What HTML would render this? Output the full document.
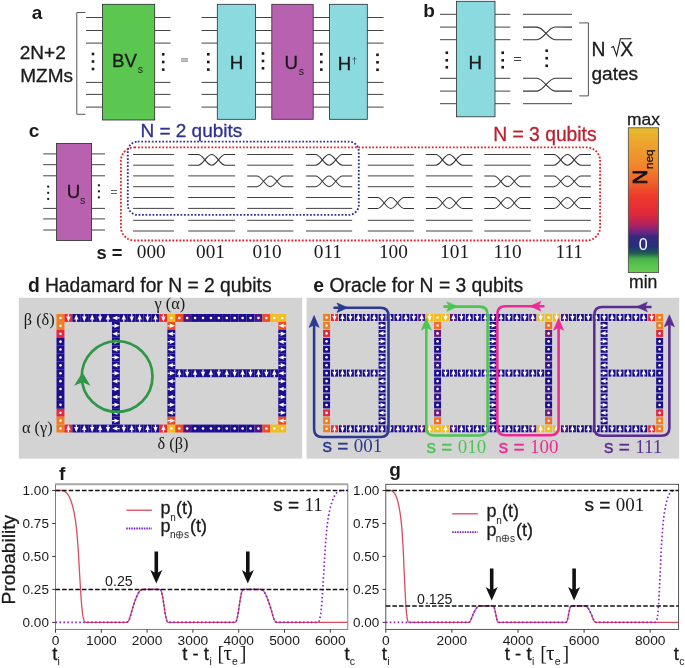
<!DOCTYPE html>
<html><head><meta charset="utf-8"><title>Figure</title>
<style>
html,body{margin:0;padding:0;background:#fff;}
svg{display:block;will-change:transform;transform:translateZ(0)}
.s{font-family:"Liberation Sans",sans-serif;}
.b{font-family:"Liberation Sans",sans-serif;font-weight:bold;}
.f{font-family:"Liberation Serif",serif;}
</style></head><body>
<svg width="685" height="668" viewBox="0 0 685 668">
<rect x="0" y="0" width="685" height="668" fill="#ffffff"/>
<text x="31.80" y="18.90" class="b" font-size="19" fill="#1a1a1a" text-anchor="start" >a</text>
<text x="19.80" y="59.00" class="s" font-size="19" fill="#1a1a1a" text-anchor="start"  stroke="#1a1a1a" stroke-width="0.3">2N+2</text>
<text x="20.30" y="81.60" class="s" font-size="19" fill="#1a1a1a" text-anchor="start"  stroke="#1a1a1a" stroke-width="0.3">MZMs</text>
<polyline points="85.4,12.5 76.8,12.5 76.8,114.3 85.4,114.3" fill="none" stroke="#555" stroke-width="1"/>
<line x1="86.00" y1="17.50" x2="102.50" y2="17.50" stroke="#444444" stroke-width="1.0" />
<line x1="154.70" y1="17.50" x2="170.50" y2="17.50" stroke="#444444" stroke-width="1.0" />
<line x1="201.50" y1="17.50" x2="217.30" y2="17.50" stroke="#444444" stroke-width="1.0" />
<line x1="255.50" y1="17.50" x2="271.80" y2="17.50" stroke="#444444" stroke-width="1.0" />
<line x1="313.20" y1="17.50" x2="329.40" y2="17.50" stroke="#444444" stroke-width="1.0" />
<line x1="367.30" y1="17.50" x2="383.60" y2="17.50" stroke="#444444" stroke-width="1.0" />
<line x1="86.00" y1="30.50" x2="102.50" y2="30.50" stroke="#444444" stroke-width="1.0" />
<line x1="154.70" y1="30.50" x2="170.50" y2="30.50" stroke="#444444" stroke-width="1.0" />
<line x1="201.50" y1="30.50" x2="217.30" y2="30.50" stroke="#444444" stroke-width="1.0" />
<line x1="255.50" y1="30.50" x2="271.80" y2="30.50" stroke="#444444" stroke-width="1.0" />
<line x1="313.20" y1="30.50" x2="329.40" y2="30.50" stroke="#444444" stroke-width="1.0" />
<line x1="367.30" y1="30.50" x2="383.60" y2="30.50" stroke="#444444" stroke-width="1.0" />
<line x1="86.00" y1="43.10" x2="102.50" y2="43.10" stroke="#444444" stroke-width="1.0" />
<line x1="154.70" y1="43.10" x2="170.50" y2="43.10" stroke="#444444" stroke-width="1.0" />
<line x1="201.50" y1="43.10" x2="217.30" y2="43.10" stroke="#444444" stroke-width="1.0" />
<line x1="255.50" y1="43.10" x2="271.80" y2="43.10" stroke="#444444" stroke-width="1.0" />
<line x1="313.20" y1="43.10" x2="329.40" y2="43.10" stroke="#444444" stroke-width="1.0" />
<line x1="367.30" y1="43.10" x2="383.60" y2="43.10" stroke="#444444" stroke-width="1.0" />
<line x1="86.00" y1="82.40" x2="102.50" y2="82.40" stroke="#444444" stroke-width="1.0" />
<line x1="154.70" y1="82.40" x2="170.50" y2="82.40" stroke="#444444" stroke-width="1.0" />
<line x1="201.50" y1="82.40" x2="217.30" y2="82.40" stroke="#444444" stroke-width="1.0" />
<line x1="255.50" y1="82.40" x2="271.80" y2="82.40" stroke="#444444" stroke-width="1.0" />
<line x1="313.20" y1="82.40" x2="329.40" y2="82.40" stroke="#444444" stroke-width="1.0" />
<line x1="367.30" y1="82.40" x2="383.60" y2="82.40" stroke="#444444" stroke-width="1.0" />
<line x1="86.00" y1="94.40" x2="102.50" y2="94.40" stroke="#444444" stroke-width="1.0" />
<line x1="154.70" y1="94.40" x2="170.50" y2="94.40" stroke="#444444" stroke-width="1.0" />
<line x1="201.50" y1="94.40" x2="217.30" y2="94.40" stroke="#444444" stroke-width="1.0" />
<line x1="255.50" y1="94.40" x2="271.80" y2="94.40" stroke="#444444" stroke-width="1.0" />
<line x1="313.20" y1="94.40" x2="329.40" y2="94.40" stroke="#444444" stroke-width="1.0" />
<line x1="367.30" y1="94.40" x2="383.60" y2="94.40" stroke="#444444" stroke-width="1.0" />
<line x1="86.00" y1="107.10" x2="102.50" y2="107.10" stroke="#444444" stroke-width="1.0" />
<line x1="154.70" y1="107.10" x2="170.50" y2="107.10" stroke="#444444" stroke-width="1.0" />
<line x1="201.50" y1="107.10" x2="217.30" y2="107.10" stroke="#444444" stroke-width="1.0" />
<line x1="255.50" y1="107.10" x2="271.80" y2="107.10" stroke="#444444" stroke-width="1.0" />
<line x1="313.20" y1="107.10" x2="329.40" y2="107.10" stroke="#444444" stroke-width="1.0" />
<line x1="367.30" y1="107.10" x2="383.60" y2="107.10" stroke="#444444" stroke-width="1.0" />
<rect x="102.50" y="4.30" width="52.20" height="115.70" fill="#5bc750" stroke="#2a2a2a" stroke-width="0.8" />
<rect x="217.30" y="4.30" width="38.20" height="115.00" fill="#8bdae0" stroke="#2a2a2a" stroke-width="0.8" />
<rect x="271.80" y="4.30" width="41.40" height="115.00" fill="#b961b1" stroke="#2a2a2a" stroke-width="0.8" />
<rect x="329.40" y="4.30" width="37.90" height="115.00" fill="#8bdae0" stroke="#2a2a2a" stroke-width="0.8" />
<rect x="91.70" y="52.70" width="2.60" height="2.60" fill="#1a1a1a"/>
<rect x="91.70" y="60.20" width="2.60" height="2.60" fill="#1a1a1a"/>
<rect x="91.70" y="67.70" width="2.60" height="2.60" fill="#1a1a1a"/>
<rect x="161.90" y="53.00" width="2.60" height="2.60" fill="#1a1a1a"/>
<rect x="161.90" y="60.70" width="2.60" height="2.60" fill="#1a1a1a"/>
<rect x="161.90" y="68.30" width="2.60" height="2.60" fill="#1a1a1a"/>
<rect x="207.00" y="53.00" width="2.60" height="2.60" fill="#1a1a1a"/>
<rect x="207.00" y="60.70" width="2.60" height="2.60" fill="#1a1a1a"/>
<rect x="207.00" y="68.30" width="2.60" height="2.60" fill="#1a1a1a"/>
<rect x="261.70" y="52.20" width="2.60" height="2.60" fill="#1a1a1a"/>
<rect x="261.70" y="59.70" width="2.60" height="2.60" fill="#1a1a1a"/>
<rect x="261.70" y="67.00" width="2.60" height="2.60" fill="#1a1a1a"/>
<rect x="320.00" y="53.00" width="2.60" height="2.60" fill="#1a1a1a"/>
<rect x="320.00" y="60.70" width="2.60" height="2.60" fill="#1a1a1a"/>
<rect x="320.00" y="68.30" width="2.60" height="2.60" fill="#1a1a1a"/>
<rect x="376.20" y="53.50" width="2.60" height="2.60" fill="#1a1a1a"/>
<rect x="376.20" y="61.00" width="2.60" height="2.60" fill="#1a1a1a"/>
<rect x="376.20" y="68.50" width="2.60" height="2.60" fill="#1a1a1a"/>
<text x="112.00" y="67.30" class="s" font-size="18.7" fill="#1a1a1a" text-anchor="start"  stroke="#1a1a1a" stroke-width="0.3">BV</text>
<text x="137.70" y="73.40" class="s" font-size="10.6" fill="#1a1a1a" text-anchor="start" >s</text>
<line x1="181.00" y1="58.90" x2="188.00" y2="58.90" stroke="#8c8c8c" stroke-width="1.3" />
<line x1="181.00" y1="61.10" x2="188.00" y2="61.10" stroke="#8c8c8c" stroke-width="1.3" />
<text x="229.70" y="68.90" class="s" font-size="18.7" fill="#1a1a1a" text-anchor="start"  stroke="#1a1a1a" stroke-width="0.3">H</text>
<text x="284.60" y="69.00" class="s" font-size="18.7" fill="#1a1a1a" text-anchor="start"  stroke="#1a1a1a" stroke-width="0.3">U</text>
<text x="298.80" y="75.30" class="s" font-size="10.6" fill="#1a1a1a" text-anchor="start" >s</text>
<text x="337.80" y="69.90" class="s" font-size="18.7" fill="#1a1a1a" text-anchor="start"  stroke="#1a1a1a" stroke-width="0.3">H</text>
<text x="351.80" y="63.60" class="s" font-size="9.5" fill="#3a4650" text-anchor="start" >†</text>
<text x="423.20" y="17.10" class="b" font-size="19" fill="#1a1a1a" text-anchor="start" >b</text>
<line x1="440.00" y1="14.30" x2="456.50" y2="14.30" stroke="#444444" stroke-width="1.0" />
<line x1="495.00" y1="14.30" x2="510.30" y2="14.30" stroke="#444444" stroke-width="1.0" />
<line x1="440.00" y1="27.10" x2="456.50" y2="27.10" stroke="#444444" stroke-width="1.0" />
<line x1="495.00" y1="27.10" x2="510.30" y2="27.10" stroke="#444444" stroke-width="1.0" />
<line x1="440.00" y1="39.70" x2="456.50" y2="39.70" stroke="#444444" stroke-width="1.0" />
<line x1="495.00" y1="39.70" x2="510.30" y2="39.70" stroke="#444444" stroke-width="1.0" />
<line x1="440.00" y1="78.30" x2="456.50" y2="78.30" stroke="#444444" stroke-width="1.0" />
<line x1="495.00" y1="78.30" x2="510.30" y2="78.30" stroke="#444444" stroke-width="1.0" />
<line x1="440.00" y1="91.10" x2="456.50" y2="91.10" stroke="#444444" stroke-width="1.0" />
<line x1="495.00" y1="91.10" x2="510.30" y2="91.10" stroke="#444444" stroke-width="1.0" />
<line x1="440.00" y1="103.70" x2="456.50" y2="103.70" stroke="#444444" stroke-width="1.0" />
<line x1="495.00" y1="103.70" x2="510.30" y2="103.70" stroke="#444444" stroke-width="1.0" />
<rect x="456.50" y="1.30" width="38.50" height="115.50" fill="#8bdae0" stroke="#2a2a2a" stroke-width="0.8" />
<text x="468.50" y="68.50" class="s" font-size="18.7" fill="#1a1a1a" text-anchor="start"  stroke="#1a1a1a" stroke-width="0.3">H</text>
<rect x="445.50" y="51.40" width="2.60" height="2.60" fill="#1a1a1a"/>
<rect x="445.50" y="59.00" width="2.60" height="2.60" fill="#1a1a1a"/>
<rect x="445.50" y="66.00" width="2.60" height="2.60" fill="#1a1a1a"/>
<rect x="501.40" y="51.40" width="2.60" height="2.60" fill="#1a1a1a"/>
<rect x="501.40" y="59.00" width="2.60" height="2.60" fill="#1a1a1a"/>
<rect x="501.40" y="66.00" width="2.60" height="2.60" fill="#1a1a1a"/>
<rect x="545.40" y="49.40" width="2.60" height="2.60" fill="#1a1a1a"/>
<rect x="545.40" y="56.90" width="2.60" height="2.60" fill="#1a1a1a"/>
<rect x="545.40" y="64.50" width="2.60" height="2.60" fill="#1a1a1a"/>
<line x1="514.00" y1="57.50" x2="521.00" y2="57.50" stroke="#444" stroke-width="1.0" />
<line x1="514.00" y1="60.50" x2="521.00" y2="60.50" stroke="#444" stroke-width="1.0" />
<line x1="523.00" y1="14.30" x2="572.00" y2="14.30" stroke="#444444" stroke-width="1.0" />
<line x1="523.00" y1="103.70" x2="572.00" y2="103.70" stroke="#444444" stroke-width="1.0" />
<path d="M523.00,27.10 H537.00 C543.30,27.10 548.70,39.70 555.00,39.70 H572.00" fill="none" stroke="#333" stroke-width="1.05"/>
<path d="M523.00,39.70 H537.00 C543.30,39.70 548.70,27.10 555.00,27.10 H572.00" fill="none" stroke="#333" stroke-width="1.05"/>
<path d="M523.00,78.30 H537.00 C543.30,78.30 548.70,91.10 555.00,91.10 H572.00" fill="none" stroke="#333" stroke-width="1.05"/>
<path d="M523.00,91.10 H537.00 C543.30,91.10 548.70,78.30 555.00,78.30 H572.00" fill="none" stroke="#333" stroke-width="1.05"/>
<polyline points="579.2,22.9 588.4,22.9 588.4,95.9 579.2,95.9" fill="none" stroke="#555" stroke-width="1"/>
<text x="591.60" y="55.90" class="s" font-size="19.3" fill="#1a1a1a" text-anchor="start"  stroke="#1a1a1a" stroke-width="0.3">N</text>
<path d="M611.2,47.6 L613.4,46.6 L616.6,55.6 L620.4,38.7 L631.3,38.7" fill="none" stroke="#1a1a1a" stroke-width="1.1" stroke-linejoin="miter"/>
<text x="620.30" y="55.90" class="s" font-size="19.3" fill="#1a1a1a" text-anchor="start"  stroke="#1a1a1a" stroke-width="0.3">X</text>
<text x="591.40" y="79.90" class="s" font-size="19.1" fill="#1a1a1a" text-anchor="start"  stroke="#1a1a1a" stroke-width="0.3">gates</text>
<text x="28.70" y="137.20" class="b" font-size="19" fill="#1a1a1a" text-anchor="start" >c</text>
<line x1="43.20" y1="153.90" x2="56.50" y2="153.90" stroke="#444444" stroke-width="1.0" />
<line x1="91.60" y1="153.90" x2="105.00" y2="153.90" stroke="#444444" stroke-width="1.0" />
<line x1="43.20" y1="164.70" x2="56.50" y2="164.70" stroke="#444444" stroke-width="1.0" />
<line x1="91.60" y1="164.70" x2="105.00" y2="164.70" stroke="#444444" stroke-width="1.0" />
<line x1="43.20" y1="175.80" x2="56.50" y2="175.80" stroke="#444444" stroke-width="1.0" />
<line x1="91.60" y1="175.80" x2="105.00" y2="175.80" stroke="#444444" stroke-width="1.0" />
<line x1="43.20" y1="208.40" x2="56.50" y2="208.40" stroke="#444444" stroke-width="1.0" />
<line x1="91.60" y1="208.40" x2="105.00" y2="208.40" stroke="#444444" stroke-width="1.0" />
<line x1="43.20" y1="218.90" x2="56.50" y2="218.90" stroke="#444444" stroke-width="1.0" />
<line x1="91.60" y1="218.90" x2="105.00" y2="218.90" stroke="#444444" stroke-width="1.0" />
<line x1="43.20" y1="230.00" x2="56.50" y2="230.00" stroke="#444444" stroke-width="1.0" />
<line x1="91.60" y1="230.00" x2="105.00" y2="230.00" stroke="#444444" stroke-width="1.0" />
<rect x="56.50" y="143.40" width="35.10" height="97.10" fill="#b961b1" stroke="#2a2a2a" stroke-width="0.8" />
<rect x="47.20" y="185.60" width="2.00" height="2.00" fill="#1a1a1a"/>
<rect x="47.20" y="191.80" width="2.00" height="2.00" fill="#1a1a1a"/>
<rect x="47.20" y="197.90" width="2.00" height="2.00" fill="#1a1a1a"/>
<rect x="97.90" y="184.30" width="2.00" height="2.00" fill="#1a1a1a"/>
<rect x="97.90" y="190.30" width="2.00" height="2.00" fill="#1a1a1a"/>
<rect x="97.90" y="196.40" width="2.00" height="2.00" fill="#1a1a1a"/>
<text x="66.80" y="198.00" class="s" font-size="18.7" fill="#1a1a1a" text-anchor="start"  stroke="#1a1a1a" stroke-width="0.3">U</text>
<text x="80.00" y="204.10" class="s" font-size="10.6" fill="#1a1a1a" text-anchor="start" >s</text>
<line x1="111.00" y1="190.50" x2="117.00" y2="190.50" stroke="#5a5a5a" stroke-width="0.95" />
<line x1="111.00" y1="193.50" x2="117.00" y2="193.50" stroke="#5a5a5a" stroke-width="0.95" />
<line x1="133.10" y1="154.50" x2="173.90" y2="154.50" stroke="#444444" stroke-width="1.0" />
<line x1="133.10" y1="165.20" x2="173.90" y2="165.20" stroke="#444444" stroke-width="1.0" />
<line x1="133.10" y1="175.90" x2="173.90" y2="175.90" stroke="#444444" stroke-width="1.0" />
<line x1="133.10" y1="186.70" x2="173.90" y2="186.70" stroke="#444444" stroke-width="1.0" />
<line x1="133.10" y1="197.50" x2="173.90" y2="197.50" stroke="#444444" stroke-width="1.0" />
<line x1="133.10" y1="208.40" x2="173.90" y2="208.40" stroke="#444444" stroke-width="1.0" />
<line x1="133.10" y1="220.30" x2="173.90" y2="220.30" stroke="#444444" stroke-width="1.0" />
<line x1="133.10" y1="231.00" x2="173.90" y2="231.00" stroke="#444444" stroke-width="1.0" />
<text x="136.80" y="258.30" class="f" font-size="19.3" fill="#1a1a1a" text-anchor="start" >000</text>
<path d="M188.20,154.50 H198.05 C203.22,154.50 206.48,165.20 211.65,165.20 C216.82,165.20 220.08,154.50 225.25,154.50 H235.10" fill="none" stroke="#333" stroke-width="1.05"/>
<path d="M188.20,165.20 H198.05 C203.22,165.20 206.48,154.50 211.65,154.50 C216.82,154.50 220.08,165.20 225.25,165.20 H235.10" fill="none" stroke="#333" stroke-width="1.05"/>
<line x1="188.20" y1="175.90" x2="235.10" y2="175.90" stroke="#444444" stroke-width="1.0" />
<line x1="188.20" y1="186.70" x2="235.10" y2="186.70" stroke="#444444" stroke-width="1.0" />
<line x1="188.20" y1="197.50" x2="235.10" y2="197.50" stroke="#444444" stroke-width="1.0" />
<line x1="188.20" y1="208.40" x2="235.10" y2="208.40" stroke="#444444" stroke-width="1.0" />
<line x1="188.20" y1="220.30" x2="235.10" y2="220.30" stroke="#444444" stroke-width="1.0" />
<line x1="188.20" y1="231.00" x2="235.10" y2="231.00" stroke="#444444" stroke-width="1.0" />
<text x="196.00" y="258.30" class="f" font-size="19.3" fill="#1a1a1a" text-anchor="start" >001</text>
<path d="M247.20,175.90 H256.88 C261.96,175.90 265.17,186.70 270.25,186.70 C275.33,186.70 278.54,175.90 283.62,175.90 H293.30" fill="none" stroke="#333" stroke-width="1.05"/>
<path d="M247.20,186.70 H256.88 C261.96,186.70 265.17,175.90 270.25,175.90 C275.33,175.90 278.54,186.70 283.62,186.70 H293.30" fill="none" stroke="#333" stroke-width="1.05"/>
<line x1="247.20" y1="154.50" x2="293.30" y2="154.50" stroke="#444444" stroke-width="1.0" />
<line x1="247.20" y1="165.20" x2="293.30" y2="165.20" stroke="#444444" stroke-width="1.0" />
<line x1="247.20" y1="197.50" x2="293.30" y2="197.50" stroke="#444444" stroke-width="1.0" />
<line x1="247.20" y1="208.40" x2="293.30" y2="208.40" stroke="#444444" stroke-width="1.0" />
<line x1="247.20" y1="220.30" x2="293.30" y2="220.30" stroke="#444444" stroke-width="1.0" />
<line x1="247.20" y1="231.00" x2="293.30" y2="231.00" stroke="#444444" stroke-width="1.0" />
<text x="252.60" y="258.30" class="f" font-size="19.3" fill="#1a1a1a" text-anchor="start" >010</text>
<path d="M305.90,154.50 H315.62 C320.73,154.50 323.95,165.20 329.05,165.20 C334.15,165.20 337.37,154.50 342.48,154.50 H352.20" fill="none" stroke="#333" stroke-width="1.05"/>
<path d="M305.90,165.20 H315.62 C320.73,165.20 323.95,154.50 329.05,154.50 C334.15,154.50 337.37,165.20 342.48,165.20 H352.20" fill="none" stroke="#333" stroke-width="1.05"/>
<path d="M305.90,175.90 H315.62 C320.73,175.90 323.95,186.70 329.05,186.70 C334.15,186.70 337.37,175.90 342.48,175.90 H352.20" fill="none" stroke="#333" stroke-width="1.05"/>
<path d="M305.90,186.70 H315.62 C320.73,186.70 323.95,175.90 329.05,175.90 C334.15,175.90 337.37,186.70 342.48,186.70 H352.20" fill="none" stroke="#333" stroke-width="1.05"/>
<line x1="305.90" y1="197.50" x2="352.20" y2="197.50" stroke="#444444" stroke-width="1.0" />
<line x1="305.90" y1="208.40" x2="352.20" y2="208.40" stroke="#444444" stroke-width="1.0" />
<line x1="305.90" y1="220.30" x2="352.20" y2="220.30" stroke="#444444" stroke-width="1.0" />
<line x1="305.90" y1="231.00" x2="352.20" y2="231.00" stroke="#444444" stroke-width="1.0" />
<text x="313.80" y="258.30" class="f" font-size="19.3" fill="#1a1a1a" text-anchor="start" >011</text>
<path d="M367.80,197.50 H377.48 C382.56,197.50 385.77,208.40 390.85,208.40 C395.93,208.40 399.14,197.50 404.22,197.50 H413.90" fill="none" stroke="#333" stroke-width="1.05"/>
<path d="M367.80,208.40 H377.48 C382.56,208.40 385.77,197.50 390.85,197.50 C395.93,197.50 399.14,208.40 404.22,208.40 H413.90" fill="none" stroke="#333" stroke-width="1.05"/>
<line x1="367.80" y1="154.50" x2="413.90" y2="154.50" stroke="#444444" stroke-width="1.0" />
<line x1="367.80" y1="165.20" x2="413.90" y2="165.20" stroke="#444444" stroke-width="1.0" />
<line x1="367.80" y1="175.90" x2="413.90" y2="175.90" stroke="#444444" stroke-width="1.0" />
<line x1="367.80" y1="186.70" x2="413.90" y2="186.70" stroke="#444444" stroke-width="1.0" />
<line x1="367.80" y1="220.30" x2="413.90" y2="220.30" stroke="#444444" stroke-width="1.0" />
<line x1="367.80" y1="231.00" x2="413.90" y2="231.00" stroke="#444444" stroke-width="1.0" />
<text x="378.90" y="258.30" class="f" font-size="19.3" fill="#1a1a1a" text-anchor="start" >100</text>
<path d="M425.90,154.50 H435.71 C440.85,154.50 444.10,165.20 449.25,165.20 C454.40,165.20 457.65,154.50 462.79,154.50 H472.60" fill="none" stroke="#333" stroke-width="1.05"/>
<path d="M425.90,165.20 H435.71 C440.85,165.20 444.10,154.50 449.25,154.50 C454.40,154.50 457.65,165.20 462.79,165.20 H472.60" fill="none" stroke="#333" stroke-width="1.05"/>
<path d="M425.90,197.50 H435.71 C440.85,197.50 444.10,208.40 449.25,208.40 C454.40,208.40 457.65,197.50 462.79,197.50 H472.60" fill="none" stroke="#333" stroke-width="1.05"/>
<path d="M425.90,208.40 H435.71 C440.85,208.40 444.10,197.50 449.25,197.50 C454.40,197.50 457.65,208.40 462.79,208.40 H472.60" fill="none" stroke="#333" stroke-width="1.05"/>
<line x1="425.90" y1="175.90" x2="472.60" y2="175.90" stroke="#444444" stroke-width="1.0" />
<line x1="425.90" y1="186.70" x2="472.60" y2="186.70" stroke="#444444" stroke-width="1.0" />
<line x1="425.90" y1="220.30" x2="472.60" y2="220.30" stroke="#444444" stroke-width="1.0" />
<line x1="425.90" y1="231.00" x2="472.60" y2="231.00" stroke="#444444" stroke-width="1.0" />
<text x="440.10" y="258.30" class="f" font-size="19.3" fill="#1a1a1a" text-anchor="start" >101</text>
<path d="M484.30,175.90 H494.06 C499.19,175.90 502.43,186.70 507.55,186.70 C512.67,186.70 515.91,175.90 521.03,175.90 H530.80" fill="none" stroke="#333" stroke-width="1.05"/>
<path d="M484.30,186.70 H494.06 C499.19,186.70 502.43,175.90 507.55,175.90 C512.67,175.90 515.91,186.70 521.03,186.70 H530.80" fill="none" stroke="#333" stroke-width="1.05"/>
<path d="M484.30,197.50 H494.06 C499.19,197.50 502.43,208.40 507.55,208.40 C512.67,208.40 515.91,197.50 521.03,197.50 H530.80" fill="none" stroke="#333" stroke-width="1.05"/>
<path d="M484.30,208.40 H494.06 C499.19,208.40 502.43,197.50 507.55,197.50 C512.67,197.50 515.91,208.40 521.03,208.40 H530.80" fill="none" stroke="#333" stroke-width="1.05"/>
<line x1="484.30" y1="154.50" x2="530.80" y2="154.50" stroke="#444444" stroke-width="1.0" />
<line x1="484.30" y1="165.20" x2="530.80" y2="165.20" stroke="#444444" stroke-width="1.0" />
<line x1="484.30" y1="220.30" x2="530.80" y2="220.30" stroke="#444444" stroke-width="1.0" />
<line x1="484.30" y1="231.00" x2="530.80" y2="231.00" stroke="#444444" stroke-width="1.0" />
<text x="493.50" y="258.30" class="f" font-size="19.3" fill="#1a1a1a" text-anchor="start" >110</text>
<path d="M544.00,154.50 H553.85 C559.02,154.50 562.28,165.20 567.45,165.20 C572.62,165.20 575.88,154.50 581.05,154.50 H590.90" fill="none" stroke="#333" stroke-width="1.05"/>
<path d="M544.00,165.20 H553.85 C559.02,165.20 562.28,154.50 567.45,154.50 C572.62,154.50 575.88,165.20 581.05,165.20 H590.90" fill="none" stroke="#333" stroke-width="1.05"/>
<path d="M544.00,175.90 H553.85 C559.02,175.90 562.28,186.70 567.45,186.70 C572.62,186.70 575.88,175.90 581.05,175.90 H590.90" fill="none" stroke="#333" stroke-width="1.05"/>
<path d="M544.00,186.70 H553.85 C559.02,186.70 562.28,175.90 567.45,175.90 C572.62,175.90 575.88,186.70 581.05,186.70 H590.90" fill="none" stroke="#333" stroke-width="1.05"/>
<path d="M544.00,197.50 H553.85 C559.02,197.50 562.28,208.40 567.45,208.40 C572.62,208.40 575.88,197.50 581.05,197.50 H590.90" fill="none" stroke="#333" stroke-width="1.05"/>
<path d="M544.00,208.40 H553.85 C559.02,208.40 562.28,197.50 567.45,197.50 C572.62,197.50 575.88,208.40 581.05,208.40 H590.90" fill="none" stroke="#333" stroke-width="1.05"/>
<line x1="544.00" y1="220.30" x2="590.90" y2="220.30" stroke="#444444" stroke-width="1.0" />
<line x1="544.00" y1="231.00" x2="590.90" y2="231.00" stroke="#444444" stroke-width="1.0" />
<text x="555.50" y="258.30" class="f" font-size="19.3" fill="#1a1a1a" text-anchor="start" >111</text>
<text x="96.50" y="258.50" class="b" font-size="18.3" fill="#1a1a1a" text-anchor="start" >s =</text>
<rect x="127.8" y="141.6" width="231.0" height="73.3" rx="10" ry="10" fill="none" stroke="#2e3192" stroke-width="1.85" stroke-dasharray="1.75 1.75"/>
<rect x="120.9" y="147.3" width="479.2" height="93.2" rx="13.5" ry="13.5" fill="none" stroke="#ed1c24" stroke-width="1.85" stroke-dasharray="1.75 1.75"/>
<text x="140.40" y="137.20" class="s" font-size="19" fill="#2e3192" text-anchor="start"  stroke="#2e3192" stroke-width="0.3">N = 2 qubits</text>
<text x="493.20" y="140.50" class="s" font-size="19.3" fill="#be1e2d" text-anchor="start"  stroke="#be1e2d" stroke-width="0.3">N = 3 qubits</text>
<defs><linearGradient id="cb" x1="0" y1="0" x2="0" y2="1">
<stop offset="0" stop-color="#e6bd2e"/><stop offset="0.10" stop-color="#eca52c"/><stop offset="0.25" stop-color="#f08a2c"/>
<stop offset="0.38" stop-color="#f0602a"/><stop offset="0.47" stop-color="#ee3a2a"/><stop offset="0.58" stop-color="#e42a36"/>
<stop offset="0.66" stop-color="#b8225a"/><stop offset="0.715" stop-color="#722680"/><stop offset="0.755" stop-color="#36297f"/>
<stop offset="0.82" stop-color="#24307a"/><stop offset="0.865" stop-color="#1f5a52"/><stop offset="0.905" stop-color="#48b04a"/><stop offset="0.95" stop-color="#58c44e"/><stop offset="1" stop-color="#68cc50"/>
</linearGradient></defs>
<rect x="628.30" y="127.80" width="30.10" height="144.80" fill="url(#cb)" stroke="#4a4a40" stroke-width="0.8" />
<text x="643.40" y="124.50" class="s" font-size="17.4" fill="#1a1a1a" text-anchor="middle"  stroke="#1a1a1a" stroke-width="0.3">max</text>
<text x="643.20" y="287.70" class="s" font-size="17.6" fill="#1a1a1a" text-anchor="middle"  stroke="#1a1a1a" stroke-width="0.3">min</text>
<text x="643.20" y="249.70" class="s" font-size="16" fill="#ffffff" text-anchor="middle" >0</text>
<g transform="translate(647.0,184.4) rotate(-90)"><text x="0" y="0" class="s" font-size="20.6" fill="#111" stroke="#111" stroke-width="0.75">N</text><text x="15.4" y="5.7" class="s" font-size="11.8" fill="#111" stroke="#111" stroke-width="0.25">neq</text></g>
<text x="28.00" y="291.70" class="b" font-size="19.3" fill="#1a1a1a" text-anchor="start" >d</text>
<text x="44.90" y="291.70" class="s" font-size="19.3" fill="#1a1a1a" text-anchor="start"  stroke="#1a1a1a" stroke-width="0.3">Hadamard for N = 2 qubits</text>
<text x="313.30" y="291.70" class="b" font-size="19.3" fill="#1a1a1a" text-anchor="start" >e</text>
<text x="329.60" y="291.70" class="s" font-size="19.3" fill="#1a1a1a" text-anchor="start"  stroke="#1a1a1a" stroke-width="0.3">Oracle for N = 3 qubits</text>
<rect x="18.80" y="297.80" width="283.40" height="160.80" fill="#d3d3d3" stroke="none" stroke-width="0.8" />
<rect x="306.60" y="297.80" width="372.60" height="160.80" fill="#d3d3d3" stroke="none" stroke-width="0.8" />
<rect x="56.50" y="314.00" width="7.92" height="7.90" fill="#f47b20"/>
<circle cx="60.46" cy="317.95" r="1.3" fill="#fff"/>
<rect x="64.42" y="314.00" width="7.92" height="7.90" fill="#ee2630"/>
<polygon points="67.78,314.15 68.98,314.15 68.98,316.75 70.63,316.25 68.38,321.75 66.13,316.25 67.78,316.75" fill="#fff"/>
<rect x="72.34" y="314.00" width="7.92" height="7.90" fill="#1b0d8e"/>
<polygon points="75.70,321.75 76.90,321.75 76.90,319.15 78.55,319.65 76.30,314.15 74.05,319.65 75.70,319.15" fill="#fff"/>
<rect x="80.26" y="314.00" width="7.92" height="7.90" fill="#1b0d8e"/>
<polygon points="83.62,314.15 84.82,314.15 84.82,316.75 86.47,316.25 84.22,321.75 81.97,316.25 83.62,316.75" fill="#fff"/>
<rect x="88.18" y="314.00" width="7.92" height="7.90" fill="#1b0d8e"/>
<polygon points="91.54,321.75 92.74,321.75 92.74,319.15 94.39,319.65 92.14,314.15 89.89,319.65 91.54,319.15" fill="#fff"/>
<rect x="96.10" y="314.00" width="7.92" height="7.90" fill="#1b0d8e"/>
<polygon points="99.46,314.15 100.66,314.15 100.66,316.75 102.31,316.25 100.06,321.75 97.81,316.25 99.46,316.75" fill="#fff"/>
<rect x="104.02" y="314.00" width="7.92" height="7.90" fill="#1b0d8e"/>
<polygon points="107.38,321.75 108.58,321.75 108.58,319.15 110.23,319.65 107.98,314.15 105.73,319.65 107.38,319.15" fill="#fff"/>
<rect x="111.94" y="314.00" width="7.92" height="7.90" fill="#1b0d8e"/>
<polygon points="119.70,317.35 119.70,318.55 117.10,318.55 117.60,320.20 112.10,317.95 117.60,315.70 117.10,317.35" fill="#fff"/>
<rect x="119.86" y="314.00" width="7.92" height="7.90" fill="#1b0d8e"/>
<polygon points="123.22,321.75 124.42,321.75 124.42,319.15 126.07,319.65 123.82,314.15 121.57,319.65 123.22,319.15" fill="#fff"/>
<rect x="127.78" y="314.00" width="7.92" height="7.90" fill="#1b0d8e"/>
<polygon points="131.14,314.15 132.34,314.15 132.34,316.75 133.99,316.25 131.74,321.75 129.49,316.25 131.14,316.75" fill="#fff"/>
<rect x="135.70" y="314.00" width="7.92" height="7.90" fill="#1b0d8e"/>
<polygon points="139.06,321.75 140.26,321.75 140.26,319.15 141.91,319.65 139.66,314.15 137.41,319.65 139.06,319.15" fill="#fff"/>
<rect x="143.62" y="314.00" width="7.92" height="7.90" fill="#1b0d8e"/>
<polygon points="146.98,314.15 148.18,314.15 148.18,316.75 149.83,316.25 147.58,321.75 145.33,316.25 146.98,316.75" fill="#fff"/>
<rect x="151.54" y="314.00" width="7.92" height="7.90" fill="#1b0d8e"/>
<polygon points="154.90,321.75 156.10,321.75 156.10,319.15 157.75,319.65 155.50,314.15 153.25,319.65 154.90,319.15" fill="#fff"/>
<rect x="159.46" y="314.00" width="7.92" height="7.90" fill="#ee2630"/>
<polygon points="162.82,314.15 164.02,314.15 164.02,316.75 165.67,316.25 163.42,321.75 161.17,316.25 162.82,316.75" fill="#fff"/>
<rect x="167.38" y="314.00" width="7.92" height="7.90" fill="#f2bc1e"/>
<circle cx="171.34" cy="317.95" r="1.3" fill="#fff"/>
<rect x="175.30" y="314.00" width="7.92" height="7.90" fill="#f04a24"/>
<circle cx="179.26" cy="317.95" r="1.3" fill="#fff"/>
<rect x="183.22" y="314.00" width="7.92" height="7.90" fill="#4a1688"/>
<circle cx="187.18" cy="317.95" r="1.3" fill="#fff"/>
<rect x="191.14" y="314.00" width="7.92" height="7.90" fill="#1b0d8e"/>
<circle cx="195.10" cy="317.95" r="1.3" fill="#fff"/>
<rect x="199.06" y="314.00" width="7.92" height="7.90" fill="#1b0d8e"/>
<circle cx="203.02" cy="317.95" r="1.3" fill="#fff"/>
<rect x="206.98" y="314.00" width="7.92" height="7.90" fill="#1b0d8e"/>
<circle cx="210.94" cy="317.95" r="1.3" fill="#fff"/>
<rect x="214.90" y="314.00" width="7.92" height="7.90" fill="#1b0d8e"/>
<circle cx="218.86" cy="317.95" r="1.3" fill="#fff"/>
<rect x="222.82" y="314.00" width="7.92" height="7.90" fill="#1b0d8e"/>
<circle cx="226.78" cy="317.95" r="1.3" fill="#fff"/>
<rect x="230.74" y="314.00" width="7.92" height="7.90" fill="#1b0d8e"/>
<circle cx="234.70" cy="317.95" r="1.3" fill="#fff"/>
<rect x="238.66" y="314.00" width="7.92" height="7.90" fill="#1b0d8e"/>
<circle cx="242.62" cy="317.95" r="1.3" fill="#fff"/>
<rect x="246.58" y="314.00" width="7.92" height="7.90" fill="#1b0d8e"/>
<circle cx="250.54" cy="317.95" r="1.3" fill="#fff"/>
<rect x="254.50" y="314.00" width="7.92" height="7.90" fill="#4a1688"/>
<circle cx="258.46" cy="317.95" r="1.3" fill="#fff"/>
<rect x="262.42" y="314.00" width="7.92" height="7.90" fill="#f04a24"/>
<circle cx="266.38" cy="317.95" r="1.3" fill="#fff"/>
<rect x="270.34" y="314.00" width="7.92" height="7.90" fill="#f2bc1e"/>
<circle cx="274.30" cy="317.95" r="1.3" fill="#fff"/>
<rect x="278.26" y="314.00" width="7.92" height="7.90" fill="#f2bc1e"/>
<circle cx="282.22" cy="317.95" r="1.3" fill="#fff"/>
<rect x="56.50" y="424.60" width="7.92" height="7.90" fill="#f47b20"/>
<circle cx="60.46" cy="428.55" r="1.3" fill="#fff"/>
<rect x="64.42" y="424.60" width="7.92" height="7.90" fill="#ee2630"/>
<polygon points="67.78,432.35 68.98,432.35 68.98,429.75 70.63,430.25 68.38,424.75 66.13,430.25 67.78,429.75" fill="#fff"/>
<rect x="72.34" y="424.60" width="7.92" height="7.90" fill="#1b0d8e"/>
<polygon points="75.70,424.75 76.90,424.75 76.90,427.35 78.55,426.85 76.30,432.35 74.05,426.85 75.70,427.35" fill="#fff"/>
<rect x="80.26" y="424.60" width="7.92" height="7.90" fill="#1b0d8e"/>
<polygon points="83.62,432.35 84.82,432.35 84.82,429.75 86.47,430.25 84.22,424.75 81.97,430.25 83.62,429.75" fill="#fff"/>
<rect x="88.18" y="424.60" width="7.92" height="7.90" fill="#1b0d8e"/>
<polygon points="91.54,424.75 92.74,424.75 92.74,427.35 94.39,426.85 92.14,432.35 89.89,426.85 91.54,427.35" fill="#fff"/>
<rect x="96.10" y="424.60" width="7.92" height="7.90" fill="#1b0d8e"/>
<polygon points="99.46,432.35 100.66,432.35 100.66,429.75 102.31,430.25 100.06,424.75 97.81,430.25 99.46,429.75" fill="#fff"/>
<rect x="104.02" y="424.60" width="7.92" height="7.90" fill="#1b0d8e"/>
<polygon points="107.38,424.75 108.58,424.75 108.58,427.35 110.23,426.85 107.98,432.35 105.73,426.85 107.38,427.35" fill="#fff"/>
<rect x="111.94" y="424.60" width="7.92" height="7.90" fill="#1b0d8e"/>
<polygon points="119.70,427.95 119.70,429.15 117.10,429.15 117.60,430.80 112.10,428.55 117.60,426.30 117.10,427.95" fill="#fff"/>
<rect x="119.86" y="424.60" width="7.92" height="7.90" fill="#1b0d8e"/>
<polygon points="123.22,424.75 124.42,424.75 124.42,427.35 126.07,426.85 123.82,432.35 121.57,426.85 123.22,427.35" fill="#fff"/>
<rect x="127.78" y="424.60" width="7.92" height="7.90" fill="#1b0d8e"/>
<polygon points="131.14,432.35 132.34,432.35 132.34,429.75 133.99,430.25 131.74,424.75 129.49,430.25 131.14,429.75" fill="#fff"/>
<rect x="135.70" y="424.60" width="7.92" height="7.90" fill="#1b0d8e"/>
<polygon points="139.06,424.75 140.26,424.75 140.26,427.35 141.91,426.85 139.66,432.35 137.41,426.85 139.06,427.35" fill="#fff"/>
<rect x="143.62" y="424.60" width="7.92" height="7.90" fill="#1b0d8e"/>
<polygon points="146.98,432.35 148.18,432.35 148.18,429.75 149.83,430.25 147.58,424.75 145.33,430.25 146.98,429.75" fill="#fff"/>
<rect x="151.54" y="424.60" width="7.92" height="7.90" fill="#1b0d8e"/>
<polygon points="154.90,424.75 156.10,424.75 156.10,427.35 157.75,426.85 155.50,432.35 153.25,426.85 154.90,427.35" fill="#fff"/>
<rect x="159.46" y="424.60" width="7.92" height="7.90" fill="#ee2630"/>
<polygon points="162.82,432.35 164.02,432.35 164.02,429.75 165.67,430.25 163.42,424.75 161.17,430.25 162.82,429.75" fill="#fff"/>
<rect x="167.38" y="424.60" width="7.92" height="7.90" fill="#f2bc1e"/>
<circle cx="171.34" cy="428.55" r="1.3" fill="#fff"/>
<rect x="175.30" y="424.60" width="7.92" height="7.90" fill="#f04a24"/>
<circle cx="179.26" cy="428.55" r="1.3" fill="#fff"/>
<rect x="183.22" y="424.60" width="7.92" height="7.90" fill="#4a1688"/>
<circle cx="187.18" cy="428.55" r="1.3" fill="#fff"/>
<rect x="191.14" y="424.60" width="7.92" height="7.90" fill="#1b0d8e"/>
<circle cx="195.10" cy="428.55" r="1.3" fill="#fff"/>
<rect x="199.06" y="424.60" width="7.92" height="7.90" fill="#1b0d8e"/>
<circle cx="203.02" cy="428.55" r="1.3" fill="#fff"/>
<rect x="206.98" y="424.60" width="7.92" height="7.90" fill="#1b0d8e"/>
<circle cx="210.94" cy="428.55" r="1.3" fill="#fff"/>
<rect x="214.90" y="424.60" width="7.92" height="7.90" fill="#1b0d8e"/>
<circle cx="218.86" cy="428.55" r="1.3" fill="#fff"/>
<rect x="222.82" y="424.60" width="7.92" height="7.90" fill="#1b0d8e"/>
<circle cx="226.78" cy="428.55" r="1.3" fill="#fff"/>
<rect x="230.74" y="424.60" width="7.92" height="7.90" fill="#1b0d8e"/>
<circle cx="234.70" cy="428.55" r="1.3" fill="#fff"/>
<rect x="238.66" y="424.60" width="7.92" height="7.90" fill="#1b0d8e"/>
<circle cx="242.62" cy="428.55" r="1.3" fill="#fff"/>
<rect x="246.58" y="424.60" width="7.92" height="7.90" fill="#1b0d8e"/>
<circle cx="250.54" cy="428.55" r="1.3" fill="#fff"/>
<rect x="254.50" y="424.60" width="7.92" height="7.90" fill="#4a1688"/>
<circle cx="258.46" cy="428.55" r="1.3" fill="#fff"/>
<rect x="262.42" y="424.60" width="7.92" height="7.90" fill="#f04a24"/>
<circle cx="266.38" cy="428.55" r="1.3" fill="#fff"/>
<rect x="270.34" y="424.60" width="7.92" height="7.90" fill="#f2bc1e"/>
<circle cx="274.30" cy="428.55" r="1.3" fill="#fff"/>
<rect x="278.26" y="424.60" width="7.92" height="7.90" fill="#f2bc1e"/>
<circle cx="282.22" cy="428.55" r="1.3" fill="#fff"/>
<rect x="56.50" y="321.90" width="7.92" height="7.90" fill="#f47b20"/>
<circle cx="60.46" cy="325.85" r="1.3" fill="#fff"/>
<rect x="111.94" y="321.90" width="7.92" height="7.90" fill="#1b0d8e"/>
<polygon points="112.10,325.25 112.10,326.45 114.70,326.45 114.20,328.10 119.70,325.85 114.20,323.60 114.70,325.25" fill="#fff"/>
<rect x="167.38" y="321.90" width="7.92" height="7.90" fill="#f04a24"/>
<polygon points="167.54,325.25 167.54,326.45 170.14,326.45 169.64,328.10 175.14,325.85 169.64,323.60 170.14,325.25" fill="#fff"/>
<rect x="278.26" y="321.90" width="7.92" height="7.90" fill="#f04a24"/>
<polygon points="286.02,325.25 286.02,326.45 283.42,326.45 283.92,328.10 278.42,325.85 283.92,323.60 283.42,325.25" fill="#fff"/>
<rect x="56.50" y="329.80" width="7.92" height="7.90" fill="#e8243e"/>
<circle cx="60.46" cy="333.75" r="1.3" fill="#fff"/>
<rect x="111.94" y="329.80" width="7.92" height="7.90" fill="#1b0d8e"/>
<polygon points="119.70,333.15 119.70,334.35 117.10,334.35 117.60,336.00 112.10,333.75 117.60,331.50 117.10,333.15" fill="#fff"/>
<rect x="167.38" y="329.80" width="7.92" height="7.90" fill="#1b0d8e"/>
<polygon points="175.14,333.15 175.14,334.35 172.54,334.35 173.04,336.00 167.54,333.75 173.04,331.50 172.54,333.15" fill="#fff"/>
<rect x="278.26" y="329.80" width="7.92" height="7.90" fill="#1b0d8e"/>
<polygon points="278.42,333.15 278.42,334.35 281.02,334.35 280.52,336.00 286.02,333.75 280.52,331.50 281.02,333.15" fill="#fff"/>
<rect x="56.50" y="337.70" width="7.92" height="7.90" fill="#1b0d8e"/>
<circle cx="60.46" cy="341.65" r="1.3" fill="#fff"/>
<rect x="111.94" y="337.70" width="7.92" height="7.90" fill="#1b0d8e"/>
<polygon points="112.10,341.05 112.10,342.25 114.70,342.25 114.20,343.90 119.70,341.65 114.20,339.40 114.70,341.05" fill="#fff"/>
<rect x="167.38" y="337.70" width="7.92" height="7.90" fill="#1b0d8e"/>
<polygon points="167.54,341.05 167.54,342.25 170.14,342.25 169.64,343.90 175.14,341.65 169.64,339.40 170.14,341.05" fill="#fff"/>
<rect x="278.26" y="337.70" width="7.92" height="7.90" fill="#1b0d8e"/>
<polygon points="286.02,341.05 286.02,342.25 283.42,342.25 283.92,343.90 278.42,341.65 283.92,339.40 283.42,341.05" fill="#fff"/>
<rect x="56.50" y="345.60" width="7.92" height="7.90" fill="#1b0d8e"/>
<circle cx="60.46" cy="349.55" r="1.3" fill="#fff"/>
<rect x="111.94" y="345.60" width="7.92" height="7.90" fill="#1b0d8e"/>
<polygon points="119.70,348.95 119.70,350.15 117.10,350.15 117.60,351.80 112.10,349.55 117.60,347.30 117.10,348.95" fill="#fff"/>
<rect x="167.38" y="345.60" width="7.92" height="7.90" fill="#1b0d8e"/>
<polygon points="175.14,348.95 175.14,350.15 172.54,350.15 173.04,351.80 167.54,349.55 173.04,347.30 172.54,348.95" fill="#fff"/>
<rect x="278.26" y="345.60" width="7.92" height="7.90" fill="#1b0d8e"/>
<polygon points="278.42,348.95 278.42,350.15 281.02,350.15 280.52,351.80 286.02,349.55 280.52,347.30 281.02,348.95" fill="#fff"/>
<rect x="56.50" y="353.50" width="7.92" height="7.90" fill="#1b0d8e"/>
<circle cx="60.46" cy="357.45" r="1.3" fill="#fff"/>
<rect x="111.94" y="353.50" width="7.92" height="7.90" fill="#1b0d8e"/>
<polygon points="112.10,356.85 112.10,358.05 114.70,358.05 114.20,359.70 119.70,357.45 114.20,355.20 114.70,356.85" fill="#fff"/>
<rect x="167.38" y="353.50" width="7.92" height="7.90" fill="#1b0d8e"/>
<polygon points="167.54,356.85 167.54,358.05 170.14,358.05 169.64,359.70 175.14,357.45 169.64,355.20 170.14,356.85" fill="#fff"/>
<rect x="278.26" y="353.50" width="7.92" height="7.90" fill="#1b0d8e"/>
<polygon points="286.02,356.85 286.02,358.05 283.42,358.05 283.92,359.70 278.42,357.45 283.92,355.20 283.42,356.85" fill="#fff"/>
<rect x="56.50" y="361.40" width="7.92" height="7.90" fill="#1b0d8e"/>
<circle cx="60.46" cy="365.35" r="1.3" fill="#fff"/>
<rect x="111.94" y="361.40" width="7.92" height="7.90" fill="#1b0d8e"/>
<polygon points="119.70,364.75 119.70,365.95 117.10,365.95 117.60,367.60 112.10,365.35 117.60,363.10 117.10,364.75" fill="#fff"/>
<rect x="167.38" y="361.40" width="7.92" height="7.90" fill="#1b0d8e"/>
<polygon points="175.14,364.75 175.14,365.95 172.54,365.95 173.04,367.60 167.54,365.35 173.04,363.10 172.54,364.75" fill="#fff"/>
<rect x="278.26" y="361.40" width="7.92" height="7.90" fill="#1b0d8e"/>
<polygon points="278.42,364.75 278.42,365.95 281.02,365.95 280.52,367.60 286.02,365.35 280.52,363.10 281.02,364.75" fill="#fff"/>
<rect x="56.50" y="369.30" width="7.92" height="7.90" fill="#1b0d8e"/>
<circle cx="60.46" cy="373.25" r="1.3" fill="#fff"/>
<rect x="111.94" y="369.30" width="7.92" height="7.90" fill="#1b0d8e"/>
<polygon points="112.10,372.65 112.10,373.85 114.70,373.85 114.20,375.50 119.70,373.25 114.20,371.00 114.70,372.65" fill="#fff"/>
<rect x="167.38" y="369.30" width="7.92" height="7.90" fill="#1b0d8e"/>
<polygon points="167.54,372.65 167.54,373.85 170.14,373.85 169.64,375.50 175.14,373.25 169.64,371.00 170.14,372.65" fill="#fff"/>
<rect x="278.26" y="369.30" width="7.92" height="7.90" fill="#1b0d8e"/>
<polygon points="286.02,372.65 286.02,373.85 283.42,373.85 283.92,375.50 278.42,373.25 283.92,371.00 283.42,372.65" fill="#fff"/>
<rect x="56.50" y="377.20" width="7.92" height="7.90" fill="#1b0d8e"/>
<circle cx="60.46" cy="381.15" r="1.3" fill="#fff"/>
<rect x="111.94" y="377.20" width="7.92" height="7.90" fill="#1b0d8e"/>
<polygon points="119.70,380.55 119.70,381.75 117.10,381.75 117.60,383.40 112.10,381.15 117.60,378.90 117.10,380.55" fill="#fff"/>
<rect x="167.38" y="377.20" width="7.92" height="7.90" fill="#1b0d8e"/>
<polygon points="175.14,380.55 175.14,381.75 172.54,381.75 173.04,383.40 167.54,381.15 173.04,378.90 172.54,380.55" fill="#fff"/>
<rect x="278.26" y="377.20" width="7.92" height="7.90" fill="#1b0d8e"/>
<polygon points="278.42,380.55 278.42,381.75 281.02,381.75 280.52,383.40 286.02,381.15 280.52,378.90 281.02,380.55" fill="#fff"/>
<rect x="56.50" y="385.10" width="7.92" height="7.90" fill="#1b0d8e"/>
<circle cx="60.46" cy="389.05" r="1.3" fill="#fff"/>
<rect x="111.94" y="385.10" width="7.92" height="7.90" fill="#1b0d8e"/>
<polygon points="112.10,388.45 112.10,389.65 114.70,389.65 114.20,391.30 119.70,389.05 114.20,386.80 114.70,388.45" fill="#fff"/>
<rect x="167.38" y="385.10" width="7.92" height="7.90" fill="#1b0d8e"/>
<polygon points="167.54,388.45 167.54,389.65 170.14,389.65 169.64,391.30 175.14,389.05 169.64,386.80 170.14,388.45" fill="#fff"/>
<rect x="278.26" y="385.10" width="7.92" height="7.90" fill="#1b0d8e"/>
<polygon points="286.02,388.45 286.02,389.65 283.42,389.65 283.92,391.30 278.42,389.05 283.92,386.80 283.42,388.45" fill="#fff"/>
<rect x="56.50" y="393.00" width="7.92" height="7.90" fill="#1b0d8e"/>
<circle cx="60.46" cy="396.95" r="1.3" fill="#fff"/>
<rect x="111.94" y="393.00" width="7.92" height="7.90" fill="#1b0d8e"/>
<polygon points="119.70,396.35 119.70,397.55 117.10,397.55 117.60,399.20 112.10,396.95 117.60,394.70 117.10,396.35" fill="#fff"/>
<rect x="167.38" y="393.00" width="7.92" height="7.90" fill="#1b0d8e"/>
<polygon points="175.14,396.35 175.14,397.55 172.54,397.55 173.04,399.20 167.54,396.95 173.04,394.70 172.54,396.35" fill="#fff"/>
<rect x="278.26" y="393.00" width="7.92" height="7.90" fill="#1b0d8e"/>
<polygon points="278.42,396.35 278.42,397.55 281.02,397.55 280.52,399.20 286.02,396.95 280.52,394.70 281.02,396.35" fill="#fff"/>
<rect x="56.50" y="400.90" width="7.92" height="7.90" fill="#1b0d8e"/>
<circle cx="60.46" cy="404.85" r="1.3" fill="#fff"/>
<rect x="111.94" y="400.90" width="7.92" height="7.90" fill="#1b0d8e"/>
<polygon points="112.10,404.25 112.10,405.45 114.70,405.45 114.20,407.10 119.70,404.85 114.20,402.60 114.70,404.25" fill="#fff"/>
<rect x="167.38" y="400.90" width="7.92" height="7.90" fill="#1b0d8e"/>
<polygon points="167.54,404.25 167.54,405.45 170.14,405.45 169.64,407.10 175.14,404.85 169.64,402.60 170.14,404.25" fill="#fff"/>
<rect x="278.26" y="400.90" width="7.92" height="7.90" fill="#1b0d8e"/>
<polygon points="286.02,404.25 286.02,405.45 283.42,405.45 283.92,407.10 278.42,404.85 283.92,402.60 283.42,404.25" fill="#fff"/>
<rect x="56.50" y="408.80" width="7.92" height="7.90" fill="#e8243e"/>
<circle cx="60.46" cy="412.75" r="1.3" fill="#fff"/>
<rect x="111.94" y="408.80" width="7.92" height="7.90" fill="#1b0d8e"/>
<polygon points="119.70,412.15 119.70,413.35 117.10,413.35 117.60,415.00 112.10,412.75 117.60,410.50 117.10,412.15" fill="#fff"/>
<rect x="167.38" y="408.80" width="7.92" height="7.90" fill="#1b0d8e"/>
<polygon points="175.14,412.15 175.14,413.35 172.54,413.35 173.04,415.00 167.54,412.75 173.04,410.50 172.54,412.15" fill="#fff"/>
<rect x="278.26" y="408.80" width="7.92" height="7.90" fill="#1b0d8e"/>
<polygon points="278.42,412.15 278.42,413.35 281.02,413.35 280.52,415.00 286.02,412.75 280.52,410.50 281.02,412.15" fill="#fff"/>
<rect x="56.50" y="416.70" width="7.92" height="7.90" fill="#f47b20"/>
<circle cx="60.46" cy="420.65" r="1.3" fill="#fff"/>
<rect x="111.94" y="416.70" width="7.92" height="7.90" fill="#1b0d8e"/>
<polygon points="112.10,420.05 112.10,421.25 114.70,421.25 114.20,422.90 119.70,420.65 114.20,418.40 114.70,420.05" fill="#fff"/>
<rect x="167.38" y="416.70" width="7.92" height="7.90" fill="#f04a24"/>
<polygon points="167.54,420.05 167.54,421.25 170.14,421.25 169.64,422.90 175.14,420.65 169.64,418.40 170.14,420.05" fill="#fff"/>
<rect x="278.26" y="416.70" width="7.92" height="7.90" fill="#f04a24"/>
<polygon points="286.02,420.05 286.02,421.25 283.42,421.25 283.92,422.90 278.42,420.65 283.92,418.40 283.42,420.05" fill="#fff"/>
<rect x="175.30" y="369.30" width="7.92" height="7.90" fill="#1b0d8e"/>
<polygon points="178.66,377.05 179.86,377.05 179.86,374.45 181.51,374.95 179.26,369.45 177.01,374.95 178.66,374.45" fill="#fff"/>
<rect x="183.22" y="369.30" width="7.92" height="7.90" fill="#1b0d8e"/>
<polygon points="186.58,369.45 187.78,369.45 187.78,372.05 189.43,371.55 187.18,377.05 184.93,371.55 186.58,372.05" fill="#fff"/>
<rect x="191.14" y="369.30" width="7.92" height="7.90" fill="#1b0d8e"/>
<polygon points="194.50,377.05 195.70,377.05 195.70,374.45 197.35,374.95 195.10,369.45 192.85,374.95 194.50,374.45" fill="#fff"/>
<rect x="199.06" y="369.30" width="7.92" height="7.90" fill="#1b0d8e"/>
<polygon points="202.42,369.45 203.62,369.45 203.62,372.05 205.27,371.55 203.02,377.05 200.77,371.55 202.42,372.05" fill="#fff"/>
<rect x="206.98" y="369.30" width="7.92" height="7.90" fill="#1b0d8e"/>
<polygon points="210.34,377.05 211.54,377.05 211.54,374.45 213.19,374.95 210.94,369.45 208.69,374.95 210.34,374.45" fill="#fff"/>
<rect x="214.90" y="369.30" width="7.92" height="7.90" fill="#1b0d8e"/>
<polygon points="218.26,369.45 219.46,369.45 219.46,372.05 221.11,371.55 218.86,377.05 216.61,371.55 218.26,372.05" fill="#fff"/>
<rect x="222.82" y="369.30" width="7.92" height="7.90" fill="#1b0d8e"/>
<polygon points="226.18,377.05 227.38,377.05 227.38,374.45 229.03,374.95 226.78,369.45 224.53,374.95 226.18,374.45" fill="#fff"/>
<rect x="230.74" y="369.30" width="7.92" height="7.90" fill="#1b0d8e"/>
<polygon points="234.10,369.45 235.30,369.45 235.30,372.05 236.95,371.55 234.70,377.05 232.45,371.55 234.10,372.05" fill="#fff"/>
<rect x="238.66" y="369.30" width="7.92" height="7.90" fill="#1b0d8e"/>
<polygon points="242.02,377.05 243.22,377.05 243.22,374.45 244.87,374.95 242.62,369.45 240.37,374.95 242.02,374.45" fill="#fff"/>
<rect x="246.58" y="369.30" width="7.92" height="7.90" fill="#1b0d8e"/>
<polygon points="249.94,369.45 251.14,369.45 251.14,372.05 252.79,371.55 250.54,377.05 248.29,371.55 249.94,372.05" fill="#fff"/>
<rect x="254.50" y="369.30" width="7.92" height="7.90" fill="#1b0d8e"/>
<polygon points="257.86,377.05 259.06,377.05 259.06,374.45 260.71,374.95 258.46,369.45 256.21,374.95 257.86,374.45" fill="#fff"/>
<rect x="262.42" y="369.30" width="7.92" height="7.90" fill="#1b0d8e"/>
<polygon points="265.78,369.45 266.98,369.45 266.98,372.05 268.63,371.55 266.38,377.05 264.13,371.55 265.78,372.05" fill="#fff"/>
<rect x="270.34" y="369.30" width="7.92" height="7.90" fill="#1b0d8e"/>
<polygon points="273.70,377.05 274.90,377.05 274.90,374.45 276.55,374.95 274.30,369.45 272.05,374.95 273.70,374.45" fill="#fff"/>
<circle cx="117.1" cy="376.5" r="35.4" fill="none" stroke="#2e9748" stroke-width="2.7"/>
<polygon points="82.5,372.2 90.4,385.8 82.5,382.2 74.0,385.8" fill="#2e9748"/>
<text x="23.80" y="325.00" class="f" font-size="16.3" fill="#1a1a1a" text-anchor="start" >β (δ)</text>
<text x="22.00" y="432.50" class="f" font-size="16.3" fill="#1a1a1a" text-anchor="start" >α (γ)</text>
<text x="154.60" y="309.00" class="f" font-size="16.3" fill="#1a1a1a" text-anchor="start" >γ (α)</text>
<text x="157.60" y="449.00" class="f" font-size="16.3" fill="#1a1a1a" text-anchor="start" >δ (β)</text>
<rect x="323.08" y="313.98" width="6.98" height="7.00" fill="#f47b20"/>
<circle cx="326.56" cy="317.48" r="1.3" fill="#fff"/>
<rect x="331.01" y="313.98" width="6.98" height="7.00" fill="#ee2630"/>
<polygon points="333.89,313.68 335.10,313.68 335.10,316.28 336.75,315.78 334.50,321.28 332.25,315.78 333.89,316.28" fill="#fff"/>
<rect x="338.94" y="313.98" width="6.98" height="7.00" fill="#1b0d8e"/>
<polygon points="341.82,321.28 343.03,321.28 343.03,318.68 344.68,319.18 342.43,313.68 340.18,319.18 341.82,318.68" fill="#fff"/>
<rect x="346.87" y="313.98" width="6.98" height="7.00" fill="#1b0d8e"/>
<polygon points="349.75,313.68 350.96,313.68 350.96,316.28 352.61,315.78 350.36,321.28 348.11,315.78 349.75,316.28" fill="#fff"/>
<rect x="354.80" y="313.98" width="6.98" height="7.00" fill="#1b0d8e"/>
<polygon points="357.69,321.28 358.89,321.28 358.89,318.68 360.54,319.18 358.29,313.68 356.04,319.18 357.69,318.68" fill="#fff"/>
<rect x="362.73" y="313.98" width="6.98" height="7.00" fill="#1b0d8e"/>
<polygon points="365.61,313.68 366.81,313.68 366.81,316.28 368.46,315.78 366.21,321.28 363.96,315.78 365.61,316.28" fill="#fff"/>
<rect x="370.66" y="313.98" width="6.98" height="7.00" fill="#1b0d8e"/>
<polygon points="373.54,321.28 374.75,321.28 374.75,318.68 376.39,319.18 374.14,313.68 371.89,319.18 373.54,318.68" fill="#fff"/>
<rect x="378.59" y="313.98" width="6.98" height="7.00" fill="#1b0d8e"/>
<polygon points="381.47,313.68 382.68,313.68 382.68,316.28 384.32,315.78 382.07,321.28 379.82,315.78 381.47,316.28" fill="#fff"/>
<rect x="386.52" y="313.98" width="6.98" height="7.00" fill="#1b0d8e"/>
<polygon points="389.40,321.28 390.61,321.28 390.61,318.68 392.25,319.18 390.00,313.68 387.75,319.18 389.40,318.68" fill="#fff"/>
<rect x="394.45" y="313.98" width="6.98" height="7.00" fill="#1b0d8e"/>
<polygon points="397.33,313.68 398.54,313.68 398.54,316.28 400.19,315.78 397.94,321.28 395.69,315.78 397.33,316.28" fill="#fff"/>
<rect x="402.38" y="313.98" width="6.98" height="7.00" fill="#1b0d8e"/>
<polygon points="405.26,321.28 406.47,321.28 406.47,318.68 408.12,319.18 405.87,313.68 403.62,319.18 405.26,318.68" fill="#fff"/>
<rect x="410.31" y="313.98" width="6.98" height="7.00" fill="#1b0d8e"/>
<polygon points="413.19,313.68 414.40,313.68 414.40,316.28 416.05,315.78 413.80,321.28 411.55,315.78 413.19,316.28" fill="#fff"/>
<rect x="418.24" y="313.98" width="6.98" height="7.00" fill="#4a1688"/>
<polygon points="421.12,321.28 422.32,321.28 422.32,318.68 423.97,319.18 421.72,313.68 419.47,319.18 421.12,318.68" fill="#fff"/>
<rect x="426.17" y="313.98" width="6.98" height="7.00" fill="#f2bc1e"/>
<polygon points="429.06,313.68 430.26,313.68 430.26,316.28 431.91,315.78 429.66,321.28 427.41,315.78 429.06,316.28" fill="#fff"/>
<rect x="434.10" y="313.98" width="6.98" height="7.00" fill="#f2bc1e"/>
<circle cx="437.58" cy="317.48" r="1.3" fill="#fff"/>
<rect x="442.03" y="313.98" width="6.98" height="7.00" fill="#f2bc1e"/>
<polygon points="444.91,313.68 446.12,313.68 446.12,316.28 447.76,315.78 445.51,321.28 443.26,315.78 444.91,316.28" fill="#fff"/>
<rect x="449.96" y="313.98" width="6.98" height="7.00" fill="#4a1688"/>
<polygon points="452.84,321.28 454.05,321.28 454.05,318.68 455.69,319.18 453.44,313.68 451.19,319.18 452.84,318.68" fill="#fff"/>
<rect x="457.89" y="313.98" width="6.98" height="7.00" fill="#1b0d8e"/>
<polygon points="460.77,313.68 461.98,313.68 461.98,316.28 463.62,315.78 461.38,321.28 459.12,315.78 460.77,316.28" fill="#fff"/>
<rect x="465.82" y="313.98" width="6.98" height="7.00" fill="#1b0d8e"/>
<polygon points="468.70,321.28 469.91,321.28 469.91,318.68 471.56,319.18 469.31,313.68 467.06,319.18 468.70,318.68" fill="#fff"/>
<rect x="473.75" y="313.98" width="6.98" height="7.00" fill="#1b0d8e"/>
<polygon points="476.63,313.68 477.83,313.68 477.83,316.28 479.48,315.78 477.23,321.28 474.98,315.78 476.63,316.28" fill="#fff"/>
<rect x="481.68" y="313.98" width="6.98" height="7.00" fill="#1b0d8e"/>
<polygon points="484.56,321.28 485.77,321.28 485.77,318.68 487.42,319.18 485.17,313.68 482.92,319.18 484.56,318.68" fill="#fff"/>
<rect x="489.61" y="313.98" width="6.98" height="7.00" fill="#1b0d8e"/>
<polygon points="492.49,313.68 493.69,313.68 493.69,316.28 495.34,315.78 493.09,321.28 490.84,315.78 492.49,316.28" fill="#fff"/>
<rect x="497.54" y="313.98" width="6.98" height="7.00" fill="#1b0d8e"/>
<polygon points="500.42,321.28 501.62,321.28 501.62,318.68 503.27,319.18 501.02,313.68 498.77,319.18 500.42,318.68" fill="#fff"/>
<rect x="505.47" y="313.98" width="6.98" height="7.00" fill="#1b0d8e"/>
<polygon points="508.35,313.68 509.56,313.68 509.56,316.28 511.20,315.78 508.95,321.28 506.70,315.78 508.35,316.28" fill="#fff"/>
<rect x="513.40" y="313.98" width="6.98" height="7.00" fill="#1b0d8e"/>
<polygon points="516.29,321.28 517.49,321.28 517.49,318.68 519.14,319.18 516.89,313.68 514.64,319.18 516.29,318.68" fill="#fff"/>
<rect x="521.33" y="313.98" width="6.98" height="7.00" fill="#1b0d8e"/>
<polygon points="524.22,313.68 525.42,313.68 525.42,316.28 527.07,315.78 524.82,321.28 522.57,315.78 524.22,316.28" fill="#fff"/>
<rect x="529.25" y="313.98" width="6.98" height="7.00" fill="#4a1688"/>
<polygon points="532.14,321.28 533.35,321.28 533.35,318.68 535.00,319.18 532.75,313.68 530.50,319.18 532.14,318.68" fill="#fff"/>
<rect x="537.19" y="313.98" width="6.98" height="7.00" fill="#f2bc1e"/>
<polygon points="540.08,313.68 541.28,313.68 541.28,316.28 542.93,315.78 540.68,321.28 538.43,315.78 540.08,316.28" fill="#fff"/>
<rect x="545.12" y="313.98" width="6.98" height="7.00" fill="#f2bc1e"/>
<circle cx="548.61" cy="317.48" r="1.3" fill="#fff"/>
<rect x="553.05" y="313.98" width="6.98" height="7.00" fill="#f2bc1e"/>
<polygon points="555.94,313.68 557.14,313.68 557.14,316.28 558.79,315.78 556.54,321.28 554.29,315.78 555.94,316.28" fill="#fff"/>
<rect x="560.98" y="313.98" width="6.98" height="7.00" fill="#4a1688"/>
<polygon points="563.87,321.28 565.07,321.28 565.07,318.68 566.72,319.18 564.47,313.68 562.22,319.18 563.87,318.68" fill="#fff"/>
<rect x="568.91" y="313.98" width="6.98" height="7.00" fill="#1b0d8e"/>
<polygon points="571.80,313.68 573.00,313.68 573.00,316.28 574.65,315.78 572.40,321.28 570.15,315.78 571.80,316.28" fill="#fff"/>
<rect x="576.84" y="313.98" width="6.98" height="7.00" fill="#1b0d8e"/>
<polygon points="579.73,321.28 580.93,321.28 580.93,318.68 582.58,319.18 580.33,313.68 578.08,319.18 579.73,318.68" fill="#fff"/>
<rect x="584.76" y="313.98" width="6.98" height="7.00" fill="#1b0d8e"/>
<polygon points="587.65,313.68 588.86,313.68 588.86,316.28 590.50,315.78 588.25,321.28 586.00,315.78 587.65,316.28" fill="#fff"/>
<rect x="592.70" y="313.98" width="6.98" height="7.00" fill="#1b0d8e"/>
<polygon points="595.59,321.28 596.79,321.28 596.79,318.68 598.44,319.18 596.19,313.68 593.94,319.18 595.59,318.68" fill="#fff"/>
<rect x="600.63" y="313.98" width="6.98" height="7.00" fill="#1b0d8e"/>
<polygon points="603.52,313.68 604.72,313.68 604.72,316.28 606.37,315.78 604.12,321.28 601.87,315.78 603.52,316.28" fill="#fff"/>
<rect x="608.56" y="313.98" width="6.98" height="7.00" fill="#1b0d8e"/>
<polygon points="611.45,321.28 612.65,321.28 612.65,318.68 614.30,319.18 612.05,313.68 609.80,319.18 611.45,318.68" fill="#fff"/>
<rect x="616.49" y="313.98" width="6.98" height="7.00" fill="#1b0d8e"/>
<polygon points="619.38,313.68 620.58,313.68 620.58,316.28 622.23,315.78 619.98,321.28 617.73,315.78 619.38,316.28" fill="#fff"/>
<rect x="624.42" y="313.98" width="6.98" height="7.00" fill="#1b0d8e"/>
<polygon points="627.31,321.28 628.51,321.28 628.51,318.68 630.16,319.18 627.91,313.68 625.66,319.18 627.31,318.68" fill="#fff"/>
<rect x="632.35" y="313.98" width="6.98" height="7.00" fill="#1b0d8e"/>
<polygon points="635.24,313.68 636.44,313.68 636.44,316.28 638.09,315.78 635.84,321.28 633.59,315.78 635.24,316.28" fill="#fff"/>
<rect x="640.27" y="313.98" width="6.98" height="7.00" fill="#1b0d8e"/>
<polygon points="643.16,321.28 644.37,321.28 644.37,318.68 646.01,319.18 643.76,313.68 641.51,319.18 643.16,318.68" fill="#fff"/>
<rect x="648.21" y="313.98" width="6.98" height="7.00" fill="#ee2630"/>
<polygon points="651.10,313.68 652.30,313.68 652.30,316.28 653.95,315.78 651.70,321.28 649.45,315.78 651.10,316.28" fill="#fff"/>
<rect x="656.14" y="313.98" width="6.98" height="7.00" fill="#f47b20"/>
<circle cx="659.63" cy="317.48" r="1.3" fill="#fff"/>
<rect x="323.08" y="425.28" width="6.98" height="7.00" fill="#f47b20"/>
<circle cx="326.56" cy="428.78" r="1.3" fill="#fff"/>
<rect x="331.01" y="425.28" width="6.98" height="7.00" fill="#ee2630"/>
<polygon points="333.89,432.58 335.10,432.58 335.10,429.98 336.75,430.48 334.50,424.98 332.25,430.48 333.89,429.98" fill="#fff"/>
<rect x="338.94" y="425.28" width="6.98" height="7.00" fill="#1b0d8e"/>
<polygon points="341.82,424.98 343.03,424.98 343.03,427.58 344.68,427.08 342.43,432.58 340.18,427.08 341.82,427.58" fill="#fff"/>
<rect x="346.87" y="425.28" width="6.98" height="7.00" fill="#1b0d8e"/>
<polygon points="349.75,432.58 350.96,432.58 350.96,429.98 352.61,430.48 350.36,424.98 348.11,430.48 349.75,429.98" fill="#fff"/>
<rect x="354.80" y="425.28" width="6.98" height="7.00" fill="#1b0d8e"/>
<polygon points="357.69,424.98 358.89,424.98 358.89,427.58 360.54,427.08 358.29,432.58 356.04,427.08 357.69,427.58" fill="#fff"/>
<rect x="362.73" y="425.28" width="6.98" height="7.00" fill="#1b0d8e"/>
<polygon points="365.61,432.58 366.81,432.58 366.81,429.98 368.46,430.48 366.21,424.98 363.96,430.48 365.61,429.98" fill="#fff"/>
<rect x="370.66" y="425.28" width="6.98" height="7.00" fill="#1b0d8e"/>
<polygon points="373.54,424.98 374.75,424.98 374.75,427.58 376.39,427.08 374.14,432.58 371.89,427.08 373.54,427.58" fill="#fff"/>
<rect x="378.59" y="425.28" width="6.98" height="7.00" fill="#1b0d8e"/>
<polygon points="381.47,432.58 382.68,432.58 382.68,429.98 384.32,430.48 382.07,424.98 379.82,430.48 381.47,429.98" fill="#fff"/>
<rect x="386.52" y="425.28" width="6.98" height="7.00" fill="#1b0d8e"/>
<polygon points="389.40,424.98 390.61,424.98 390.61,427.58 392.25,427.08 390.00,432.58 387.75,427.08 389.40,427.58" fill="#fff"/>
<rect x="394.45" y="425.28" width="6.98" height="7.00" fill="#1b0d8e"/>
<polygon points="397.33,432.58 398.54,432.58 398.54,429.98 400.19,430.48 397.94,424.98 395.69,430.48 397.33,429.98" fill="#fff"/>
<rect x="402.38" y="425.28" width="6.98" height="7.00" fill="#1b0d8e"/>
<polygon points="405.26,424.98 406.47,424.98 406.47,427.58 408.12,427.08 405.87,432.58 403.62,427.08 405.26,427.58" fill="#fff"/>
<rect x="410.31" y="425.28" width="6.98" height="7.00" fill="#1b0d8e"/>
<polygon points="413.19,432.58 414.40,432.58 414.40,429.98 416.05,430.48 413.80,424.98 411.55,430.48 413.19,429.98" fill="#fff"/>
<rect x="418.24" y="425.28" width="6.98" height="7.00" fill="#4a1688"/>
<polygon points="421.12,424.98 422.32,424.98 422.32,427.58 423.97,427.08 421.72,432.58 419.47,427.08 421.12,427.58" fill="#fff"/>
<rect x="426.17" y="425.28" width="6.98" height="7.00" fill="#f2bc1e"/>
<polygon points="429.06,432.58 430.26,432.58 430.26,429.98 431.91,430.48 429.66,424.98 427.41,430.48 429.06,429.98" fill="#fff"/>
<rect x="434.10" y="425.28" width="6.98" height="7.00" fill="#f2bc1e"/>
<circle cx="437.58" cy="428.78" r="1.3" fill="#fff"/>
<rect x="442.03" y="425.28" width="6.98" height="7.00" fill="#f2bc1e"/>
<polygon points="444.91,432.58 446.12,432.58 446.12,429.98 447.76,430.48 445.51,424.98 443.26,430.48 444.91,429.98" fill="#fff"/>
<rect x="449.96" y="425.28" width="6.98" height="7.00" fill="#4a1688"/>
<polygon points="452.84,424.98 454.05,424.98 454.05,427.58 455.69,427.08 453.44,432.58 451.19,427.08 452.84,427.58" fill="#fff"/>
<rect x="457.89" y="425.28" width="6.98" height="7.00" fill="#1b0d8e"/>
<polygon points="460.77,432.58 461.98,432.58 461.98,429.98 463.62,430.48 461.38,424.98 459.12,430.48 460.77,429.98" fill="#fff"/>
<rect x="465.82" y="425.28" width="6.98" height="7.00" fill="#1b0d8e"/>
<polygon points="468.70,424.98 469.91,424.98 469.91,427.58 471.56,427.08 469.31,432.58 467.06,427.08 468.70,427.58" fill="#fff"/>
<rect x="473.75" y="425.28" width="6.98" height="7.00" fill="#1b0d8e"/>
<polygon points="476.63,432.58 477.83,432.58 477.83,429.98 479.48,430.48 477.23,424.98 474.98,430.48 476.63,429.98" fill="#fff"/>
<rect x="481.68" y="425.28" width="6.98" height="7.00" fill="#1b0d8e"/>
<polygon points="484.56,424.98 485.77,424.98 485.77,427.58 487.42,427.08 485.17,432.58 482.92,427.08 484.56,427.58" fill="#fff"/>
<rect x="489.61" y="425.28" width="6.98" height="7.00" fill="#1b0d8e"/>
<polygon points="492.49,432.58 493.69,432.58 493.69,429.98 495.34,430.48 493.09,424.98 490.84,430.48 492.49,429.98" fill="#fff"/>
<rect x="497.54" y="425.28" width="6.98" height="7.00" fill="#1b0d8e"/>
<polygon points="500.42,424.98 501.62,424.98 501.62,427.58 503.27,427.08 501.02,432.58 498.77,427.08 500.42,427.58" fill="#fff"/>
<rect x="505.47" y="425.28" width="6.98" height="7.00" fill="#1b0d8e"/>
<polygon points="508.35,432.58 509.56,432.58 509.56,429.98 511.20,430.48 508.95,424.98 506.70,430.48 508.35,429.98" fill="#fff"/>
<rect x="513.40" y="425.28" width="6.98" height="7.00" fill="#1b0d8e"/>
<polygon points="516.29,424.98 517.49,424.98 517.49,427.58 519.14,427.08 516.89,432.58 514.64,427.08 516.29,427.58" fill="#fff"/>
<rect x="521.33" y="425.28" width="6.98" height="7.00" fill="#1b0d8e"/>
<polygon points="524.22,432.58 525.42,432.58 525.42,429.98 527.07,430.48 524.82,424.98 522.57,430.48 524.22,429.98" fill="#fff"/>
<rect x="529.25" y="425.28" width="6.98" height="7.00" fill="#4a1688"/>
<polygon points="532.14,424.98 533.35,424.98 533.35,427.58 535.00,427.08 532.75,432.58 530.50,427.08 532.14,427.58" fill="#fff"/>
<rect x="537.19" y="425.28" width="6.98" height="7.00" fill="#f2bc1e"/>
<polygon points="540.08,432.58 541.28,432.58 541.28,429.98 542.93,430.48 540.68,424.98 538.43,430.48 540.08,429.98" fill="#fff"/>
<rect x="545.12" y="425.28" width="6.98" height="7.00" fill="#f2bc1e"/>
<circle cx="548.61" cy="428.78" r="1.3" fill="#fff"/>
<rect x="553.05" y="425.28" width="6.98" height="7.00" fill="#f2bc1e"/>
<polygon points="555.94,432.58 557.14,432.58 557.14,429.98 558.79,430.48 556.54,424.98 554.29,430.48 555.94,429.98" fill="#fff"/>
<rect x="560.98" y="425.28" width="6.98" height="7.00" fill="#4a1688"/>
<polygon points="563.87,424.98 565.07,424.98 565.07,427.58 566.72,427.08 564.47,432.58 562.22,427.08 563.87,427.58" fill="#fff"/>
<rect x="568.91" y="425.28" width="6.98" height="7.00" fill="#1b0d8e"/>
<polygon points="571.80,432.58 573.00,432.58 573.00,429.98 574.65,430.48 572.40,424.98 570.15,430.48 571.80,429.98" fill="#fff"/>
<rect x="576.84" y="425.28" width="6.98" height="7.00" fill="#1b0d8e"/>
<polygon points="579.73,424.98 580.93,424.98 580.93,427.58 582.58,427.08 580.33,432.58 578.08,427.08 579.73,427.58" fill="#fff"/>
<rect x="584.76" y="425.28" width="6.98" height="7.00" fill="#1b0d8e"/>
<polygon points="587.65,432.58 588.86,432.58 588.86,429.98 590.50,430.48 588.25,424.98 586.00,430.48 587.65,429.98" fill="#fff"/>
<rect x="592.70" y="425.28" width="6.98" height="7.00" fill="#1b0d8e"/>
<polygon points="595.59,424.98 596.79,424.98 596.79,427.58 598.44,427.08 596.19,432.58 593.94,427.08 595.59,427.58" fill="#fff"/>
<rect x="600.63" y="425.28" width="6.98" height="7.00" fill="#1b0d8e"/>
<polygon points="603.52,432.58 604.72,432.58 604.72,429.98 606.37,430.48 604.12,424.98 601.87,430.48 603.52,429.98" fill="#fff"/>
<rect x="608.56" y="425.28" width="6.98" height="7.00" fill="#1b0d8e"/>
<polygon points="611.45,424.98 612.65,424.98 612.65,427.58 614.30,427.08 612.05,432.58 609.80,427.08 611.45,427.58" fill="#fff"/>
<rect x="616.49" y="425.28" width="6.98" height="7.00" fill="#1b0d8e"/>
<polygon points="619.38,432.58 620.58,432.58 620.58,429.98 622.23,430.48 619.98,424.98 617.73,430.48 619.38,429.98" fill="#fff"/>
<rect x="624.42" y="425.28" width="6.98" height="7.00" fill="#1b0d8e"/>
<polygon points="627.31,424.98 628.51,424.98 628.51,427.58 630.16,427.08 627.91,432.58 625.66,427.08 627.31,427.58" fill="#fff"/>
<rect x="632.35" y="425.28" width="6.98" height="7.00" fill="#1b0d8e"/>
<polygon points="635.24,432.58 636.44,432.58 636.44,429.98 638.09,430.48 635.84,424.98 633.59,430.48 635.24,429.98" fill="#fff"/>
<rect x="640.27" y="425.28" width="6.98" height="7.00" fill="#1b0d8e"/>
<polygon points="643.16,424.98 644.37,424.98 644.37,427.58 646.01,427.08 643.76,432.58 641.51,427.08 643.16,427.58" fill="#fff"/>
<rect x="648.21" y="425.28" width="6.98" height="7.00" fill="#ee2630"/>
<polygon points="651.10,432.58 652.30,432.58 652.30,429.98 653.95,430.48 651.70,424.98 649.45,430.48 651.10,429.98" fill="#fff"/>
<rect x="656.14" y="425.28" width="6.98" height="7.00" fill="#f47b20"/>
<circle cx="659.63" cy="428.78" r="1.3" fill="#fff"/>
<rect x="323.08" y="321.93" width="6.98" height="7.00" fill="#f47b20"/>
<circle cx="326.56" cy="325.43" r="1.3" fill="#fff"/>
<rect x="656.14" y="321.93" width="6.98" height="7.00" fill="#f47b20"/>
<circle cx="659.63" cy="325.43" r="1.3" fill="#fff"/>
<rect x="434.10" y="321.93" width="6.98" height="7.00" fill="#f26a21"/>
<circle cx="437.58" cy="325.43" r="1.3" fill="#fff"/>
<rect x="545.12" y="321.93" width="6.98" height="7.00" fill="#f26a21"/>
<circle cx="548.61" cy="325.43" r="1.3" fill="#fff"/>
<rect x="378.59" y="321.93" width="6.98" height="7.00" fill="#1b0d8e"/>
<polygon points="378.27,324.82 378.27,326.03 380.88,326.03 380.38,327.68 385.88,325.43 380.38,323.18 380.88,324.82" fill="#fff"/>
<rect x="489.61" y="321.93" width="6.98" height="7.00" fill="#1b0d8e"/>
<polygon points="489.29,324.82 489.29,326.03 491.89,326.03 491.39,327.68 496.89,325.43 491.39,323.18 491.89,324.82" fill="#fff"/>
<rect x="600.63" y="321.93" width="6.98" height="7.00" fill="#1b0d8e"/>
<polygon points="600.32,324.82 600.32,326.03 602.92,326.03 602.42,327.68 607.92,325.43 602.42,323.18 602.92,324.82" fill="#fff"/>
<rect x="323.08" y="329.88" width="6.98" height="7.00" fill="#e8243e"/>
<circle cx="326.56" cy="333.38" r="1.3" fill="#fff"/>
<rect x="656.14" y="329.88" width="6.98" height="7.00" fill="#e8243e"/>
<circle cx="659.63" cy="333.38" r="1.3" fill="#fff"/>
<rect x="434.10" y="329.88" width="6.98" height="7.00" fill="#6d1b7b"/>
<circle cx="437.58" cy="333.38" r="1.3" fill="#fff"/>
<rect x="545.12" y="329.88" width="6.98" height="7.00" fill="#6d1b7b"/>
<circle cx="548.61" cy="333.38" r="1.3" fill="#fff"/>
<rect x="378.59" y="329.88" width="6.98" height="7.00" fill="#1b0d8e"/>
<polygon points="385.88,332.77 385.88,333.98 383.27,333.98 383.77,335.62 378.27,333.38 383.77,331.12 383.27,332.77" fill="#fff"/>
<rect x="489.61" y="329.88" width="6.98" height="7.00" fill="#1b0d8e"/>
<polygon points="496.89,332.77 496.89,333.98 494.29,333.98 494.79,335.62 489.29,333.38 494.79,331.12 494.29,332.77" fill="#fff"/>
<rect x="600.63" y="329.88" width="6.98" height="7.00" fill="#1b0d8e"/>
<polygon points="607.92,332.77 607.92,333.98 605.32,333.98 605.82,335.62 600.32,333.38 605.82,331.12 605.32,332.77" fill="#fff"/>
<rect x="323.08" y="337.83" width="6.98" height="7.00" fill="#1b0d8e"/>
<circle cx="326.56" cy="341.33" r="1.3" fill="#fff"/>
<rect x="656.14" y="337.83" width="6.98" height="7.00" fill="#1b0d8e"/>
<circle cx="659.63" cy="341.33" r="1.3" fill="#fff"/>
<rect x="434.10" y="337.83" width="6.98" height="7.00" fill="#1b0d8e"/>
<circle cx="437.58" cy="341.33" r="1.3" fill="#fff"/>
<rect x="545.12" y="337.83" width="6.98" height="7.00" fill="#1b0d8e"/>
<circle cx="548.61" cy="341.33" r="1.3" fill="#fff"/>
<rect x="378.59" y="337.83" width="6.98" height="7.00" fill="#1b0d8e"/>
<polygon points="378.27,340.73 378.27,341.93 380.88,341.93 380.38,343.58 385.88,341.33 380.38,339.08 380.88,340.73" fill="#fff"/>
<rect x="489.61" y="337.83" width="6.98" height="7.00" fill="#1b0d8e"/>
<polygon points="489.29,340.73 489.29,341.93 491.89,341.93 491.39,343.58 496.89,341.33 491.39,339.08 491.89,340.73" fill="#fff"/>
<rect x="600.63" y="337.83" width="6.98" height="7.00" fill="#1b0d8e"/>
<polygon points="600.32,340.73 600.32,341.93 602.92,341.93 602.42,343.58 607.92,341.33 602.42,339.08 602.92,340.73" fill="#fff"/>
<rect x="323.08" y="345.78" width="6.98" height="7.00" fill="#1b0d8e"/>
<circle cx="326.56" cy="349.28" r="1.3" fill="#fff"/>
<rect x="656.14" y="345.78" width="6.98" height="7.00" fill="#1b0d8e"/>
<circle cx="659.63" cy="349.28" r="1.3" fill="#fff"/>
<rect x="434.10" y="345.78" width="6.98" height="7.00" fill="#1b0d8e"/>
<circle cx="437.58" cy="349.28" r="1.3" fill="#fff"/>
<rect x="545.12" y="345.78" width="6.98" height="7.00" fill="#1b0d8e"/>
<circle cx="548.61" cy="349.28" r="1.3" fill="#fff"/>
<rect x="378.59" y="345.78" width="6.98" height="7.00" fill="#1b0d8e"/>
<polygon points="385.88,348.68 385.88,349.88 383.27,349.88 383.77,351.53 378.27,349.28 383.77,347.03 383.27,348.68" fill="#fff"/>
<rect x="489.61" y="345.78" width="6.98" height="7.00" fill="#1b0d8e"/>
<polygon points="496.89,348.68 496.89,349.88 494.29,349.88 494.79,351.53 489.29,349.28 494.79,347.03 494.29,348.68" fill="#fff"/>
<rect x="600.63" y="345.78" width="6.98" height="7.00" fill="#1b0d8e"/>
<polygon points="607.92,348.68 607.92,349.88 605.32,349.88 605.82,351.53 600.32,349.28 605.82,347.03 605.32,348.68" fill="#fff"/>
<rect x="323.08" y="353.73" width="6.98" height="7.00" fill="#1b0d8e"/>
<circle cx="326.56" cy="357.23" r="1.3" fill="#fff"/>
<rect x="656.14" y="353.73" width="6.98" height="7.00" fill="#1b0d8e"/>
<circle cx="659.63" cy="357.23" r="1.3" fill="#fff"/>
<rect x="434.10" y="353.73" width="6.98" height="7.00" fill="#33148a"/>
<circle cx="437.58" cy="357.23" r="1.3" fill="#fff"/>
<rect x="545.12" y="353.73" width="6.98" height="7.00" fill="#33148a"/>
<circle cx="548.61" cy="357.23" r="1.3" fill="#fff"/>
<rect x="378.59" y="353.73" width="6.98" height="7.00" fill="#1b0d8e"/>
<polygon points="378.27,356.62 378.27,357.83 380.88,357.83 380.38,359.48 385.88,357.23 380.38,354.98 380.88,356.62" fill="#fff"/>
<rect x="489.61" y="353.73" width="6.98" height="7.00" fill="#1b0d8e"/>
<polygon points="489.29,356.62 489.29,357.83 491.89,357.83 491.39,359.48 496.89,357.23 491.39,354.98 491.89,356.62" fill="#fff"/>
<rect x="600.63" y="353.73" width="6.98" height="7.00" fill="#1b0d8e"/>
<polygon points="600.32,356.62 600.32,357.83 602.92,357.83 602.42,359.48 607.92,357.23 602.42,354.98 602.92,356.62" fill="#fff"/>
<rect x="323.08" y="361.68" width="6.98" height="7.00" fill="#1b0d8e"/>
<circle cx="326.56" cy="365.18" r="1.3" fill="#fff"/>
<rect x="656.14" y="361.68" width="6.98" height="7.00" fill="#1b0d8e"/>
<circle cx="659.63" cy="365.18" r="1.3" fill="#fff"/>
<rect x="434.10" y="361.68" width="6.98" height="7.00" fill="#33148a"/>
<circle cx="437.58" cy="365.18" r="1.3" fill="#fff"/>
<rect x="545.12" y="361.68" width="6.98" height="7.00" fill="#33148a"/>
<circle cx="548.61" cy="365.18" r="1.3" fill="#fff"/>
<rect x="378.59" y="361.68" width="6.98" height="7.00" fill="#1b0d8e"/>
<polygon points="385.88,364.57 385.88,365.78 383.27,365.78 383.77,367.43 378.27,365.18 383.77,362.93 383.27,364.57" fill="#fff"/>
<rect x="489.61" y="361.68" width="6.98" height="7.00" fill="#1b0d8e"/>
<polygon points="496.89,364.57 496.89,365.78 494.29,365.78 494.79,367.43 489.29,365.18 494.79,362.93 494.29,364.57" fill="#fff"/>
<rect x="600.63" y="361.68" width="6.98" height="7.00" fill="#1b0d8e"/>
<polygon points="607.92,364.57 607.92,365.78 605.32,365.78 605.82,367.43 600.32,365.18 605.82,362.93 605.32,364.57" fill="#fff"/>
<rect x="323.08" y="369.62" width="6.98" height="7.00" fill="#1b0d8e"/>
<circle cx="326.56" cy="373.12" r="1.3" fill="#fff"/>
<rect x="656.14" y="369.62" width="6.98" height="7.00" fill="#1b0d8e"/>
<circle cx="659.63" cy="373.12" r="1.3" fill="#fff"/>
<rect x="434.10" y="369.62" width="6.98" height="7.00" fill="#1b0d8e"/>
<circle cx="437.58" cy="373.12" r="1.3" fill="#fff"/>
<rect x="545.12" y="369.62" width="6.98" height="7.00" fill="#1b0d8e"/>
<circle cx="548.61" cy="373.12" r="1.3" fill="#fff"/>
<rect x="378.59" y="369.62" width="6.98" height="7.00" fill="#1b0d8e"/>
<polygon points="378.27,372.52 378.27,373.73 380.88,373.73 380.38,375.38 385.88,373.12 380.38,370.88 380.88,372.52" fill="#fff"/>
<rect x="489.61" y="369.62" width="6.98" height="7.00" fill="#1b0d8e"/>
<polygon points="489.29,372.52 489.29,373.73 491.89,373.73 491.39,375.38 496.89,373.12 491.39,370.88 491.89,372.52" fill="#fff"/>
<rect x="600.63" y="369.62" width="6.98" height="7.00" fill="#1b0d8e"/>
<polygon points="600.32,372.52 600.32,373.73 602.92,373.73 602.42,375.38 607.92,373.12 602.42,370.88 602.92,372.52" fill="#fff"/>
<rect x="323.08" y="377.58" width="6.98" height="7.00" fill="#1b0d8e"/>
<circle cx="326.56" cy="381.08" r="1.3" fill="#fff"/>
<rect x="656.14" y="377.58" width="6.98" height="7.00" fill="#1b0d8e"/>
<circle cx="659.63" cy="381.08" r="1.3" fill="#fff"/>
<rect x="434.10" y="377.58" width="6.98" height="7.00" fill="#1b0d8e"/>
<circle cx="437.58" cy="381.08" r="1.3" fill="#fff"/>
<rect x="545.12" y="377.58" width="6.98" height="7.00" fill="#1b0d8e"/>
<circle cx="548.61" cy="381.08" r="1.3" fill="#fff"/>
<rect x="378.59" y="377.58" width="6.98" height="7.00" fill="#1b0d8e"/>
<polygon points="385.88,380.48 385.88,381.68 383.27,381.68 383.77,383.33 378.27,381.08 383.77,378.83 383.27,380.48" fill="#fff"/>
<rect x="489.61" y="377.58" width="6.98" height="7.00" fill="#1b0d8e"/>
<polygon points="496.89,380.48 496.89,381.68 494.29,381.68 494.79,383.33 489.29,381.08 494.79,378.83 494.29,380.48" fill="#fff"/>
<rect x="600.63" y="377.58" width="6.98" height="7.00" fill="#1b0d8e"/>
<polygon points="607.92,380.48 607.92,381.68 605.32,381.68 605.82,383.33 600.32,381.08 605.82,378.83 605.32,380.48" fill="#fff"/>
<rect x="323.08" y="385.53" width="6.98" height="7.00" fill="#1b0d8e"/>
<circle cx="326.56" cy="389.03" r="1.3" fill="#fff"/>
<rect x="656.14" y="385.53" width="6.98" height="7.00" fill="#1b0d8e"/>
<circle cx="659.63" cy="389.03" r="1.3" fill="#fff"/>
<rect x="434.10" y="385.53" width="6.98" height="7.00" fill="#33148a"/>
<circle cx="437.58" cy="389.03" r="1.3" fill="#fff"/>
<rect x="545.12" y="385.53" width="6.98" height="7.00" fill="#33148a"/>
<circle cx="548.61" cy="389.03" r="1.3" fill="#fff"/>
<rect x="378.59" y="385.53" width="6.98" height="7.00" fill="#1b0d8e"/>
<polygon points="378.27,388.43 378.27,389.63 380.88,389.63 380.38,391.28 385.88,389.03 380.38,386.78 380.88,388.43" fill="#fff"/>
<rect x="489.61" y="385.53" width="6.98" height="7.00" fill="#1b0d8e"/>
<polygon points="489.29,388.43 489.29,389.63 491.89,389.63 491.39,391.28 496.89,389.03 491.39,386.78 491.89,388.43" fill="#fff"/>
<rect x="600.63" y="385.53" width="6.98" height="7.00" fill="#1b0d8e"/>
<polygon points="600.32,388.43 600.32,389.63 602.92,389.63 602.42,391.28 607.92,389.03 602.42,386.78 602.92,388.43" fill="#fff"/>
<rect x="323.08" y="393.48" width="6.98" height="7.00" fill="#1b0d8e"/>
<circle cx="326.56" cy="396.98" r="1.3" fill="#fff"/>
<rect x="656.14" y="393.48" width="6.98" height="7.00" fill="#1b0d8e"/>
<circle cx="659.63" cy="396.98" r="1.3" fill="#fff"/>
<rect x="434.10" y="393.48" width="6.98" height="7.00" fill="#33148a"/>
<circle cx="437.58" cy="396.98" r="1.3" fill="#fff"/>
<rect x="545.12" y="393.48" width="6.98" height="7.00" fill="#33148a"/>
<circle cx="548.61" cy="396.98" r="1.3" fill="#fff"/>
<rect x="378.59" y="393.48" width="6.98" height="7.00" fill="#1b0d8e"/>
<polygon points="385.88,396.38 385.88,397.58 383.27,397.58 383.77,399.23 378.27,396.98 383.77,394.73 383.27,396.38" fill="#fff"/>
<rect x="489.61" y="393.48" width="6.98" height="7.00" fill="#1b0d8e"/>
<polygon points="496.89,396.38 496.89,397.58 494.29,397.58 494.79,399.23 489.29,396.98 494.79,394.73 494.29,396.38" fill="#fff"/>
<rect x="600.63" y="393.48" width="6.98" height="7.00" fill="#1b0d8e"/>
<polygon points="607.92,396.38 607.92,397.58 605.32,397.58 605.82,399.23 600.32,396.98 605.82,394.73 605.32,396.38" fill="#fff"/>
<rect x="323.08" y="401.43" width="6.98" height="7.00" fill="#1b0d8e"/>
<circle cx="326.56" cy="404.93" r="1.3" fill="#fff"/>
<rect x="656.14" y="401.43" width="6.98" height="7.00" fill="#1b0d8e"/>
<circle cx="659.63" cy="404.93" r="1.3" fill="#fff"/>
<rect x="434.10" y="401.43" width="6.98" height="7.00" fill="#1b0d8e"/>
<circle cx="437.58" cy="404.93" r="1.3" fill="#fff"/>
<rect x="545.12" y="401.43" width="6.98" height="7.00" fill="#1b0d8e"/>
<circle cx="548.61" cy="404.93" r="1.3" fill="#fff"/>
<rect x="378.59" y="401.43" width="6.98" height="7.00" fill="#1b0d8e"/>
<polygon points="378.27,404.32 378.27,405.53 380.88,405.53 380.38,407.18 385.88,404.93 380.38,402.68 380.88,404.32" fill="#fff"/>
<rect x="489.61" y="401.43" width="6.98" height="7.00" fill="#1b0d8e"/>
<polygon points="489.29,404.32 489.29,405.53 491.89,405.53 491.39,407.18 496.89,404.93 491.39,402.68 491.89,404.32" fill="#fff"/>
<rect x="600.63" y="401.43" width="6.98" height="7.00" fill="#1b0d8e"/>
<polygon points="600.32,404.32 600.32,405.53 602.92,405.53 602.42,407.18 607.92,404.93 602.42,402.68 602.92,404.32" fill="#fff"/>
<rect x="323.08" y="409.38" width="6.98" height="7.00" fill="#e8243e"/>
<circle cx="326.56" cy="412.88" r="1.3" fill="#fff"/>
<rect x="656.14" y="409.38" width="6.98" height="7.00" fill="#e8243e"/>
<circle cx="659.63" cy="412.88" r="1.3" fill="#fff"/>
<rect x="434.10" y="409.38" width="6.98" height="7.00" fill="#6d1b7b"/>
<circle cx="437.58" cy="412.88" r="1.3" fill="#fff"/>
<rect x="545.12" y="409.38" width="6.98" height="7.00" fill="#6d1b7b"/>
<circle cx="548.61" cy="412.88" r="1.3" fill="#fff"/>
<rect x="378.59" y="409.38" width="6.98" height="7.00" fill="#1b0d8e"/>
<polygon points="385.88,412.27 385.88,413.48 383.27,413.48 383.77,415.12 378.27,412.88 383.77,410.62 383.27,412.27" fill="#fff"/>
<rect x="489.61" y="409.38" width="6.98" height="7.00" fill="#1b0d8e"/>
<polygon points="496.89,412.27 496.89,413.48 494.29,413.48 494.79,415.12 489.29,412.88 494.79,410.62 494.29,412.27" fill="#fff"/>
<rect x="600.63" y="409.38" width="6.98" height="7.00" fill="#1b0d8e"/>
<polygon points="607.92,412.27 607.92,413.48 605.32,413.48 605.82,415.12 600.32,412.88 605.82,410.62 605.32,412.27" fill="#fff"/>
<rect x="323.08" y="417.33" width="6.98" height="7.00" fill="#f47b20"/>
<circle cx="326.56" cy="420.83" r="1.3" fill="#fff"/>
<rect x="656.14" y="417.33" width="6.98" height="7.00" fill="#f47b20"/>
<circle cx="659.63" cy="420.83" r="1.3" fill="#fff"/>
<rect x="434.10" y="417.33" width="6.98" height="7.00" fill="#f26a21"/>
<circle cx="437.58" cy="420.83" r="1.3" fill="#fff"/>
<rect x="545.12" y="417.33" width="6.98" height="7.00" fill="#f26a21"/>
<circle cx="548.61" cy="420.83" r="1.3" fill="#fff"/>
<rect x="378.59" y="417.33" width="6.98" height="7.00" fill="#1b0d8e"/>
<polygon points="378.27,420.23 378.27,421.43 380.88,421.43 380.38,423.08 385.88,420.83 380.38,418.58 380.88,420.23" fill="#fff"/>
<rect x="489.61" y="417.33" width="6.98" height="7.00" fill="#1b0d8e"/>
<polygon points="489.29,420.23 489.29,421.43 491.89,421.43 491.39,423.08 496.89,420.83 491.39,418.58 491.89,420.23" fill="#fff"/>
<rect x="600.63" y="417.33" width="6.98" height="7.00" fill="#1b0d8e"/>
<polygon points="600.32,420.23 600.32,421.43 602.92,421.43 602.42,423.08 607.92,420.83 602.42,418.58 602.92,420.23" fill="#fff"/>
<rect x="331.01" y="369.62" width="6.98" height="7.00" fill="#1b0d8e"/>
<polygon points="333.89,369.32 335.10,369.32 335.10,371.93 336.75,371.43 334.50,376.93 332.25,371.43 333.89,371.93" fill="#fff"/>
<rect x="338.94" y="369.62" width="6.98" height="7.00" fill="#1b0d8e"/>
<polygon points="341.82,376.93 343.03,376.93 343.03,374.32 344.68,374.82 342.43,369.32 340.18,374.82 341.82,374.32" fill="#fff"/>
<rect x="346.87" y="369.62" width="6.98" height="7.00" fill="#1b0d8e"/>
<polygon points="349.75,369.32 350.96,369.32 350.96,371.93 352.61,371.43 350.36,376.93 348.11,371.43 349.75,371.93" fill="#fff"/>
<rect x="354.80" y="369.62" width="6.98" height="7.00" fill="#1b0d8e"/>
<polygon points="357.69,376.93 358.89,376.93 358.89,374.32 360.54,374.82 358.29,369.32 356.04,374.82 357.69,374.32" fill="#fff"/>
<rect x="362.73" y="369.62" width="6.98" height="7.00" fill="#1b0d8e"/>
<polygon points="365.61,369.32 366.81,369.32 366.81,371.93 368.46,371.43 366.21,376.93 363.96,371.43 365.61,371.93" fill="#fff"/>
<rect x="370.66" y="369.62" width="6.98" height="7.00" fill="#1b0d8e"/>
<polygon points="373.54,376.93 374.75,376.93 374.75,374.32 376.39,374.82 374.14,369.32 371.89,374.82 373.54,374.32" fill="#fff"/>
<rect x="442.03" y="369.62" width="6.98" height="7.00" fill="#1b0d8e"/>
<polygon points="444.91,369.32 446.12,369.32 446.12,371.93 447.76,371.43 445.51,376.93 443.26,371.43 444.91,371.93" fill="#fff"/>
<rect x="449.96" y="369.62" width="6.98" height="7.00" fill="#1b0d8e"/>
<polygon points="452.84,376.93 454.05,376.93 454.05,374.32 455.69,374.82 453.44,369.32 451.19,374.82 452.84,374.32" fill="#fff"/>
<rect x="457.89" y="369.62" width="6.98" height="7.00" fill="#1b0d8e"/>
<polygon points="460.77,369.32 461.98,369.32 461.98,371.93 463.62,371.43 461.38,376.93 459.12,371.43 460.77,371.93" fill="#fff"/>
<rect x="465.82" y="369.62" width="6.98" height="7.00" fill="#1b0d8e"/>
<polygon points="468.70,376.93 469.91,376.93 469.91,374.32 471.56,374.82 469.31,369.32 467.06,374.82 468.70,374.32" fill="#fff"/>
<rect x="473.75" y="369.62" width="6.98" height="7.00" fill="#1b0d8e"/>
<polygon points="476.63,369.32 477.83,369.32 477.83,371.93 479.48,371.43 477.23,376.93 474.98,371.43 476.63,371.93" fill="#fff"/>
<rect x="481.68" y="369.62" width="6.98" height="7.00" fill="#1b0d8e"/>
<polygon points="484.56,376.93 485.77,376.93 485.77,374.32 487.42,374.82 485.17,369.32 482.92,374.82 484.56,374.32" fill="#fff"/>
<rect x="497.54" y="369.62" width="6.98" height="7.00" fill="#1b0d8e"/>
<polygon points="500.42,376.93 501.62,376.93 501.62,374.32 503.27,374.82 501.02,369.32 498.77,374.82 500.42,374.32" fill="#fff"/>
<rect x="505.47" y="369.62" width="6.98" height="7.00" fill="#1b0d8e"/>
<polygon points="508.35,369.32 509.56,369.32 509.56,371.93 511.20,371.43 508.95,376.93 506.70,371.43 508.35,371.93" fill="#fff"/>
<rect x="513.40" y="369.62" width="6.98" height="7.00" fill="#1b0d8e"/>
<polygon points="516.29,376.93 517.49,376.93 517.49,374.32 519.14,374.82 516.89,369.32 514.64,374.82 516.29,374.32" fill="#fff"/>
<rect x="521.33" y="369.62" width="6.98" height="7.00" fill="#1b0d8e"/>
<polygon points="524.22,369.32 525.42,369.32 525.42,371.93 527.07,371.43 524.82,376.93 522.57,371.43 524.22,371.93" fill="#fff"/>
<rect x="529.25" y="369.62" width="6.98" height="7.00" fill="#1b0d8e"/>
<polygon points="532.14,376.93 533.35,376.93 533.35,374.32 535.00,374.82 532.75,369.32 530.50,374.82 532.14,374.32" fill="#fff"/>
<rect x="537.19" y="369.62" width="6.98" height="7.00" fill="#1b0d8e"/>
<polygon points="540.08,369.32 541.28,369.32 541.28,371.93 542.93,371.43 540.68,376.93 538.43,371.43 540.08,371.93" fill="#fff"/>
<rect x="608.56" y="369.62" width="6.98" height="7.00" fill="#1b0d8e"/>
<polygon points="611.45,376.93 612.65,376.93 612.65,374.32 614.30,374.82 612.05,369.32 609.80,374.82 611.45,374.32" fill="#fff"/>
<rect x="616.49" y="369.62" width="6.98" height="7.00" fill="#1b0d8e"/>
<polygon points="619.38,369.32 620.58,369.32 620.58,371.93 622.23,371.43 619.98,376.93 617.73,371.43 619.38,371.93" fill="#fff"/>
<rect x="624.42" y="369.62" width="6.98" height="7.00" fill="#1b0d8e"/>
<polygon points="627.31,376.93 628.51,376.93 628.51,374.32 630.16,374.82 627.91,369.32 625.66,374.82 627.31,374.32" fill="#fff"/>
<rect x="632.35" y="369.62" width="6.98" height="7.00" fill="#1b0d8e"/>
<polygon points="635.24,369.32 636.44,369.32 636.44,371.93 638.09,371.43 635.84,376.93 633.59,371.43 635.24,371.93" fill="#fff"/>
<rect x="640.27" y="369.62" width="6.98" height="7.00" fill="#1b0d8e"/>
<polygon points="643.16,376.93 644.37,376.93 644.37,374.32 646.01,374.82 643.76,369.32 641.51,374.82 643.16,374.32" fill="#fff"/>
<rect x="648.21" y="369.62" width="6.98" height="7.00" fill="#1b0d8e"/>
<polygon points="651.10,369.32 652.30,369.32 652.30,371.93 653.95,371.43 651.70,376.93 649.45,371.43 651.10,371.93" fill="#fff"/>
<path d="M333.5,307.7 H380.5 Q388.5,307.7 388.5,315.7 V429.0 Q388.5,437.0 380.5,437.0 H322.1 Q314.1,437.0 314.1,429.0 V322.6" fill="none" stroke="#2b3990" stroke-width="2.55"/>
<polygon points="314.10,315.60 319.10,327.40 314.10,324.80 309.10,327.40" fill="#2b3990" stroke="#2b3990" stroke-width="0.7" stroke-linejoin="miter"/>
<polygon points="347.80,307.70 337.00,312.40 339.38,307.70 337.00,303.00" fill="#2b3990" stroke="#2b3990" stroke-width="0.7" stroke-linejoin="miter"/>
<path d="M443.3,306.6 H479.6 Q487.6,306.6 487.6,314.6 V427.4 Q487.6,435.4 479.6,435.4 H434.3 Q426.3,435.4 426.3,427.4 V325.3" fill="none" stroke="#4cc552" stroke-width="2.55"/>
<polygon points="426.30,318.30 431.30,330.10 426.30,327.50 421.30,330.10" fill="#4cc552" stroke="#4cc552" stroke-width="0.7" stroke-linejoin="miter"/>
<polygon points="457.60,306.60 446.80,311.30 449.18,306.60 446.80,301.90" fill="#4cc552" stroke="#4cc552" stroke-width="0.7" stroke-linejoin="miter"/>
<path d="M544.5,306.2 H505.3 Q497.3,306.2 497.3,314.2 V427.2 Q497.3,435.2 505.3,435.2 H550.6 Q558.6,435.2 558.6,427.2 V325.4" fill="none" stroke="#ee2a97" stroke-width="2.55"/>
<polygon points="558.60,318.40 563.60,330.20 558.60,327.60 553.60,330.20" fill="#ee2a97" stroke="#ee2a97" stroke-width="0.7" stroke-linejoin="miter"/>
<polygon points="530.00,306.20 540.80,310.90 538.42,306.20 540.80,301.50" fill="#ee2a97" stroke="#ee2a97" stroke-width="0.7" stroke-linejoin="miter"/>
<path d="M651.5,306.9 H602.3 Q594.3,306.9 594.3,314.9 V427.8 Q594.3,435.8 602.3,435.8 H661.4 Q669.4,435.8 669.4,427.8 V321.9" fill="none" stroke="#5c2d91" stroke-width="2.55"/>
<polygon points="669.40,314.90 674.40,326.70 669.40,324.10 664.40,326.70" fill="#5c2d91" stroke="#5c2d91" stroke-width="0.7" stroke-linejoin="miter"/>
<polygon points="636.50,306.90 647.30,311.60 644.92,306.90 647.30,302.20" fill="#5c2d91" stroke="#5c2d91" stroke-width="0.7" stroke-linejoin="miter"/>
<text x="322.60" y="451.90" font-size="19" fill="#2b3990"><tspan class="s" stroke="#2b3990" stroke-width="0.35">s = </tspan><tspan class="f">001</tspan></text>
<text x="426.60" y="452.60" font-size="19" fill="#4cc552"><tspan class="s" stroke="#4cc552" stroke-width="0.35">s = </tspan><tspan class="f">010</tspan></text>
<text x="498.80" y="452.60" font-size="19" fill="#ee2a97"><tspan class="s" stroke="#ee2a97" stroke-width="0.35">s = </tspan><tspan class="f">100</tspan></text>
<text x="604.10" y="452.60" font-size="19" fill="#5c2d91"><tspan class="s" stroke="#5c2d91" stroke-width="0.35">s = </tspan><tspan class="f">111</tspan></text>
<rect x="55.50" y="484.30" width="292.30" height="145.10" fill="#ffffff" stroke="#707070" stroke-width="0.9" />
<line x1="55.50" y1="484.20" x2="347.80" y2="484.20" stroke="#a9a9a9" stroke-width="1.9" />
<clipPath id="cp55"><rect x="55.5" y="484.3" width="292.3" height="145.09999999999997"/></clipPath>
<g clip-path="url(#cp55)">
<polyline points="55.50,490.50 55.66,490.50 55.82,490.50 55.99,490.50 56.15,490.50 56.31,490.50 56.47,490.50 56.64,490.50 56.80,490.50 56.96,490.50 57.12,490.50 57.29,490.50 57.45,490.50 57.61,490.50 57.77,490.50 57.94,490.50 58.10,490.50 58.26,490.50 58.42,490.50 58.59,490.50 58.75,490.50 58.91,490.50 59.07,490.50 59.23,490.50 59.40,490.50 59.56,490.50 59.72,490.50 59.88,490.50 60.05,490.50 60.21,490.50 60.37,490.50 60.53,490.50 60.70,490.50 60.86,490.50 61.02,490.50 61.18,490.50 61.35,490.50 61.51,490.50 61.67,490.50 61.83,490.50 62.00,490.50 62.16,490.50 62.32,490.52 62.48,490.54 62.65,490.56 62.81,490.60 62.97,490.64 63.13,490.69 63.29,490.74 63.46,490.81 63.62,490.87 63.78,490.95 63.94,491.03 64.11,491.11 64.27,491.20 64.43,491.29 64.59,491.39 64.76,491.49 64.92,491.60 65.08,491.71 65.24,491.82 65.41,491.93 65.57,492.05 65.73,492.17 65.89,492.30 66.06,492.42 66.22,492.55 66.38,492.68 66.54,492.81 66.70,492.94 66.87,493.09 67.03,493.25 67.19,493.43 67.35,493.62 67.52,493.83 67.68,494.06 67.84,494.29 68.00,494.54 68.17,494.81 68.33,495.08 68.49,495.36 68.65,495.66 68.82,495.96 68.98,496.27 69.14,496.59 69.30,496.92 69.47,497.26 69.63,497.60 69.79,497.95 69.95,498.30 70.11,498.66 70.28,499.03 70.44,499.42 70.60,499.82 70.76,500.25 70.93,500.69 71.09,501.15 71.25,501.63 71.41,502.12 71.58,502.63 71.74,503.16 71.90,503.70 72.06,504.26 72.23,504.84 72.39,505.43 72.55,506.04 72.71,506.66 72.88,507.30 73.04,507.95 73.20,508.62 73.36,509.30 73.52,509.99 73.69,510.70 73.85,511.44 74.01,512.21 74.17,513.02 74.34,513.85 74.50,514.72 74.66,515.63 74.82,516.58 74.99,517.56 75.15,518.59 75.31,519.65 75.47,520.76 75.64,521.91 75.80,523.11 75.96,524.36 76.12,525.68 76.29,527.09 76.45,528.58 76.61,530.17 76.77,531.83 76.94,533.57 77.10,535.38 77.26,537.27 77.42,539.22 77.58,541.24 77.75,543.33 77.91,545.47 78.07,547.67 78.23,549.93 78.40,552.40 78.56,555.14 78.72,558.06 78.88,561.09 79.05,564.15 79.21,567.16 79.37,570.03 79.53,572.75 79.70,575.44 79.86,578.11 80.02,580.73 80.18,583.32 80.35,585.87 80.51,588.37 80.67,590.86 80.83,593.38 80.99,595.90 81.16,598.36 81.32,600.72 81.48,602.91 81.64,604.88 81.81,606.65 81.97,608.37 82.13,610.02 82.29,611.57 82.46,612.99 82.62,614.24 82.78,615.30 82.94,616.15 83.11,616.92 83.27,617.65 83.43,618.35 83.59,619.00 83.76,619.60 83.92,620.14 84.08,620.62 84.24,621.03 84.40,621.36 84.57,621.60 84.73,621.75 84.89,621.86 85.05,621.96 85.22,622.06 85.38,622.14 85.54,622.22 85.70,622.28 85.87,622.33 86.03,622.37 86.19,622.39 86.35,622.40 86.52,622.40 86.68,622.40 86.84,622.40 87.00,622.40 87.17,622.40 87.33,622.40 87.49,622.40 87.65,622.40 87.81,622.40 87.98,622.40 88.14,622.40 88.30,622.40 88.46,622.40 88.63,622.40 88.79,622.40 88.95,622.40 89.11,622.40 89.28,622.40 89.44,622.40 89.60,622.40 89.76,622.40 89.93,622.40 90.09,622.40 90.25,622.40 90.41,622.40 90.58,622.40 90.74,622.40 90.90,622.40 91.06,622.40 91.23,622.40 91.39,622.40 91.55,622.40 91.71,622.40 91.87,622.40 92.04,622.40 92.20,622.40 92.36,622.40 92.52,622.40 92.69,622.40 92.85,622.40 93.01,622.40 93.17,622.40 93.34,622.40 93.50,622.40 93.66,622.40 93.82,622.40 93.99,622.40 94.15,622.40 94.31,622.40 94.47,622.40 94.64,622.40 94.80,622.40 94.96,622.40 95.12,622.40 95.28,622.40 95.45,622.40 95.61,622.40 95.77,622.40 95.93,622.40 96.10,622.40 96.26,622.40 96.42,622.40 96.58,622.40 96.75,622.40 96.91,622.40 97.07,622.40 97.23,622.40 97.40,622.40 97.56,622.40 97.72,622.40 97.88,622.40 98.05,622.40 98.21,622.40 98.37,622.40 98.53,622.40 98.69,622.40 98.86,622.40 99.02,622.40 99.18,622.40 99.34,622.40 99.51,622.40 99.67,622.40 99.83,622.40 99.99,622.40 100.16,622.40 100.32,622.40 100.48,622.40 100.64,622.40 100.81,622.40 100.97,622.40 101.13,622.40 101.29,622.40 101.46,622.40 101.62,622.40 101.78,622.40 101.94,622.40 102.10,622.40 102.27,622.40 102.43,622.40 102.59,622.40 102.75,622.40 102.92,622.40 103.08,622.40 103.24,622.40 103.40,622.40 103.57,622.40 103.73,622.40 103.89,622.40 104.05,622.40 104.22,622.40 104.38,622.40 104.54,622.40 104.70,622.40 104.87,622.40 105.03,622.40 105.19,622.40 105.35,622.40 105.52,622.40 105.68,622.40 105.84,622.40 106.00,622.40 106.16,622.40 106.33,622.40 106.49,622.40 106.65,622.40 106.81,622.40 106.98,622.40 107.14,622.40 107.30,622.40 107.46,622.40 107.63,622.40 107.79,622.40 107.95,622.40 108.11,622.40 108.28,622.40 108.44,622.40 108.60,622.40 108.76,622.40 108.93,622.40 109.09,622.40 109.25,622.40 109.41,622.40 109.57,622.40 109.74,622.40 109.90,622.40 110.06,622.40 110.22,622.40 110.39,622.40 110.55,622.40 110.71,622.40 110.87,622.40 111.04,622.40 111.20,622.40 111.36,622.40 111.52,622.40 111.69,622.40 111.85,622.40 112.01,622.40 112.17,622.40 112.34,622.40 112.50,622.40 112.66,622.40 112.82,622.40 112.98,622.40 113.15,622.40 113.31,622.40 113.47,622.40 113.63,622.40 113.80,622.40 113.96,622.40 114.12,622.40 114.28,622.40 114.45,622.40 114.61,622.40 114.77,622.40 114.93,622.40 115.10,622.40 115.26,622.40 115.42,622.40 115.58,622.40 115.75,622.40 115.91,622.40 116.07,622.40 116.23,622.40 116.39,622.40 116.56,622.40 116.72,622.40 116.88,622.40 117.04,622.40 117.21,622.40 117.37,622.40 117.53,622.40 117.69,622.40 117.86,622.40 118.02,622.40 118.18,622.40 118.34,622.40 118.51,622.40 118.67,622.40 118.83,622.40 118.99,622.40 119.16,622.40 119.32,622.40 119.48,622.40 119.64,622.40 119.81,622.40 119.97,622.40 120.13,622.40 120.29,622.40 120.45,622.40 120.62,622.40 120.78,622.40 120.94,622.40 121.10,622.40 121.27,622.40 121.43,622.40 121.59,622.40 121.75,622.40 121.92,622.40 122.08,622.40 122.24,622.40 122.40,622.40 122.57,622.40 122.73,622.40 122.89,622.40 123.05,622.40 123.22,622.40 123.38,622.40 123.54,622.40 123.70,622.40 123.86,622.40 124.03,622.40 124.19,622.40 124.35,622.40 124.51,622.40 124.68,622.40 124.84,622.40 125.00,622.40 125.16,622.40 125.33,622.40 125.49,622.40 125.65,622.40 125.81,622.40 125.98,622.39 126.14,622.38 126.30,622.36 126.46,622.34 126.63,622.32 126.79,622.28 126.95,622.24 127.11,622.17 127.27,622.09 127.44,621.99 127.60,621.86 127.76,621.73 127.92,621.57 128.09,621.41 128.25,621.22 128.41,620.99 128.57,620.73 128.74,620.44 128.90,620.11 129.06,619.77 129.22,619.40 129.39,618.98 129.55,618.53 129.71,618.06 129.87,617.57 130.04,617.08 130.20,616.58 130.36,616.05 130.52,615.52 130.68,614.96 130.85,614.39 131.01,613.79 131.17,613.17 131.33,612.54 131.50,611.93 131.66,611.34 131.82,610.78 131.98,610.22 132.15,609.66 132.31,609.10 132.47,608.55 132.63,608.01 132.80,607.47 132.96,606.94 133.12,606.42 133.28,605.90 133.45,605.40 133.61,604.90 133.77,604.41 133.93,603.92 134.10,603.44 134.26,602.96 134.42,602.48 134.58,602.01 134.74,601.55 134.91,601.10 135.07,600.65 135.23,600.20 135.39,599.76 135.56,599.33 135.72,598.90 135.88,598.47 136.04,598.06 136.21,597.65 136.37,597.24 136.53,596.85 136.69,596.46 136.86,596.08 137.02,595.71 137.18,595.35 137.34,595.00 137.51,594.66 137.67,594.33 137.83,594.02 137.99,593.71 138.15,593.41 138.32,593.12 138.48,592.84 138.64,592.58 138.80,592.32 138.97,592.07 139.13,591.84 139.29,591.62 139.45,591.41 139.62,591.21 139.78,591.03 139.94,590.85 140.10,590.69 140.27,590.54 140.43,590.41 140.59,590.28 140.75,590.17 140.92,590.06 141.08,589.97 141.24,589.88 141.40,589.80 141.56,589.74 141.73,589.68 141.89,589.62 142.05,589.58 142.21,589.54 142.38,589.51 142.54,589.49 142.70,589.47 142.86,589.45 143.03,589.44 143.19,589.44 143.35,589.43 143.51,589.43 143.68,589.43 143.84,589.42 144.00,589.42 144.16,589.42 144.33,589.42 144.49,589.42 144.65,589.42 144.81,589.42 144.97,589.42 145.14,589.42 145.30,589.42 145.46,589.42 145.62,589.42 145.79,589.42 145.95,589.42 146.11,589.42 146.27,589.42 146.44,589.42 146.60,589.42 146.76,589.42 146.92,589.42 147.09,589.42 147.25,589.42 147.41,589.42 147.57,589.42 147.74,589.42 147.90,589.42 148.06,589.42 148.22,589.42 148.39,589.42 148.55,589.42 148.71,589.42 148.87,589.42 149.03,589.42 149.20,589.42 149.36,589.42 149.52,589.42 149.68,589.42 149.85,589.42 150.01,589.42 150.17,589.42 150.33,589.42 150.50,589.42 150.66,589.42 150.82,589.42 150.98,589.42 151.15,589.42 151.31,589.42 151.47,589.42 151.63,589.42 151.80,589.42 151.96,589.42 152.12,589.42 152.28,589.42 152.44,589.42 152.61,589.42 152.77,589.42 152.93,589.42 153.09,589.42 153.26,589.42 153.42,589.42 153.58,589.42 153.74,589.42 153.91,589.42 154.07,589.42 154.23,589.42 154.39,589.42 154.56,589.42 154.72,589.42 154.88,589.42 155.04,589.42 155.21,589.42 155.37,589.42 155.53,589.42 155.69,589.42 155.85,589.42 156.02,589.42 156.18,589.42 156.34,589.42 156.50,589.42 156.67,589.42 156.83,589.42 156.99,589.42 157.15,589.42 157.32,589.42 157.48,589.42 157.64,589.42 157.80,589.42 157.97,589.42 158.13,589.42 158.29,589.42 158.45,589.42 158.62,589.42 158.78,589.42 158.94,589.42 159.10,589.42 159.26,589.42 159.43,589.42 159.59,589.43 159.75,589.43 159.91,589.46 160.08,589.51 160.24,589.60 160.40,589.72 160.56,589.90 160.73,590.12 160.89,590.39 161.05,590.72 161.21,591.11 161.38,591.56 161.54,592.06 161.70,592.63 161.86,593.26 162.03,593.94 162.19,594.68 162.35,595.47 162.51,596.31 162.68,597.20 162.84,598.13 163.00,599.09 163.16,600.09 163.32,601.12 163.49,602.18 163.65,603.25 163.81,604.33 163.97,605.43 164.14,606.52 164.30,607.62 164.46,608.70 164.62,609.77 164.79,610.82 164.95,611.85 165.11,612.85 165.27,613.81 165.44,614.73 165.60,615.61 165.76,616.45 165.92,617.23 166.09,617.97 166.25,618.64 166.41,619.26 166.57,619.82 166.73,620.32 166.90,620.76 167.06,621.14 167.22,621.47 167.38,621.74 167.55,621.95 167.71,622.12 167.87,622.24 168.03,622.32 168.20,622.37 168.36,622.39 168.52,622.40 168.68,622.40 168.85,622.40 169.01,622.40 169.17,622.40 169.33,622.40 169.50,622.40 169.66,622.40 169.82,622.40 169.98,622.40 170.14,622.40 170.31,622.40 170.47,622.40 170.63,622.40 170.79,622.40 170.96,622.40 171.12,622.40 171.28,622.40 171.44,622.40 171.61,622.40 171.77,622.40 171.93,622.40 172.09,622.40 172.26,622.40 172.42,622.40 172.58,622.40 172.74,622.40 172.91,622.40 173.07,622.40 173.23,622.40 173.39,622.40 173.55,622.40 173.72,622.40 173.88,622.40 174.04,622.40 174.20,622.40 174.37,622.40 174.53,622.40 174.69,622.40 174.85,622.40 175.02,622.40 175.18,622.40 175.34,622.40 175.50,622.40 175.67,622.40 175.83,622.40 175.99,622.40 176.15,622.40 176.32,622.40 176.48,622.40 176.64,622.40 176.80,622.40 176.97,622.40 177.13,622.40 177.29,622.40 177.45,622.40 177.61,622.40 177.78,622.40 177.94,622.40 178.10,622.40 178.26,622.40 178.43,622.40 178.59,622.40 178.75,622.40 178.91,622.40 179.08,622.40 179.24,622.40 179.40,622.40 179.56,622.40 179.73,622.40 179.89,622.40 180.05,622.40 180.21,622.40 180.38,622.40 180.54,622.40 180.70,622.40 180.86,622.40 181.02,622.40 181.19,622.40 181.35,622.40 181.51,622.40 181.67,622.40 181.84,622.40 182.00,622.40 182.16,622.40 182.32,622.40 182.49,622.40 182.65,622.40 182.81,622.40 182.97,622.40 183.14,622.40 183.30,622.40 183.46,622.40 183.62,622.40 183.79,622.40 183.95,622.40 184.11,622.40 184.27,622.40 184.43,622.40 184.60,622.40 184.76,622.40 184.92,622.40 185.08,622.40 185.25,622.40 185.41,622.40 185.57,622.40 185.73,622.40 185.90,622.40 186.06,622.40 186.22,622.40 186.38,622.40 186.55,622.40 186.71,622.40 186.87,622.40 187.03,622.40 187.20,622.40 187.36,622.40 187.52,622.40 187.68,622.40 187.84,622.40 188.01,622.40 188.17,622.40 188.33,622.40 188.49,622.40 188.66,622.40 188.82,622.40 188.98,622.40 189.14,622.40 189.31,622.40 189.47,622.40 189.63,622.40 189.79,622.40 189.96,622.40 190.12,622.40 190.28,622.40 190.44,622.40 190.61,622.40 190.77,622.40 190.93,622.40 191.09,622.40 191.26,622.40 191.42,622.40 191.58,622.40 191.74,622.40 191.90,622.40 192.07,622.40 192.23,622.40 192.39,622.40 192.55,622.40 192.72,622.40 192.88,622.40 193.04,622.40 193.20,622.40 193.37,622.40 193.53,622.40 193.69,622.40 193.85,622.40 194.02,622.40 194.18,622.40 194.34,622.40 194.50,622.40 194.67,622.40 194.83,622.40 194.99,622.40 195.15,622.40 195.31,622.40 195.48,622.40 195.64,622.40 195.80,622.40 195.96,622.40 196.13,622.40 196.29,622.40 196.45,622.40 196.61,622.40 196.78,622.40 196.94,622.40 197.10,622.40 197.26,622.40 197.43,622.40 197.59,622.40 197.75,622.40 197.91,622.40 198.08,622.40 198.24,622.40 198.40,622.40 198.56,622.40 198.72,622.40 198.89,622.40 199.05,622.40 199.21,622.40 199.37,622.40 199.54,622.40 199.70,622.40 199.86,622.40 200.02,622.40 200.19,622.40 200.35,622.40 200.51,622.40 200.67,622.40 200.84,622.40 201.00,622.40 201.16,622.40 201.32,622.40 201.49,622.40 201.65,622.40 201.81,622.40 201.97,622.40 202.13,622.40 202.30,622.40 202.46,622.40 202.62,622.40 202.78,622.40 202.95,622.40 203.11,622.40 203.27,622.40 203.43,622.40 203.60,622.40 203.76,622.40 203.92,622.40 204.08,622.40 204.25,622.40 204.41,622.40 204.57,622.40 204.73,622.40 204.90,622.40 205.06,622.40 205.22,622.40 205.38,622.40 205.55,622.40 205.71,622.40 205.87,622.40 206.03,622.40 206.19,622.40 206.36,622.40 206.52,622.40 206.68,622.40 206.84,622.40 207.01,622.40 207.17,622.40 207.33,622.40 207.49,622.40 207.66,622.40 207.82,622.40 207.98,622.40 208.14,622.40 208.31,622.40 208.47,622.40 208.63,622.40 208.79,622.40 208.96,622.40 209.12,622.40 209.28,622.40 209.44,622.40 209.60,622.40 209.77,622.40 209.93,622.40 210.09,622.40 210.25,622.40 210.42,622.40 210.58,622.40 210.74,622.40 210.90,622.40 211.07,622.40 211.23,622.40 211.39,622.40 211.55,622.40 211.72,622.40 211.88,622.40 212.04,622.40 212.20,622.40 212.37,622.40 212.53,622.40 212.69,622.40 212.85,622.40 213.01,622.40 213.18,622.40 213.34,622.40 213.50,622.40 213.66,622.40 213.83,622.40 213.99,622.40 214.15,622.40 214.31,622.40 214.48,622.40 214.64,622.40 214.80,622.40 214.96,622.40 215.13,622.40 215.29,622.40 215.45,622.40 215.61,622.40 215.78,622.40 215.94,622.40 216.10,622.40 216.26,622.40 216.42,622.40 216.59,622.40 216.75,622.40 216.91,622.40 217.07,622.40 217.24,622.40 217.40,622.40 217.56,622.40 217.72,622.40 217.89,622.40 218.05,622.40 218.21,622.40 218.37,622.40 218.54,622.40 218.70,622.40 218.86,622.40 219.02,622.40 219.19,622.40 219.35,622.40 219.51,622.40 219.67,622.40 219.84,622.40 220.00,622.40 220.16,622.40 220.32,622.40 220.48,622.40 220.65,622.40 220.81,622.40 220.97,622.40 221.13,622.40 221.30,622.40 221.46,622.40 221.62,622.40 221.78,622.40 221.95,622.40 222.11,622.40 222.27,622.40 222.43,622.40 222.60,622.40 222.76,622.40 222.92,622.40 223.08,622.40 223.25,622.40 223.41,622.40 223.57,622.40 223.73,622.40 223.89,622.40 224.06,622.40 224.22,622.40 224.38,622.40 224.54,622.40 224.71,622.40 224.87,622.40 225.03,622.40 225.19,622.40 225.36,622.40 225.52,622.40 225.68,622.40 225.84,622.40 226.01,622.40 226.17,622.40 226.33,622.40 226.49,622.40 226.66,622.40 226.82,622.40 226.98,622.40 227.14,622.40 227.30,622.40 227.47,622.40 227.63,622.40 227.79,622.40 227.95,622.40 228.12,622.40 228.28,622.40 228.44,622.40 228.60,622.40 228.77,622.40 228.93,622.40 229.09,622.40 229.25,622.40 229.42,622.40 229.58,622.40 229.74,622.40 229.90,622.40 230.07,622.40 230.23,622.40 230.39,622.40 230.55,622.40 230.71,622.40 230.88,622.40 231.04,622.40 231.20,622.40 231.36,622.40 231.53,622.40 231.69,622.40 231.85,622.40 232.01,622.40 232.18,622.40 232.34,622.40 232.50,622.40 232.66,622.40 232.83,622.40 232.99,622.40 233.15,622.40 233.31,622.40 233.48,622.40 233.64,622.40 233.80,622.40 233.96,622.40 234.13,622.40 234.29,622.40 234.45,622.40 234.61,622.40 234.77,622.40 234.94,622.39 235.10,622.37 235.26,622.32 235.42,622.24 235.59,622.12 235.75,621.95 235.91,621.74 236.07,621.47 236.24,621.14 236.40,620.76 236.56,620.32 236.72,619.82 236.89,619.26 237.05,618.64 237.21,617.97 237.37,617.23 237.54,616.45 237.70,615.61 237.86,614.73 238.02,613.81 238.18,612.85 238.35,611.85 238.51,610.82 238.67,609.77 238.83,608.70 239.00,607.62 239.16,606.52 239.32,605.43 239.48,604.33 239.65,603.25 239.81,602.18 239.97,601.12 240.13,600.09 240.30,599.09 240.46,598.13 240.62,597.20 240.78,596.31 240.95,595.47 241.11,594.68 241.27,593.94 241.43,593.26 241.59,592.63 241.76,592.06 241.92,591.56 242.08,591.11 242.24,590.72 242.41,590.39 242.57,590.12 242.73,589.90 242.89,589.72 243.06,589.60 243.22,589.51 243.38,589.46 243.54,589.43 243.71,589.43 243.87,589.42 244.03,589.42 244.19,589.42 244.36,589.42 244.52,589.42 244.68,589.42 244.84,589.42 245.00,589.42 245.17,589.42 245.33,589.42 245.49,589.42 245.65,589.42 245.82,589.42 245.98,589.42 246.14,589.42 246.30,589.42 246.47,589.42 246.63,589.42 246.79,589.42 246.95,589.42 247.12,589.42 247.28,589.42 247.44,589.42 247.60,589.42 247.77,589.42 247.93,589.42 248.09,589.42 248.25,589.42 248.42,589.42 248.58,589.42 248.74,589.42 248.90,589.42 249.06,589.42 249.23,589.42 249.39,589.42 249.55,589.42 249.71,589.42 249.88,589.42 250.04,589.42 250.20,589.42 250.36,589.42 250.53,589.42 250.69,589.42 250.85,589.42 251.01,589.42 251.18,589.42 251.34,589.42 251.50,589.42 251.66,589.42 251.83,589.42 251.99,589.42 252.15,589.42 252.31,589.42 252.47,589.42 252.64,589.42 252.80,589.42 252.96,589.42 253.12,589.42 253.29,589.42 253.45,589.42 253.61,589.42 253.77,589.42 253.94,589.42 254.10,589.42 254.26,589.42 254.42,589.42 254.59,589.42 254.75,589.42 254.91,589.42 255.07,589.42 255.24,589.42 255.40,589.42 255.56,589.42 255.72,589.42 255.88,589.42 256.05,589.42 256.21,589.42 256.37,589.42 256.53,589.42 256.70,589.42 256.86,589.42 257.02,589.42 257.18,589.42 257.35,589.42 257.51,589.42 257.67,589.42 257.83,589.42 258.00,589.42 258.16,589.42 258.32,589.42 258.48,589.42 258.65,589.42 258.81,589.42 258.97,589.42 259.13,589.42 259.29,589.42 259.46,589.42 259.62,589.43 259.78,589.43 259.94,589.43 260.11,589.44 260.27,589.44 260.43,589.45 260.59,589.47 260.76,589.49 260.92,589.51 261.08,589.54 261.24,589.58 261.41,589.62 261.57,589.68 261.73,589.74 261.89,589.80 262.06,589.88 262.22,589.97 262.38,590.06 262.54,590.17 262.71,590.28 262.87,590.41 263.03,590.54 263.19,590.69 263.35,590.85 263.52,591.03 263.68,591.21 263.84,591.41 264.00,591.62 264.17,591.84 264.33,592.07 264.49,592.32 264.65,592.58 264.82,592.84 264.98,593.12 265.14,593.41 265.30,593.71 265.47,594.02 265.63,594.33 265.79,594.66 265.95,595.00 266.12,595.35 266.28,595.71 266.44,596.08 266.60,596.46 266.76,596.85 266.93,597.24 267.09,597.65 267.25,598.06 267.41,598.47 267.58,598.90 267.74,599.33 267.90,599.76 268.06,600.20 268.23,600.65 268.39,601.10 268.55,601.55 268.71,602.01 268.88,602.48 269.04,602.96 269.20,603.44 269.36,603.92 269.53,604.41 269.69,604.90 269.85,605.40 270.01,605.90 270.17,606.42 270.34,606.94 270.50,607.47 270.66,608.01 270.82,608.55 270.99,609.10 271.15,609.66 271.31,610.22 271.47,610.78 271.64,611.34 271.80,611.93 271.96,612.54 272.12,613.17 272.29,613.79 272.45,614.39 272.61,614.96 272.77,615.52 272.94,616.05 273.10,616.58 273.26,617.08 273.42,617.57 273.58,618.06 273.75,618.53 273.91,618.98 274.07,619.40 274.23,619.77 274.40,620.11 274.56,620.44 274.72,620.73 274.88,620.99 275.05,621.22 275.21,621.41 275.37,621.57 275.53,621.73 275.70,621.86 275.86,621.99 276.02,622.09 276.18,622.17 276.35,622.24 276.51,622.28 276.67,622.32 276.83,622.34 277.00,622.36 277.16,622.38 277.32,622.39 277.48,622.40 277.64,622.40 277.81,622.40 277.97,622.40 278.13,622.40 278.29,622.40 278.46,622.40 278.62,622.40 278.78,622.40 278.94,622.40 279.11,622.40 279.27,622.40 279.43,622.40 279.59,622.40 279.76,622.40 279.92,622.40 280.08,622.40 280.24,622.40 280.41,622.40 280.57,622.40 280.73,622.40 280.89,622.40 281.05,622.40 281.22,622.40 281.38,622.40 281.54,622.40 281.70,622.40 281.87,622.40 282.03,622.40 282.19,622.40 282.35,622.40 282.52,622.40 282.68,622.40 282.84,622.40 283.00,622.40 283.17,622.40 283.33,622.40 283.49,622.40 283.65,622.40 283.82,622.40 283.98,622.40 284.14,622.40 284.30,622.40 284.46,622.40 284.63,622.40 284.79,622.40 284.95,622.40 285.11,622.40 285.28,622.40 285.44,622.40 285.60,622.40 285.76,622.40 285.93,622.40 286.09,622.40 286.25,622.40 286.41,622.40 286.58,622.40 286.74,622.40 286.90,622.40 287.06,622.40 287.23,622.40 287.39,622.40 287.55,622.40 287.71,622.40 287.88,622.40 288.04,622.40 288.20,622.40 288.36,622.40 288.52,622.40 288.69,622.40 288.85,622.40 289.01,622.40 289.17,622.40 289.34,622.40 289.50,622.40 289.66,622.40 289.82,622.40 289.99,622.40 290.15,622.40 290.31,622.40 290.47,622.40 290.64,622.40 290.80,622.40 290.96,622.40 291.12,622.40 291.29,622.40 291.45,622.40 291.61,622.40 291.77,622.40 291.93,622.40 292.10,622.40 292.26,622.40 292.42,622.40 292.58,622.40 292.75,622.40 292.91,622.40 293.07,622.40 293.23,622.40 293.40,622.40 293.56,622.40 293.72,622.40 293.88,622.40 294.05,622.40 294.21,622.40 294.37,622.40 294.53,622.40 294.70,622.40 294.86,622.40 295.02,622.40 295.18,622.40 295.34,622.40 295.51,622.40 295.67,622.40 295.83,622.40 295.99,622.40 296.16,622.40 296.32,622.40 296.48,622.40 296.64,622.40 296.81,622.40 296.97,622.40 297.13,622.40 297.29,622.40 297.46,622.40 297.62,622.40 297.78,622.40 297.94,622.40 298.11,622.40 298.27,622.40 298.43,622.40 298.59,622.40 298.75,622.40 298.92,622.40 299.08,622.40 299.24,622.40 299.40,622.40 299.57,622.40 299.73,622.40 299.89,622.40 300.05,622.40 300.22,622.40 300.38,622.40 300.54,622.40 300.70,622.40 300.87,622.40 301.03,622.40 301.19,622.40 301.35,622.40 301.52,622.40 301.68,622.40 301.84,622.40 302.00,622.40 302.17,622.40 302.33,622.40 302.49,622.40 302.65,622.40 302.81,622.40 302.98,622.40 303.14,622.40 303.30,622.40 303.46,622.40 303.63,622.40 303.79,622.40 303.95,622.40 304.11,622.40 304.28,622.40 304.44,622.40 304.60,622.40 304.76,622.40 304.93,622.40 305.09,622.40 305.25,622.40 305.41,622.40 305.58,622.40 305.74,622.40 305.90,622.40 306.06,622.40 306.22,622.40 306.39,622.40 306.55,622.40 306.71,622.40 306.87,622.40 307.04,622.40 307.20,622.40 307.36,622.40 307.52,622.40 307.69,622.40 307.85,622.40 308.01,622.40 308.17,622.40 308.34,622.40 308.50,622.40 308.66,622.40 308.82,622.40 308.99,622.40 309.15,622.40 309.31,622.40 309.47,622.40 309.63,622.40 309.80,622.40 309.96,622.40 310.12,622.40 310.28,622.40 310.45,622.40 310.61,622.40 310.77,622.40 310.93,622.40 311.10,622.40 311.26,622.40 311.42,622.40 311.58,622.40 311.75,622.40 311.91,622.40 312.07,622.40 312.23,622.40 312.40,622.40 312.56,622.40 312.72,622.40 312.88,622.40 313.04,622.40 313.21,622.40 313.37,622.40 313.53,622.40 313.69,622.40 313.86,622.40 314.02,622.40 314.18,622.40 314.34,622.40 314.51,622.40 314.67,622.40 314.83,622.40 314.99,622.40 315.16,622.40 315.32,622.40 315.48,622.40 315.64,622.40 315.81,622.40 315.97,622.40 316.13,622.40 316.29,622.40 316.46,622.40 316.62,622.40 316.78,622.40 316.94,622.40 317.10,622.40 317.27,622.40 317.43,622.40 317.59,622.40 317.75,622.40 317.92,622.40 318.08,622.40 318.24,622.40 318.40,622.40 318.57,622.40 318.73,622.40 318.89,622.40 319.05,622.40 319.22,622.40 319.38,622.40 319.54,622.40 319.70,622.40 319.87,622.40 320.03,622.40 320.19,622.40 320.35,622.40 320.51,622.40 320.68,622.40 320.84,622.40 321.00,622.40 321.16,622.40 321.33,622.40 321.49,622.40 321.65,622.40 321.81,622.40 321.98,622.40 322.14,622.40 322.30,622.40 322.46,622.40 322.63,622.40 322.79,622.40 322.95,622.40 323.11,622.40 323.28,622.40 323.44,622.40 323.60,622.40 323.76,622.40 323.92,622.40 324.09,622.40 324.25,622.40 324.41,622.40 324.57,622.40 324.74,622.40 324.90,622.40 325.06,622.40 325.22,622.40 325.39,622.40 325.55,622.40 325.71,622.40 325.87,622.40 326.04,622.40 326.20,622.40 326.36,622.40 326.52,622.40 326.69,622.40 326.85,622.40 327.01,622.40 327.17,622.40 327.33,622.40 327.50,622.40 327.66,622.40 327.82,622.40 327.98,622.40 328.15,622.40 328.31,622.40 328.47,622.40 328.63,622.40 328.80,622.40 328.96,622.40 329.12,622.40 329.28,622.40 329.45,622.40 329.61,622.40 329.77,622.40 329.93,622.40 330.10,622.40 330.26,622.40 330.42,622.40 330.58,622.40 330.75,622.40 330.91,622.40 331.07,622.40 331.23,622.40 331.39,622.40 331.56,622.40 331.72,622.40 331.88,622.40 332.04,622.40 332.21,622.40 332.37,622.40 332.53,622.40 332.69,622.40 332.86,622.40 333.02,622.40 333.18,622.40 333.34,622.40 333.51,622.40 333.67,622.40 333.83,622.40 333.99,622.40 334.16,622.40 334.32,622.40 334.48,622.40 334.64,622.40 334.80,622.40 334.97,622.40 335.13,622.40 335.29,622.40 335.45,622.40 335.62,622.40 335.78,622.40 335.94,622.40 336.10,622.40 336.27,622.40 336.43,622.40 336.59,622.40 336.75,622.40 336.92,622.40 337.08,622.40 337.24,622.40 337.40,622.40 337.57,622.40 337.73,622.40 337.89,622.40 338.05,622.40 338.21,622.40 338.38,622.40 338.54,622.40 338.70,622.40 338.86,622.40 339.03,622.40 339.19,622.40 339.35,622.40 339.51,622.40 339.68,622.40 339.84,622.40 340.00,622.40 340.16,622.40 340.33,622.40 340.49,622.40 340.65,622.40 340.81,622.40 340.98,622.40 341.14,622.40 341.30,622.40 341.46,622.40 341.62,622.40 341.79,622.40 341.95,622.40 342.11,622.40 342.27,622.40 342.44,622.40 342.60,622.40 342.76,622.40 342.92,622.40 343.09,622.40 343.25,622.40 343.41,622.40 343.57,622.40 343.74,622.40 343.90,622.40 344.06,622.40 344.22,622.40 344.39,622.40 344.55,622.40 344.71,622.40 344.87,622.40 345.04,622.40 345.20,622.40 345.36,622.40 345.52,622.40 345.68,622.40 345.85,622.40 346.01,622.40 346.17,622.40 346.33,622.40 346.50,622.40 346.66,622.40 346.82,622.40 346.98,622.40 347.15,622.40 347.31,622.40 347.47,622.40 347.63,622.40 347.80,622.40" fill="none" stroke="#dc4a5e" stroke-width="1.3"/>
<polyline points="55.50,622.40 55.66,622.40 55.82,622.40 55.99,622.40 56.15,622.40 56.31,622.40 56.47,622.40 56.64,622.40 56.80,622.40 56.96,622.40 57.12,622.40 57.29,622.40 57.45,622.40 57.61,622.40 57.77,622.40 57.94,622.40 58.10,622.40 58.26,622.40 58.42,622.40 58.59,622.40 58.75,622.40 58.91,622.40 59.07,622.40 59.23,622.40 59.40,622.40 59.56,622.40 59.72,622.40 59.88,622.40 60.05,622.40 60.21,622.40 60.37,622.40 60.53,622.40 60.70,622.40 60.86,622.40 61.02,622.40 61.18,622.40 61.35,622.40 61.51,622.40 61.67,622.40 61.83,622.40 62.00,622.40 62.16,622.40 62.32,622.40 62.48,622.40 62.65,622.40 62.81,622.40 62.97,622.40 63.13,622.40 63.29,622.40 63.46,622.40 63.62,622.40 63.78,622.40 63.94,622.40 64.11,622.40 64.27,622.40 64.43,622.40 64.59,622.40 64.76,622.40 64.92,622.40 65.08,622.40 65.24,622.40 65.41,622.40 65.57,622.40 65.73,622.40 65.89,622.40 66.06,622.40 66.22,622.40 66.38,622.40 66.54,622.40 66.70,622.40 66.87,622.40 67.03,622.40 67.19,622.40 67.35,622.40 67.52,622.40 67.68,622.40 67.84,622.40 68.00,622.40 68.17,622.40 68.33,622.40 68.49,622.40 68.65,622.40 68.82,622.40 68.98,622.40 69.14,622.40 69.30,622.40 69.47,622.40 69.63,622.40 69.79,622.40 69.95,622.40 70.11,622.40 70.28,622.40 70.44,622.40 70.60,622.40 70.76,622.40 70.93,622.40 71.09,622.40 71.25,622.40 71.41,622.40 71.58,622.40 71.74,622.40 71.90,622.40 72.06,622.40 72.23,622.40 72.39,622.40 72.55,622.40 72.71,622.40 72.88,622.40 73.04,622.40 73.20,622.40 73.36,622.40 73.52,622.40 73.69,622.40 73.85,622.40 74.01,622.40 74.17,622.40 74.34,622.40 74.50,622.40 74.66,622.40 74.82,622.40 74.99,622.40 75.15,622.40 75.31,622.40 75.47,622.40 75.64,622.40 75.80,622.40 75.96,622.40 76.12,622.40 76.29,622.40 76.45,622.40 76.61,622.40 76.77,622.40 76.94,622.40 77.10,622.40 77.26,622.40 77.42,622.40 77.58,622.40 77.75,622.40 77.91,622.40 78.07,622.40 78.23,622.40 78.40,622.40 78.56,622.40 78.72,622.40 78.88,622.40 79.05,622.40 79.21,622.40 79.37,622.40 79.53,622.40 79.70,622.40 79.86,622.40 80.02,622.40 80.18,622.40 80.35,622.40 80.51,622.40 80.67,622.40 80.83,622.40 80.99,622.40 81.16,622.40 81.32,622.40 81.48,622.40 81.64,622.40 81.81,622.40 81.97,622.40 82.13,622.40 82.29,622.40 82.46,622.40 82.62,622.40 82.78,622.40 82.94,622.40 83.11,622.40 83.27,622.40 83.43,622.40 83.59,622.40 83.76,622.40 83.92,622.40 84.08,622.40 84.24,622.40 84.40,622.40 84.57,622.40 84.73,622.40 84.89,622.40 85.05,622.40 85.22,622.40 85.38,622.40 85.54,622.40 85.70,622.40 85.87,622.40 86.03,622.40 86.19,622.40 86.35,622.40 86.52,622.40 86.68,622.40 86.84,622.40 87.00,622.40 87.17,622.40 87.33,622.40 87.49,622.40 87.65,622.40 87.81,622.40 87.98,622.40 88.14,622.40 88.30,622.40 88.46,622.40 88.63,622.40 88.79,622.40 88.95,622.40 89.11,622.40 89.28,622.40 89.44,622.40 89.60,622.40 89.76,622.40 89.93,622.40 90.09,622.40 90.25,622.40 90.41,622.40 90.58,622.40 90.74,622.40 90.90,622.40 91.06,622.40 91.23,622.40 91.39,622.40 91.55,622.40 91.71,622.40 91.87,622.40 92.04,622.40 92.20,622.40 92.36,622.40 92.52,622.40 92.69,622.40 92.85,622.40 93.01,622.40 93.17,622.40 93.34,622.40 93.50,622.40 93.66,622.40 93.82,622.40 93.99,622.40 94.15,622.40 94.31,622.40 94.47,622.40 94.64,622.40 94.80,622.40 94.96,622.40 95.12,622.40 95.28,622.40 95.45,622.40 95.61,622.40 95.77,622.40 95.93,622.40 96.10,622.40 96.26,622.40 96.42,622.40 96.58,622.40 96.75,622.40 96.91,622.40 97.07,622.40 97.23,622.40 97.40,622.40 97.56,622.40 97.72,622.40 97.88,622.40 98.05,622.40 98.21,622.40 98.37,622.40 98.53,622.40 98.69,622.40 98.86,622.40 99.02,622.40 99.18,622.40 99.34,622.40 99.51,622.40 99.67,622.40 99.83,622.40 99.99,622.40 100.16,622.40 100.32,622.40 100.48,622.40 100.64,622.40 100.81,622.40 100.97,622.40 101.13,622.40 101.29,622.40 101.46,622.40 101.62,622.40 101.78,622.40 101.94,622.40 102.10,622.40 102.27,622.40 102.43,622.40 102.59,622.40 102.75,622.40 102.92,622.40 103.08,622.40 103.24,622.40 103.40,622.40 103.57,622.40 103.73,622.40 103.89,622.40 104.05,622.40 104.22,622.40 104.38,622.40 104.54,622.40 104.70,622.40 104.87,622.40 105.03,622.40 105.19,622.40 105.35,622.40 105.52,622.40 105.68,622.40 105.84,622.40 106.00,622.40 106.16,622.40 106.33,622.40 106.49,622.40 106.65,622.40 106.81,622.40 106.98,622.40 107.14,622.40 107.30,622.40 107.46,622.40 107.63,622.40 107.79,622.40 107.95,622.40 108.11,622.40 108.28,622.40 108.44,622.40 108.60,622.40 108.76,622.40 108.93,622.40 109.09,622.40 109.25,622.40 109.41,622.40 109.57,622.40 109.74,622.40 109.90,622.40 110.06,622.40 110.22,622.40 110.39,622.40 110.55,622.40 110.71,622.40 110.87,622.40 111.04,622.40 111.20,622.40 111.36,622.40 111.52,622.40 111.69,622.40 111.85,622.40 112.01,622.40 112.17,622.40 112.34,622.40 112.50,622.40 112.66,622.40 112.82,622.40 112.98,622.40 113.15,622.40 113.31,622.40 113.47,622.40 113.63,622.40 113.80,622.40 113.96,622.40 114.12,622.40 114.28,622.40 114.45,622.40 114.61,622.40 114.77,622.40 114.93,622.40 115.10,622.40 115.26,622.40 115.42,622.40 115.58,622.40 115.75,622.40 115.91,622.40 116.07,622.40 116.23,622.40 116.39,622.40 116.56,622.40 116.72,622.40 116.88,622.40 117.04,622.40 117.21,622.40 117.37,622.40 117.53,622.40 117.69,622.40 117.86,622.40 118.02,622.40 118.18,622.40 118.34,622.40 118.51,622.40 118.67,622.40 118.83,622.40 118.99,622.40 119.16,622.40 119.32,622.40 119.48,622.40 119.64,622.40 119.81,622.40 119.97,622.40 120.13,622.40 120.29,622.40 120.45,622.40 120.62,622.40 120.78,622.40 120.94,622.40 121.10,622.40 121.27,622.40 121.43,622.40 121.59,622.40 121.75,622.40 121.92,622.40 122.08,622.40 122.24,622.40 122.40,622.40 122.57,622.40 122.73,622.40 122.89,622.40 123.05,622.40 123.22,622.40 123.38,622.40 123.54,622.40 123.70,622.40 123.86,622.40 124.03,622.40 124.19,622.40 124.35,622.40 124.51,622.40 124.68,622.40 124.84,622.40 125.00,622.40 125.16,622.40 125.33,622.40 125.49,622.40 125.65,622.40 125.81,622.40 125.98,622.39 126.14,622.38 126.30,622.36 126.46,622.34 126.63,622.32 126.79,622.28 126.95,622.24 127.11,622.17 127.27,622.09 127.44,621.99 127.60,621.86 127.76,621.73 127.92,621.57 128.09,621.41 128.25,621.22 128.41,620.99 128.57,620.73 128.74,620.44 128.90,620.11 129.06,619.77 129.22,619.40 129.39,618.98 129.55,618.53 129.71,618.06 129.87,617.57 130.04,617.08 130.20,616.58 130.36,616.05 130.52,615.52 130.68,614.96 130.85,614.39 131.01,613.79 131.17,613.17 131.33,612.54 131.50,611.93 131.66,611.34 131.82,610.78 131.98,610.22 132.15,609.66 132.31,609.10 132.47,608.55 132.63,608.01 132.80,607.47 132.96,606.94 133.12,606.42 133.28,605.90 133.45,605.40 133.61,604.90 133.77,604.41 133.93,603.92 134.10,603.44 134.26,602.96 134.42,602.48 134.58,602.01 134.74,601.55 134.91,601.10 135.07,600.65 135.23,600.20 135.39,599.76 135.56,599.33 135.72,598.90 135.88,598.47 136.04,598.06 136.21,597.65 136.37,597.24 136.53,596.85 136.69,596.46 136.86,596.08 137.02,595.71 137.18,595.35 137.34,595.00 137.51,594.66 137.67,594.33 137.83,594.02 137.99,593.71 138.15,593.41 138.32,593.12 138.48,592.84 138.64,592.58 138.80,592.32 138.97,592.07 139.13,591.84 139.29,591.62 139.45,591.41 139.62,591.21 139.78,591.03 139.94,590.85 140.10,590.69 140.27,590.54 140.43,590.41 140.59,590.28 140.75,590.17 140.92,590.06 141.08,589.97 141.24,589.88 141.40,589.80 141.56,589.74 141.73,589.68 141.89,589.62 142.05,589.58 142.21,589.54 142.38,589.51 142.54,589.49 142.70,589.47 142.86,589.45 143.03,589.44 143.19,589.44 143.35,589.43 143.51,589.43 143.68,589.43 143.84,589.42 144.00,589.42 144.16,589.42 144.33,589.42 144.49,589.42 144.65,589.42 144.81,589.42 144.97,589.42 145.14,589.42 145.30,589.42 145.46,589.42 145.62,589.42 145.79,589.42 145.95,589.42 146.11,589.42 146.27,589.42 146.44,589.42 146.60,589.42 146.76,589.42 146.92,589.42 147.09,589.42 147.25,589.42 147.41,589.42 147.57,589.42 147.74,589.42 147.90,589.42 148.06,589.42 148.22,589.42 148.39,589.42 148.55,589.42 148.71,589.42 148.87,589.42 149.03,589.42 149.20,589.42 149.36,589.42 149.52,589.42 149.68,589.42 149.85,589.42 150.01,589.42 150.17,589.42 150.33,589.42 150.50,589.42 150.66,589.42 150.82,589.42 150.98,589.42 151.15,589.42 151.31,589.42 151.47,589.42 151.63,589.42 151.80,589.42 151.96,589.42 152.12,589.42 152.28,589.42 152.44,589.42 152.61,589.42 152.77,589.42 152.93,589.42 153.09,589.42 153.26,589.42 153.42,589.42 153.58,589.42 153.74,589.42 153.91,589.42 154.07,589.42 154.23,589.42 154.39,589.42 154.56,589.42 154.72,589.42 154.88,589.42 155.04,589.42 155.21,589.42 155.37,589.42 155.53,589.42 155.69,589.42 155.85,589.42 156.02,589.42 156.18,589.42 156.34,589.42 156.50,589.42 156.67,589.42 156.83,589.42 156.99,589.42 157.15,589.42 157.32,589.42 157.48,589.42 157.64,589.42 157.80,589.42 157.97,589.42 158.13,589.42 158.29,589.42 158.45,589.42 158.62,589.42 158.78,589.42 158.94,589.42 159.10,589.42 159.26,589.42 159.43,589.42 159.59,589.43 159.75,589.43 159.91,589.46 160.08,589.51 160.24,589.60 160.40,589.72 160.56,589.90 160.73,590.12 160.89,590.39 161.05,590.72 161.21,591.11 161.38,591.56 161.54,592.06 161.70,592.63 161.86,593.26 162.03,593.94 162.19,594.68 162.35,595.47 162.51,596.31 162.68,597.20 162.84,598.13 163.00,599.09 163.16,600.09 163.32,601.12 163.49,602.18 163.65,603.25 163.81,604.33 163.97,605.43 164.14,606.52 164.30,607.62 164.46,608.70 164.62,609.77 164.79,610.82 164.95,611.85 165.11,612.85 165.27,613.81 165.44,614.73 165.60,615.61 165.76,616.45 165.92,617.23 166.09,617.97 166.25,618.64 166.41,619.26 166.57,619.82 166.73,620.32 166.90,620.76 167.06,621.14 167.22,621.47 167.38,621.74 167.55,621.95 167.71,622.12 167.87,622.24 168.03,622.32 168.20,622.37 168.36,622.39 168.52,622.40 168.68,622.40 168.85,622.40 169.01,622.40 169.17,622.40 169.33,622.40 169.50,622.40 169.66,622.40 169.82,622.40 169.98,622.40 170.14,622.40 170.31,622.40 170.47,622.40 170.63,622.40 170.79,622.40 170.96,622.40 171.12,622.40 171.28,622.40 171.44,622.40 171.61,622.40 171.77,622.40 171.93,622.40 172.09,622.40 172.26,622.40 172.42,622.40 172.58,622.40 172.74,622.40 172.91,622.40 173.07,622.40 173.23,622.40 173.39,622.40 173.55,622.40 173.72,622.40 173.88,622.40 174.04,622.40 174.20,622.40 174.37,622.40 174.53,622.40 174.69,622.40 174.85,622.40 175.02,622.40 175.18,622.40 175.34,622.40 175.50,622.40 175.67,622.40 175.83,622.40 175.99,622.40 176.15,622.40 176.32,622.40 176.48,622.40 176.64,622.40 176.80,622.40 176.97,622.40 177.13,622.40 177.29,622.40 177.45,622.40 177.61,622.40 177.78,622.40 177.94,622.40 178.10,622.40 178.26,622.40 178.43,622.40 178.59,622.40 178.75,622.40 178.91,622.40 179.08,622.40 179.24,622.40 179.40,622.40 179.56,622.40 179.73,622.40 179.89,622.40 180.05,622.40 180.21,622.40 180.38,622.40 180.54,622.40 180.70,622.40 180.86,622.40 181.02,622.40 181.19,622.40 181.35,622.40 181.51,622.40 181.67,622.40 181.84,622.40 182.00,622.40 182.16,622.40 182.32,622.40 182.49,622.40 182.65,622.40 182.81,622.40 182.97,622.40 183.14,622.40 183.30,622.40 183.46,622.40 183.62,622.40 183.79,622.40 183.95,622.40 184.11,622.40 184.27,622.40 184.43,622.40 184.60,622.40 184.76,622.40 184.92,622.40 185.08,622.40 185.25,622.40 185.41,622.40 185.57,622.40 185.73,622.40 185.90,622.40 186.06,622.40 186.22,622.40 186.38,622.40 186.55,622.40 186.71,622.40 186.87,622.40 187.03,622.40 187.20,622.40 187.36,622.40 187.52,622.40 187.68,622.40 187.84,622.40 188.01,622.40 188.17,622.40 188.33,622.40 188.49,622.40 188.66,622.40 188.82,622.40 188.98,622.40 189.14,622.40 189.31,622.40 189.47,622.40 189.63,622.40 189.79,622.40 189.96,622.40 190.12,622.40 190.28,622.40 190.44,622.40 190.61,622.40 190.77,622.40 190.93,622.40 191.09,622.40 191.26,622.40 191.42,622.40 191.58,622.40 191.74,622.40 191.90,622.40 192.07,622.40 192.23,622.40 192.39,622.40 192.55,622.40 192.72,622.40 192.88,622.40 193.04,622.40 193.20,622.40 193.37,622.40 193.53,622.40 193.69,622.40 193.85,622.40 194.02,622.40 194.18,622.40 194.34,622.40 194.50,622.40 194.67,622.40 194.83,622.40 194.99,622.40 195.15,622.40 195.31,622.40 195.48,622.40 195.64,622.40 195.80,622.40 195.96,622.40 196.13,622.40 196.29,622.40 196.45,622.40 196.61,622.40 196.78,622.40 196.94,622.40 197.10,622.40 197.26,622.40 197.43,622.40 197.59,622.40 197.75,622.40 197.91,622.40 198.08,622.40 198.24,622.40 198.40,622.40 198.56,622.40 198.72,622.40 198.89,622.40 199.05,622.40 199.21,622.40 199.37,622.40 199.54,622.40 199.70,622.40 199.86,622.40 200.02,622.40 200.19,622.40 200.35,622.40 200.51,622.40 200.67,622.40 200.84,622.40 201.00,622.40 201.16,622.40 201.32,622.40 201.49,622.40 201.65,622.40 201.81,622.40 201.97,622.40 202.13,622.40 202.30,622.40 202.46,622.40 202.62,622.40 202.78,622.40 202.95,622.40 203.11,622.40 203.27,622.40 203.43,622.40 203.60,622.40 203.76,622.40 203.92,622.40 204.08,622.40 204.25,622.40 204.41,622.40 204.57,622.40 204.73,622.40 204.90,622.40 205.06,622.40 205.22,622.40 205.38,622.40 205.55,622.40 205.71,622.40 205.87,622.40 206.03,622.40 206.19,622.40 206.36,622.40 206.52,622.40 206.68,622.40 206.84,622.40 207.01,622.40 207.17,622.40 207.33,622.40 207.49,622.40 207.66,622.40 207.82,622.40 207.98,622.40 208.14,622.40 208.31,622.40 208.47,622.40 208.63,622.40 208.79,622.40 208.96,622.40 209.12,622.40 209.28,622.40 209.44,622.40 209.60,622.40 209.77,622.40 209.93,622.40 210.09,622.40 210.25,622.40 210.42,622.40 210.58,622.40 210.74,622.40 210.90,622.40 211.07,622.40 211.23,622.40 211.39,622.40 211.55,622.40 211.72,622.40 211.88,622.40 212.04,622.40 212.20,622.40 212.37,622.40 212.53,622.40 212.69,622.40 212.85,622.40 213.01,622.40 213.18,622.40 213.34,622.40 213.50,622.40 213.66,622.40 213.83,622.40 213.99,622.40 214.15,622.40 214.31,622.40 214.48,622.40 214.64,622.40 214.80,622.40 214.96,622.40 215.13,622.40 215.29,622.40 215.45,622.40 215.61,622.40 215.78,622.40 215.94,622.40 216.10,622.40 216.26,622.40 216.42,622.40 216.59,622.40 216.75,622.40 216.91,622.40 217.07,622.40 217.24,622.40 217.40,622.40 217.56,622.40 217.72,622.40 217.89,622.40 218.05,622.40 218.21,622.40 218.37,622.40 218.54,622.40 218.70,622.40 218.86,622.40 219.02,622.40 219.19,622.40 219.35,622.40 219.51,622.40 219.67,622.40 219.84,622.40 220.00,622.40 220.16,622.40 220.32,622.40 220.48,622.40 220.65,622.40 220.81,622.40 220.97,622.40 221.13,622.40 221.30,622.40 221.46,622.40 221.62,622.40 221.78,622.40 221.95,622.40 222.11,622.40 222.27,622.40 222.43,622.40 222.60,622.40 222.76,622.40 222.92,622.40 223.08,622.40 223.25,622.40 223.41,622.40 223.57,622.40 223.73,622.40 223.89,622.40 224.06,622.40 224.22,622.40 224.38,622.40 224.54,622.40 224.71,622.40 224.87,622.40 225.03,622.40 225.19,622.40 225.36,622.40 225.52,622.40 225.68,622.40 225.84,622.40 226.01,622.40 226.17,622.40 226.33,622.40 226.49,622.40 226.66,622.40 226.82,622.40 226.98,622.40 227.14,622.40 227.30,622.40 227.47,622.40 227.63,622.40 227.79,622.40 227.95,622.40 228.12,622.40 228.28,622.40 228.44,622.40 228.60,622.40 228.77,622.40 228.93,622.40 229.09,622.40 229.25,622.40 229.42,622.40 229.58,622.40 229.74,622.40 229.90,622.40 230.07,622.40 230.23,622.40 230.39,622.40 230.55,622.40 230.71,622.40 230.88,622.40 231.04,622.40 231.20,622.40 231.36,622.40 231.53,622.40 231.69,622.40 231.85,622.40 232.01,622.40 232.18,622.40 232.34,622.40 232.50,622.40 232.66,622.40 232.83,622.40 232.99,622.40 233.15,622.40 233.31,622.40 233.48,622.40 233.64,622.40 233.80,622.40 233.96,622.40 234.13,622.40 234.29,622.40 234.45,622.40 234.61,622.40 234.77,622.40 234.94,622.39 235.10,622.37 235.26,622.32 235.42,622.24 235.59,622.12 235.75,621.95 235.91,621.74 236.07,621.47 236.24,621.14 236.40,620.76 236.56,620.32 236.72,619.82 236.89,619.26 237.05,618.64 237.21,617.97 237.37,617.23 237.54,616.45 237.70,615.61 237.86,614.73 238.02,613.81 238.18,612.85 238.35,611.85 238.51,610.82 238.67,609.77 238.83,608.70 239.00,607.62 239.16,606.52 239.32,605.43 239.48,604.33 239.65,603.25 239.81,602.18 239.97,601.12 240.13,600.09 240.30,599.09 240.46,598.13 240.62,597.20 240.78,596.31 240.95,595.47 241.11,594.68 241.27,593.94 241.43,593.26 241.59,592.63 241.76,592.06 241.92,591.56 242.08,591.11 242.24,590.72 242.41,590.39 242.57,590.12 242.73,589.90 242.89,589.72 243.06,589.60 243.22,589.51 243.38,589.46 243.54,589.43 243.71,589.43 243.87,589.42 244.03,589.42 244.19,589.42 244.36,589.42 244.52,589.42 244.68,589.42 244.84,589.42 245.00,589.42 245.17,589.42 245.33,589.42 245.49,589.42 245.65,589.42 245.82,589.42 245.98,589.42 246.14,589.42 246.30,589.42 246.47,589.42 246.63,589.42 246.79,589.42 246.95,589.42 247.12,589.42 247.28,589.42 247.44,589.42 247.60,589.42 247.77,589.42 247.93,589.42 248.09,589.42 248.25,589.42 248.42,589.42 248.58,589.42 248.74,589.42 248.90,589.42 249.06,589.42 249.23,589.42 249.39,589.42 249.55,589.42 249.71,589.42 249.88,589.42 250.04,589.42 250.20,589.42 250.36,589.42 250.53,589.42 250.69,589.42 250.85,589.42 251.01,589.42 251.18,589.42 251.34,589.42 251.50,589.42 251.66,589.42 251.83,589.42 251.99,589.42 252.15,589.42 252.31,589.42 252.47,589.42 252.64,589.42 252.80,589.42 252.96,589.42 253.12,589.42 253.29,589.42 253.45,589.42 253.61,589.42 253.77,589.42 253.94,589.42 254.10,589.42 254.26,589.42 254.42,589.42 254.59,589.42 254.75,589.42 254.91,589.42 255.07,589.42 255.24,589.42 255.40,589.42 255.56,589.42 255.72,589.42 255.88,589.42 256.05,589.42 256.21,589.42 256.37,589.42 256.53,589.42 256.70,589.42 256.86,589.42 257.02,589.42 257.18,589.42 257.35,589.42 257.51,589.42 257.67,589.42 257.83,589.42 258.00,589.42 258.16,589.42 258.32,589.42 258.48,589.42 258.65,589.42 258.81,589.42 258.97,589.42 259.13,589.42 259.29,589.42 259.46,589.42 259.62,589.43 259.78,589.43 259.94,589.43 260.11,589.44 260.27,589.44 260.43,589.45 260.59,589.47 260.76,589.49 260.92,589.51 261.08,589.54 261.24,589.58 261.41,589.62 261.57,589.68 261.73,589.74 261.89,589.80 262.06,589.88 262.22,589.97 262.38,590.06 262.54,590.17 262.71,590.28 262.87,590.41 263.03,590.54 263.19,590.69 263.35,590.85 263.52,591.03 263.68,591.21 263.84,591.41 264.00,591.62 264.17,591.84 264.33,592.07 264.49,592.32 264.65,592.58 264.82,592.84 264.98,593.12 265.14,593.41 265.30,593.71 265.47,594.02 265.63,594.33 265.79,594.66 265.95,595.00 266.12,595.35 266.28,595.71 266.44,596.08 266.60,596.46 266.76,596.85 266.93,597.24 267.09,597.65 267.25,598.06 267.41,598.47 267.58,598.90 267.74,599.33 267.90,599.76 268.06,600.20 268.23,600.65 268.39,601.10 268.55,601.55 268.71,602.01 268.88,602.48 269.04,602.96 269.20,603.44 269.36,603.92 269.53,604.41 269.69,604.90 269.85,605.40 270.01,605.90 270.17,606.42 270.34,606.94 270.50,607.47 270.66,608.01 270.82,608.55 270.99,609.10 271.15,609.66 271.31,610.22 271.47,610.78 271.64,611.34 271.80,611.93 271.96,612.54 272.12,613.17 272.29,613.79 272.45,614.39 272.61,614.96 272.77,615.52 272.94,616.05 273.10,616.58 273.26,617.08 273.42,617.57 273.58,618.06 273.75,618.53 273.91,618.98 274.07,619.40 274.23,619.77 274.40,620.11 274.56,620.44 274.72,620.73 274.88,620.99 275.05,621.22 275.21,621.41 275.37,621.57 275.53,621.73 275.70,621.86 275.86,621.99 276.02,622.09 276.18,622.17 276.35,622.24 276.51,622.28 276.67,622.32 276.83,622.34 277.00,622.36 277.16,622.38 277.32,622.39 277.48,622.40 277.64,622.40 277.81,622.40 277.97,622.40 278.13,622.40 278.29,622.40 278.46,622.40 278.62,622.40 278.78,622.40 278.94,622.40 279.11,622.40 279.27,622.40 279.43,622.40 279.59,622.40 279.76,622.40 279.92,622.40 280.08,622.40 280.24,622.40 280.41,622.40 280.57,622.40 280.73,622.40 280.89,622.40 281.05,622.40 281.22,622.40 281.38,622.40 281.54,622.40 281.70,622.40 281.87,622.40 282.03,622.40 282.19,622.40 282.35,622.40 282.52,622.40 282.68,622.40 282.84,622.40 283.00,622.40 283.17,622.40 283.33,622.40 283.49,622.40 283.65,622.40 283.82,622.40 283.98,622.40 284.14,622.40 284.30,622.40 284.46,622.40 284.63,622.40 284.79,622.40 284.95,622.40 285.11,622.40 285.28,622.40 285.44,622.40 285.60,622.40 285.76,622.40 285.93,622.40 286.09,622.40 286.25,622.40 286.41,622.40 286.58,622.40 286.74,622.40 286.90,622.40 287.06,622.40 287.23,622.40 287.39,622.40 287.55,622.40 287.71,622.40 287.88,622.40 288.04,622.40 288.20,622.40 288.36,622.40 288.52,622.40 288.69,622.40 288.85,622.40 289.01,622.40 289.17,622.40 289.34,622.40 289.50,622.40 289.66,622.40 289.82,622.40 289.99,622.40 290.15,622.40 290.31,622.40 290.47,622.40 290.64,622.40 290.80,622.40 290.96,622.40 291.12,622.40 291.29,622.40 291.45,622.40 291.61,622.40 291.77,622.40 291.93,622.40 292.10,622.40 292.26,622.40 292.42,622.40 292.58,622.40 292.75,622.40 292.91,622.40 293.07,622.40 293.23,622.40 293.40,622.40 293.56,622.40 293.72,622.40 293.88,622.40 294.05,622.40 294.21,622.40 294.37,622.40 294.53,622.40 294.70,622.40 294.86,622.40 295.02,622.40 295.18,622.40 295.34,622.40 295.51,622.40 295.67,622.40 295.83,622.40 295.99,622.40 296.16,622.40 296.32,622.40 296.48,622.40 296.64,622.40 296.81,622.40 296.97,622.40 297.13,622.40 297.29,622.40 297.46,622.40 297.62,622.40 297.78,622.40 297.94,622.40 298.11,622.40 298.27,622.40 298.43,622.40 298.59,622.40 298.75,622.40 298.92,622.40 299.08,622.40 299.24,622.40 299.40,622.40 299.57,622.40 299.73,622.40 299.89,622.40 300.05,622.40 300.22,622.40 300.38,622.40 300.54,622.40 300.70,622.40 300.87,622.40 301.03,622.40 301.19,622.40 301.35,622.40 301.52,622.40 301.68,622.40 301.84,622.40 302.00,622.40 302.17,622.40 302.33,622.40 302.49,622.40 302.65,622.40 302.81,622.40 302.98,622.40 303.14,622.40 303.30,622.40 303.46,622.40 303.63,622.40 303.79,622.40 303.95,622.40 304.11,622.40 304.28,622.40 304.44,622.40 304.60,622.40 304.76,622.40 304.93,622.40 305.09,622.40 305.25,622.40 305.41,622.40 305.58,622.40 305.74,622.40 305.90,622.40 306.06,622.40 306.22,622.40 306.39,622.40 306.55,622.40 306.71,622.40 306.87,622.40 307.04,622.40 307.20,622.40 307.36,622.40 307.52,622.40 307.69,622.40 307.85,622.40 308.01,622.40 308.17,622.40 308.34,622.40 308.50,622.40 308.66,622.40 308.82,622.40 308.99,622.40 309.15,622.40 309.31,622.40 309.47,622.40 309.63,622.40 309.80,622.40 309.96,622.40 310.12,622.40 310.28,622.40 310.45,622.40 310.61,622.40 310.77,622.40 310.93,622.40 311.10,622.40 311.26,622.40 311.42,622.40 311.58,622.40 311.75,622.40 311.91,622.40 312.07,622.40 312.23,622.40 312.40,622.40 312.56,622.40 312.72,622.40 312.88,622.40 313.04,622.40 313.21,622.40 313.37,622.40 313.53,622.40 313.69,622.40 313.86,622.40 314.02,622.40 314.18,622.40 314.34,622.40 314.51,622.40 314.67,622.40 314.83,622.40 314.99,622.40 315.16,622.40 315.32,622.40 315.48,622.40 315.64,622.40 315.81,622.40 315.97,622.40 316.13,622.40 316.29,622.40 316.46,622.40 316.62,622.40 316.78,622.40 316.94,622.40 317.10,622.39 317.27,622.37 317.43,622.33 317.59,622.28 317.75,622.22 317.92,622.14 318.08,622.06 318.24,621.96 318.40,621.86 318.57,621.75 318.73,621.60 318.89,621.36 319.05,621.03 319.22,620.62 319.38,620.14 319.54,619.60 319.70,619.00 319.87,618.35 320.03,617.65 320.19,616.92 320.35,616.15 320.51,615.30 320.68,614.24 320.84,612.99 321.00,611.57 321.16,610.02 321.33,608.37 321.49,606.65 321.65,604.88 321.81,602.91 321.98,600.72 322.14,598.36 322.30,595.90 322.46,593.38 322.63,590.86 322.79,588.37 322.95,585.87 323.11,583.32 323.28,580.73 323.44,578.11 323.60,575.44 323.76,572.75 323.92,570.03 324.09,567.16 324.25,564.15 324.41,561.09 324.57,558.06 324.74,555.14 324.90,552.40 325.06,549.93 325.22,547.67 325.39,545.47 325.55,543.33 325.71,541.24 325.87,539.22 326.04,537.27 326.20,535.38 326.36,533.57 326.52,531.83 326.69,530.17 326.85,528.58 327.01,527.09 327.17,525.68 327.33,524.36 327.50,523.11 327.66,521.91 327.82,520.76 327.98,519.65 328.15,518.59 328.31,517.56 328.47,516.58 328.63,515.63 328.80,514.72 328.96,513.85 329.12,513.02 329.28,512.21 329.45,511.44 329.61,510.70 329.77,509.99 329.93,509.30 330.10,508.62 330.26,507.95 330.42,507.30 330.58,506.66 330.75,506.04 330.91,505.43 331.07,504.84 331.23,504.26 331.39,503.70 331.56,503.16 331.72,502.63 331.88,502.12 332.04,501.63 332.21,501.15 332.37,500.69 332.53,500.25 332.69,499.82 332.86,499.42 333.02,499.03 333.18,498.66 333.34,498.30 333.51,497.95 333.67,497.60 333.83,497.26 333.99,496.92 334.16,496.59 334.32,496.27 334.48,495.96 334.64,495.66 334.80,495.36 334.97,495.08 335.13,494.81 335.29,494.54 335.45,494.29 335.62,494.06 335.78,493.83 335.94,493.62 336.10,493.43 336.27,493.25 336.43,493.09 336.59,492.94 336.75,492.81 336.92,492.68 337.08,492.55 337.24,492.42 337.40,492.30 337.57,492.17 337.73,492.05 337.89,491.93 338.05,491.82 338.21,491.71 338.38,491.60 338.54,491.49 338.70,491.39 338.86,491.29 339.03,491.20 339.19,491.11 339.35,491.03 339.51,490.95 339.68,490.87 339.84,490.81 340.00,490.74 340.16,490.69 340.33,490.64 340.49,490.60 340.65,490.56 340.81,490.54 340.98,490.52 341.14,490.50 341.30,490.50 341.46,490.50 341.62,490.50 341.79,490.50 341.95,490.50 342.11,490.50 342.27,490.50 342.44,490.50 342.60,490.50 342.76,490.50 342.92,490.50 343.09,490.50 343.25,490.50 343.41,490.50 343.57,490.50 343.74,490.50 343.90,490.50 344.06,490.50 344.22,490.50 344.39,490.50 344.55,490.50 344.71,490.50 344.87,490.50 345.04,490.50 345.20,490.50 345.36,490.50 345.52,490.50 345.68,490.50 345.85,490.50 346.01,490.50 346.17,490.50 346.33,490.50 346.50,490.50 346.66,490.50 346.82,490.50 346.98,490.50 347.15,490.50 347.31,490.50 347.47,490.50 347.63,490.50 347.80,490.50" fill="none" stroke="#8a1fd6" stroke-width="1.65" stroke-dasharray="1.6 2.35"/>
</g>
<line x1="55.50" y1="490.50" x2="347.80" y2="490.50" stroke="#111" stroke-width="1.45" stroke-dasharray="4.6 2"/>
<line x1="55.50" y1="589.42" x2="347.80" y2="589.42" stroke="#111" stroke-width="1.45" stroke-dasharray="4.6 2"/>
<line x1="52.20" y1="622.40" x2="55.50" y2="622.40" stroke="#222" stroke-width="0.9" />
<text transform="translate(48.90,627.00) scale(1.04,1)" class="s" font-size="13" fill="#1a1a1a" text-anchor="end">0.00</text>
<line x1="52.20" y1="589.42" x2="55.50" y2="589.42" stroke="#222" stroke-width="0.9" />
<text transform="translate(48.90,594.02) scale(1.04,1)" class="s" font-size="13" fill="#1a1a1a" text-anchor="end">0.25</text>
<line x1="52.20" y1="556.45" x2="55.50" y2="556.45" stroke="#222" stroke-width="0.9" />
<text transform="translate(48.90,561.05) scale(1.04,1)" class="s" font-size="13" fill="#1a1a1a" text-anchor="end">0.50</text>
<line x1="52.20" y1="523.48" x2="55.50" y2="523.48" stroke="#222" stroke-width="0.9" />
<text transform="translate(48.90,528.08) scale(1.04,1)" class="s" font-size="13" fill="#1a1a1a" text-anchor="end">0.75</text>
<line x1="52.20" y1="490.50" x2="55.50" y2="490.50" stroke="#222" stroke-width="0.9" />
<text transform="translate(48.90,495.10) scale(1.04,1)" class="s" font-size="13" fill="#1a1a1a" text-anchor="end">1.00</text>
<line x1="55.50" y1="629.40" x2="55.50" y2="632.70" stroke="#222" stroke-width="0.9" />
<text transform="translate(55.50,644.60) scale(1.06,1)" class="s" font-size="13" fill="#1a1a1a" text-anchor="middle">0</text>
<line x1="101.30" y1="629.40" x2="101.30" y2="632.70" stroke="#222" stroke-width="0.9" />
<text transform="translate(101.30,644.60) scale(1.06,1)" class="s" font-size="13" fill="#1a1a1a" text-anchor="middle">1000</text>
<line x1="147.10" y1="629.40" x2="147.10" y2="632.70" stroke="#222" stroke-width="0.9" />
<text transform="translate(147.10,644.60) scale(1.06,1)" class="s" font-size="13" fill="#1a1a1a" text-anchor="middle">2000</text>
<line x1="192.90" y1="629.40" x2="192.90" y2="632.70" stroke="#222" stroke-width="0.9" />
<text transform="translate(192.90,644.60) scale(1.06,1)" class="s" font-size="13" fill="#1a1a1a" text-anchor="middle">3000</text>
<line x1="238.70" y1="629.40" x2="238.70" y2="632.70" stroke="#222" stroke-width="0.9" />
<text transform="translate(238.70,644.60) scale(1.06,1)" class="s" font-size="13" fill="#1a1a1a" text-anchor="middle">4000</text>
<line x1="284.50" y1="629.40" x2="284.50" y2="632.70" stroke="#222" stroke-width="0.9" />
<text transform="translate(284.50,644.60) scale(1.06,1)" class="s" font-size="13" fill="#1a1a1a" text-anchor="middle">5000</text>
<line x1="330.30" y1="629.40" x2="330.30" y2="632.70" stroke="#222" stroke-width="0.9" />
<text transform="translate(330.30,644.60) scale(1.06,1)" class="s" font-size="13" fill="#1a1a1a" text-anchor="middle">6000</text>
<text x="105.10" y="586.02" class="s" font-size="14.2" fill="#1a1a1a" text-anchor="start" >0.25</text>
<text x="273.3" y="510.8" font-size="19" fill="#1a1a1a"><tspan class="s" stroke="#1a1a1a" stroke-width="0.35">s = </tspan><tspan class="f">11</tspan></text>
<line x1="126.30" y1="510.20" x2="151.90" y2="510.20" stroke="#dc4a5e" stroke-width="1.3" />
<line x1="126.30" y1="528.50" x2="151.90" y2="528.50" stroke="#7a1cc4" stroke-width="1.9" stroke-dasharray="1.5 1.0"/>
<text x="160.50" y="513.60" class="s" font-size="18" fill="#1a1a1a" text-anchor="start"  stroke="#1a1a1a" stroke-width="0.3">p</text>
<text x="170.30" y="520.60" class="s" font-size="10" fill="#1a1a1a" text-anchor="start" >n</text>
<text x="176.10" y="513.60" class="s" font-size="18" fill="#1a1a1a" text-anchor="start"  stroke="#1a1a1a" stroke-width="0.3">(t)</text>
<text x="160.50" y="532.00" class="s" font-size="18" fill="#1a1a1a" text-anchor="start"  stroke="#1a1a1a" stroke-width="0.3">p</text>
<text x="169.90" y="538.40" class="s" font-size="10" fill="#1a1a1a" text-anchor="start" >n</text>
<circle cx="179.50" cy="534.80" r="3.3" fill="none" stroke="#1a1a1a" stroke-width="0.7"/>
<line x1="176.20" y1="534.80" x2="182.80" y2="534.80" stroke="#1a1a1a" stroke-width="0.7" />
<line x1="179.50" y1="531.50" x2="179.50" y2="538.10" stroke="#1a1a1a" stroke-width="0.7" />
<text x="184.10" y="538.40" class="s" font-size="10" fill="#1a1a1a" text-anchor="start" >s</text>
<text x="190.10" y="532.00" class="s" font-size="18" fill="#1a1a1a" text-anchor="start"  stroke="#1a1a1a" stroke-width="0.3">(t)</text>
<path d="M154.50,551.60 H158.10 V572.60 L162.30,569.90 L156.30,583.40 L150.30,569.90 L154.50,572.60 Z" fill="#111"/>
<path d="M246.00,551.60 H249.60 V572.60 L253.80,569.90 L247.80,583.40 L241.80,569.90 L246.00,572.60 Z" fill="#111"/>
<rect x="385.80" y="484.30" width="292.80" height="145.10" fill="#ffffff" stroke="#454545" stroke-width="0.9" />
<clipPath id="cp385"><rect x="385.8" y="484.3" width="292.8" height="145.09999999999997"/></clipPath>
<g clip-path="url(#cp385)">
<polyline points="385.80,490.50 385.96,490.50 386.13,490.50 386.29,490.50 386.45,490.50 386.61,490.50 386.78,490.50 386.94,490.50 387.10,490.50 387.26,490.50 387.43,490.50 387.59,490.50 387.75,490.50 387.91,490.50 388.08,490.50 388.24,490.50 388.40,490.50 388.57,490.50 388.73,490.50 388.89,490.50 389.05,490.50 389.22,490.50 389.38,490.50 389.54,490.50 389.70,490.50 389.87,490.50 390.03,490.50 390.19,490.50 390.36,490.50 390.52,490.50 390.68,490.50 390.84,490.51 391.01,490.53 391.17,490.56 391.33,490.61 391.49,490.66 391.66,490.73 391.82,490.81 391.98,490.90 392.14,491.00 392.31,491.11 392.47,491.22 392.63,491.34 392.80,491.48 392.96,491.61 393.12,491.76 393.28,491.90 393.45,492.06 393.61,492.22 393.77,492.38 393.93,492.54 394.10,492.71 394.26,492.88 394.42,493.06 394.58,493.27 394.75,493.51 394.91,493.78 395.07,494.06 395.24,494.37 395.40,494.70 395.56,495.06 395.72,495.42 395.89,495.81 396.05,496.21 396.21,496.63 396.37,497.06 396.54,497.50 396.70,497.95 396.86,498.41 397.02,498.88 397.19,499.38 397.35,499.90 397.51,500.46 397.68,501.05 397.84,501.67 398.00,502.31 398.16,502.99 398.33,503.69 398.49,504.42 398.65,505.18 398.81,505.96 398.98,506.77 399.14,507.60 399.30,508.46 399.47,509.34 399.63,510.25 399.79,511.19 399.95,512.18 400.12,513.23 400.28,514.33 400.44,515.50 400.60,516.72 400.77,518.02 400.93,519.38 401.09,520.81 401.25,522.32 401.42,523.90 401.58,525.59 401.74,527.43 401.91,529.42 402.07,531.54 402.23,533.79 402.39,536.18 402.56,538.68 402.72,541.29 402.88,544.01 403.04,546.82 403.21,549.73 403.37,552.96 403.53,556.61 403.69,560.51 403.86,564.48 404.02,568.34 404.18,571.94 404.35,575.44 404.51,578.89 404.67,582.28 404.83,585.60 405.00,588.85 405.16,592.09 405.32,595.37 405.48,598.57 405.65,601.58 405.81,604.28 405.97,606.61 406.13,608.84 406.30,610.92 406.46,612.81 406.62,614.44 406.79,615.72 406.95,616.74 407.11,617.69 407.27,618.59 407.44,619.40 407.60,620.12 407.76,620.73 407.92,621.22 408.09,621.57 408.25,621.77 408.41,621.91 408.58,622.03 408.74,622.14 408.90,622.24 409.06,622.31 409.23,622.36 409.39,622.39 409.55,622.40 409.71,622.40 409.88,622.40 410.04,622.40 410.20,622.40 410.36,622.40 410.53,622.40 410.69,622.40 410.85,622.40 411.02,622.40 411.18,622.40 411.34,622.40 411.50,622.40 411.67,622.40 411.83,622.40 411.99,622.40 412.15,622.40 412.32,622.40 412.48,622.40 412.64,622.40 412.80,622.40 412.97,622.40 413.13,622.40 413.29,622.40 413.46,622.40 413.62,622.40 413.78,622.40 413.94,622.40 414.11,622.40 414.27,622.40 414.43,622.40 414.59,622.40 414.76,622.40 414.92,622.40 415.08,622.40 415.24,622.40 415.41,622.40 415.57,622.40 415.73,622.40 415.90,622.40 416.06,622.40 416.22,622.40 416.38,622.40 416.55,622.40 416.71,622.40 416.87,622.40 417.03,622.40 417.20,622.40 417.36,622.40 417.52,622.40 417.69,622.40 417.85,622.40 418.01,622.40 418.17,622.40 418.34,622.40 418.50,622.40 418.66,622.40 418.82,622.40 418.99,622.40 419.15,622.40 419.31,622.40 419.47,622.40 419.64,622.40 419.80,622.40 419.96,622.40 420.13,622.40 420.29,622.40 420.45,622.40 420.61,622.40 420.78,622.40 420.94,622.40 421.10,622.40 421.26,622.40 421.43,622.40 421.59,622.40 421.75,622.40 421.91,622.40 422.08,622.40 422.24,622.40 422.40,622.40 422.57,622.40 422.73,622.40 422.89,622.40 423.05,622.40 423.22,622.40 423.38,622.40 423.54,622.40 423.70,622.40 423.87,622.40 424.03,622.40 424.19,622.40 424.36,622.40 424.52,622.40 424.68,622.40 424.84,622.40 425.01,622.40 425.17,622.40 425.33,622.40 425.49,622.40 425.66,622.40 425.82,622.40 425.98,622.40 426.14,622.40 426.31,622.40 426.47,622.40 426.63,622.40 426.80,622.40 426.96,622.40 427.12,622.40 427.28,622.40 427.45,622.40 427.61,622.40 427.77,622.40 427.93,622.40 428.10,622.40 428.26,622.40 428.42,622.40 428.58,622.40 428.75,622.40 428.91,622.40 429.07,622.40 429.24,622.40 429.40,622.40 429.56,622.40 429.72,622.40 429.89,622.40 430.05,622.40 430.21,622.40 430.37,622.40 430.54,622.40 430.70,622.40 430.86,622.40 431.02,622.40 431.19,622.40 431.35,622.40 431.51,622.40 431.68,622.40 431.84,622.40 432.00,622.40 432.16,622.40 432.33,622.40 432.49,622.40 432.65,622.40 432.81,622.40 432.98,622.40 433.14,622.40 433.30,622.40 433.47,622.40 433.63,622.40 433.79,622.40 433.95,622.40 434.12,622.40 434.28,622.40 434.44,622.40 434.60,622.40 434.77,622.40 434.93,622.40 435.09,622.40 435.25,622.40 435.42,622.40 435.58,622.40 435.74,622.40 435.91,622.40 436.07,622.40 436.23,622.40 436.39,622.40 436.56,622.40 436.72,622.40 436.88,622.40 437.04,622.40 437.21,622.40 437.37,622.40 437.53,622.40 437.69,622.40 437.86,622.40 438.02,622.40 438.18,622.40 438.35,622.40 438.51,622.40 438.67,622.40 438.83,622.40 439.00,622.40 439.16,622.40 439.32,622.40 439.48,622.40 439.65,622.40 439.81,622.40 439.97,622.40 440.13,622.40 440.30,622.40 440.46,622.40 440.62,622.40 440.79,622.40 440.95,622.40 441.11,622.40 441.27,622.40 441.44,622.40 441.60,622.40 441.76,622.40 441.92,622.40 442.09,622.40 442.25,622.40 442.41,622.40 442.58,622.40 442.74,622.40 442.90,622.40 443.06,622.40 443.23,622.40 443.39,622.40 443.55,622.40 443.71,622.40 443.88,622.40 444.04,622.40 444.20,622.40 444.36,622.40 444.53,622.40 444.69,622.40 444.85,622.40 445.02,622.40 445.18,622.40 445.34,622.40 445.50,622.40 445.67,622.40 445.83,622.40 445.99,622.40 446.15,622.40 446.32,622.40 446.48,622.40 446.64,622.40 446.80,622.40 446.97,622.40 447.13,622.40 447.29,622.40 447.46,622.40 447.62,622.40 447.78,622.40 447.94,622.40 448.11,622.40 448.27,622.40 448.43,622.40 448.59,622.40 448.76,622.40 448.92,622.40 449.08,622.40 449.24,622.40 449.41,622.40 449.57,622.40 449.73,622.40 449.90,622.40 450.06,622.40 450.22,622.40 450.38,622.40 450.55,622.40 450.71,622.40 450.87,622.40 451.03,622.40 451.20,622.40 451.36,622.40 451.52,622.40 451.69,622.40 451.85,622.40 452.01,622.40 452.17,622.40 452.34,622.40 452.50,622.40 452.66,622.40 452.82,622.40 452.99,622.40 453.15,622.40 453.31,622.40 453.47,622.40 453.64,622.40 453.80,622.40 453.96,622.40 454.13,622.40 454.29,622.40 454.45,622.40 454.61,622.40 454.78,622.40 454.94,622.40 455.10,622.40 455.26,622.40 455.43,622.40 455.59,622.40 455.75,622.40 455.91,622.40 456.08,622.40 456.24,622.40 456.40,622.40 456.57,622.40 456.73,622.40 456.89,622.40 457.05,622.40 457.22,622.40 457.38,622.40 457.54,622.40 457.70,622.40 457.87,622.40 458.03,622.40 458.19,622.40 458.36,622.40 458.52,622.40 458.68,622.40 458.84,622.40 459.01,622.40 459.17,622.40 459.33,622.40 459.49,622.40 459.66,622.40 459.82,622.40 459.98,622.40 460.14,622.40 460.31,622.40 460.47,622.40 460.63,622.40 460.80,622.40 460.96,622.40 461.12,622.40 461.28,622.40 461.45,622.40 461.61,622.40 461.77,622.40 461.93,622.40 462.10,622.40 462.26,622.40 462.42,622.40 462.58,622.40 462.75,622.40 462.91,622.40 463.07,622.40 463.24,622.40 463.40,622.40 463.56,622.40 463.72,622.40 463.89,622.40 464.05,622.40 464.21,622.40 464.37,622.40 464.54,622.40 464.70,622.40 464.86,622.40 465.02,622.40 465.19,622.40 465.35,622.40 465.51,622.40 465.68,622.40 465.84,622.40 466.00,622.40 466.16,622.40 466.33,622.40 466.49,622.40 466.65,622.40 466.81,622.40 466.98,622.40 467.14,622.40 467.30,622.40 467.47,622.40 467.63,622.40 467.79,622.40 467.95,622.40 468.12,622.39 468.28,622.38 468.44,622.37 468.60,622.34 468.77,622.31 468.93,622.26 469.09,622.18 469.25,622.09 469.42,621.99 469.58,621.87 469.74,621.72 469.91,621.53 470.07,621.31 470.23,621.07 470.39,620.79 470.56,620.48 470.72,620.14 470.88,619.79 471.04,619.43 471.21,619.06 471.37,618.66 471.53,618.25 471.69,617.82 471.86,617.37 472.02,616.94 472.18,616.54 472.35,616.14 472.51,615.74 472.67,615.35 472.83,614.97 473.00,614.59 473.16,614.22 473.32,613.86 473.48,613.50 473.65,613.16 473.81,612.81 473.97,612.47 474.13,612.14 474.30,611.81 474.46,611.49 474.62,611.17 474.79,610.86 474.95,610.56 475.11,610.26 475.27,609.97 475.44,609.68 475.60,609.41 475.76,609.14 475.92,608.88 476.09,608.63 476.25,608.40 476.41,608.17 476.58,607.95 476.74,607.75 476.90,607.55 477.06,607.37 477.23,607.19 477.39,607.03 477.55,606.88 477.71,606.75 477.88,606.62 478.04,606.51 478.20,606.41 478.36,606.32 478.53,606.24 478.69,606.18 478.85,606.12 479.02,606.07 479.18,606.03 479.34,605.99 479.50,605.97 479.67,605.95 479.83,605.93 479.99,605.92 480.15,605.92 480.32,605.91 480.48,605.91 480.64,605.91 480.80,605.91 480.97,605.91 481.13,605.91 481.29,605.91 481.46,605.91 481.62,605.91 481.78,605.91 481.94,605.91 482.11,605.91 482.27,605.91 482.43,605.91 482.59,605.91 482.76,605.91 482.92,605.91 483.08,605.91 483.24,605.91 483.41,605.91 483.57,605.91 483.73,605.91 483.90,605.91 484.06,605.91 484.22,605.91 484.38,605.91 484.55,605.91 484.71,605.91 484.87,605.91 485.03,605.91 485.20,605.91 485.36,605.91 485.52,605.91 485.69,605.91 485.85,605.91 486.01,605.91 486.17,605.91 486.34,605.91 486.50,605.91 486.66,605.91 486.82,605.91 486.99,605.91 487.15,605.91 487.31,605.91 487.47,605.91 487.64,605.91 487.80,605.91 487.96,605.91 488.13,605.91 488.29,605.91 488.45,605.91 488.61,605.91 488.78,605.91 488.94,605.91 489.10,605.91 489.26,605.91 489.43,605.91 489.59,605.91 489.75,605.91 489.91,605.91 490.08,605.91 490.24,605.91 490.40,605.91 490.57,605.91 490.73,605.91 490.89,605.91 491.05,605.91 491.22,605.91 491.38,605.91 491.54,605.91 491.70,605.91 491.87,605.91 492.03,605.91 492.19,605.91 492.36,605.91 492.52,605.91 492.68,605.91 492.84,605.91 493.01,605.93 493.17,605.97 493.33,606.06 493.49,606.19 493.66,606.38 493.82,606.64 493.98,606.96 494.14,607.35 494.31,607.80 494.47,608.32 494.63,608.90 494.80,609.54 494.96,610.22 495.12,610.95 495.28,611.72 495.45,612.51 495.61,613.32 495.77,614.14 495.93,614.96 496.10,615.78 496.26,616.57 496.42,617.34 496.58,618.07 496.75,618.76 496.91,619.39 497.07,619.98 497.24,620.50 497.40,620.95 497.56,621.34 497.72,621.67 497.89,621.92 498.05,622.12 498.21,622.25 498.37,622.34 498.54,622.38 498.70,622.40 498.86,622.40 499.02,622.40 499.19,622.40 499.35,622.40 499.51,622.40 499.68,622.40 499.84,622.40 500.00,622.40 500.16,622.40 500.33,622.40 500.49,622.40 500.65,622.40 500.81,622.40 500.98,622.40 501.14,622.40 501.30,622.40 501.47,622.40 501.63,622.40 501.79,622.40 501.95,622.40 502.12,622.40 502.28,622.40 502.44,622.40 502.60,622.40 502.77,622.40 502.93,622.40 503.09,622.40 503.25,622.40 503.42,622.40 503.58,622.40 503.74,622.40 503.91,622.40 504.07,622.40 504.23,622.40 504.39,622.40 504.56,622.40 504.72,622.40 504.88,622.40 505.04,622.40 505.21,622.40 505.37,622.40 505.53,622.40 505.69,622.40 505.86,622.40 506.02,622.40 506.18,622.40 506.35,622.40 506.51,622.40 506.67,622.40 506.83,622.40 507.00,622.40 507.16,622.40 507.32,622.40 507.48,622.40 507.65,622.40 507.81,622.40 507.97,622.40 508.13,622.40 508.30,622.40 508.46,622.40 508.62,622.40 508.79,622.40 508.95,622.40 509.11,622.40 509.27,622.40 509.44,622.40 509.60,622.40 509.76,622.40 509.92,622.40 510.09,622.40 510.25,622.40 510.41,622.40 510.58,622.40 510.74,622.40 510.90,622.40 511.06,622.40 511.23,622.40 511.39,622.40 511.55,622.40 511.71,622.40 511.88,622.40 512.04,622.40 512.20,622.40 512.36,622.40 512.53,622.40 512.69,622.40 512.85,622.40 513.02,622.40 513.18,622.40 513.34,622.40 513.50,622.40 513.67,622.40 513.83,622.40 513.99,622.40 514.15,622.40 514.32,622.40 514.48,622.40 514.64,622.40 514.80,622.40 514.97,622.40 515.13,622.40 515.29,622.40 515.46,622.40 515.62,622.40 515.78,622.40 515.94,622.40 516.11,622.40 516.27,622.40 516.43,622.40 516.59,622.40 516.76,622.40 516.92,622.40 517.08,622.40 517.24,622.40 517.41,622.40 517.57,622.40 517.73,622.40 517.90,622.40 518.06,622.40 518.22,622.40 518.38,622.40 518.55,622.40 518.71,622.40 518.87,622.40 519.03,622.40 519.20,622.40 519.36,622.40 519.52,622.40 519.69,622.40 519.85,622.40 520.01,622.40 520.17,622.40 520.34,622.40 520.50,622.40 520.66,622.40 520.82,622.40 520.99,622.40 521.15,622.40 521.31,622.40 521.47,622.40 521.64,622.40 521.80,622.40 521.96,622.40 522.13,622.40 522.29,622.40 522.45,622.40 522.61,622.40 522.78,622.40 522.94,622.40 523.10,622.40 523.26,622.40 523.43,622.40 523.59,622.40 523.75,622.40 523.91,622.40 524.08,622.40 524.24,622.40 524.40,622.40 524.57,622.40 524.73,622.40 524.89,622.40 525.05,622.40 525.22,622.40 525.38,622.40 525.54,622.40 525.70,622.40 525.87,622.40 526.03,622.40 526.19,622.40 526.36,622.40 526.52,622.40 526.68,622.40 526.84,622.40 527.01,622.40 527.17,622.40 527.33,622.40 527.49,622.40 527.66,622.40 527.82,622.40 527.98,622.40 528.14,622.40 528.31,622.40 528.47,622.40 528.63,622.40 528.80,622.40 528.96,622.40 529.12,622.40 529.28,622.40 529.45,622.40 529.61,622.40 529.77,622.40 529.93,622.40 530.10,622.40 530.26,622.40 530.42,622.40 530.58,622.40 530.75,622.40 530.91,622.40 531.07,622.40 531.24,622.40 531.40,622.40 531.56,622.40 531.72,622.40 531.89,622.40 532.05,622.40 532.21,622.40 532.37,622.40 532.54,622.40 532.70,622.40 532.86,622.40 533.02,622.40 533.19,622.40 533.35,622.40 533.51,622.40 533.68,622.40 533.84,622.40 534.00,622.40 534.16,622.40 534.33,622.40 534.49,622.40 534.65,622.40 534.81,622.40 534.98,622.40 535.14,622.40 535.30,622.40 535.47,622.40 535.63,622.40 535.79,622.40 535.95,622.40 536.12,622.40 536.28,622.40 536.44,622.40 536.60,622.40 536.77,622.40 536.93,622.40 537.09,622.40 537.25,622.40 537.42,622.40 537.58,622.40 537.74,622.40 537.91,622.40 538.07,622.40 538.23,622.40 538.39,622.40 538.56,622.40 538.72,622.40 538.88,622.40 539.04,622.40 539.21,622.40 539.37,622.40 539.53,622.40 539.69,622.40 539.86,622.40 540.02,622.40 540.18,622.40 540.35,622.40 540.51,622.40 540.67,622.40 540.83,622.40 541.00,622.40 541.16,622.40 541.32,622.40 541.48,622.40 541.65,622.40 541.81,622.40 541.97,622.40 542.13,622.40 542.30,622.40 542.46,622.40 542.62,622.40 542.79,622.40 542.95,622.40 543.11,622.40 543.27,622.40 543.44,622.40 543.60,622.40 543.76,622.40 543.92,622.40 544.09,622.40 544.25,622.40 544.41,622.40 544.58,622.40 544.74,622.40 544.90,622.40 545.06,622.40 545.23,622.40 545.39,622.40 545.55,622.40 545.71,622.40 545.88,622.40 546.04,622.40 546.20,622.40 546.36,622.40 546.53,622.40 546.69,622.40 546.85,622.40 547.02,622.40 547.18,622.40 547.34,622.40 547.50,622.40 547.67,622.40 547.83,622.40 547.99,622.40 548.15,622.40 548.32,622.40 548.48,622.40 548.64,622.40 548.80,622.40 548.97,622.40 549.13,622.40 549.29,622.40 549.46,622.40 549.62,622.40 549.78,622.40 549.94,622.40 550.11,622.40 550.27,622.40 550.43,622.40 550.59,622.40 550.76,622.40 550.92,622.40 551.08,622.40 551.24,622.40 551.41,622.40 551.57,622.40 551.73,622.40 551.90,622.40 552.06,622.40 552.22,622.40 552.38,622.40 552.55,622.40 552.71,622.40 552.87,622.40 553.03,622.40 553.20,622.40 553.36,622.40 553.52,622.40 553.69,622.40 553.85,622.40 554.01,622.40 554.17,622.40 554.34,622.40 554.50,622.40 554.66,622.40 554.82,622.40 554.99,622.40 555.15,622.40 555.31,622.40 555.47,622.40 555.64,622.40 555.80,622.40 555.96,622.40 556.13,622.40 556.29,622.40 556.45,622.40 556.61,622.40 556.78,622.40 556.94,622.40 557.10,622.40 557.26,622.40 557.43,622.40 557.59,622.40 557.75,622.40 557.91,622.40 558.08,622.40 558.24,622.40 558.40,622.40 558.57,622.40 558.73,622.40 558.89,622.40 559.05,622.40 559.22,622.40 559.38,622.40 559.54,622.40 559.70,622.40 559.87,622.40 560.03,622.40 560.19,622.40 560.36,622.40 560.52,622.40 560.68,622.40 560.84,622.40 561.01,622.40 561.17,622.40 561.33,622.40 561.49,622.40 561.66,622.40 561.82,622.40 561.98,622.40 562.14,622.40 562.31,622.40 562.47,622.40 562.63,622.40 562.80,622.40 562.96,622.40 563.12,622.40 563.28,622.40 563.45,622.40 563.61,622.40 563.77,622.40 563.93,622.40 564.10,622.40 564.26,622.40 564.42,622.40 564.58,622.40 564.75,622.40 564.91,622.40 565.07,622.40 565.24,622.40 565.40,622.40 565.56,622.40 565.72,622.40 565.89,622.38 566.05,622.34 566.21,622.25 566.37,622.12 566.54,621.92 566.70,621.67 566.86,621.34 567.02,620.95 567.19,620.50 567.35,619.98 567.51,619.39 567.68,618.76 567.84,618.07 568.00,617.34 568.16,616.57 568.33,615.78 568.49,614.96 568.65,614.14 568.81,613.32 568.98,612.51 569.14,611.72 569.30,610.95 569.47,610.22 569.63,609.54 569.79,608.90 569.95,608.32 570.12,607.80 570.28,607.35 570.44,606.96 570.60,606.64 570.77,606.38 570.93,606.19 571.09,606.06 571.25,605.97 571.42,605.93 571.58,605.91 571.74,605.91 571.91,605.91 572.07,605.91 572.23,605.91 572.39,605.91 572.56,605.91 572.72,605.91 572.88,605.91 573.04,605.91 573.21,605.91 573.37,605.91 573.53,605.91 573.69,605.91 573.86,605.91 574.02,605.91 574.18,605.91 574.35,605.91 574.51,605.91 574.67,605.91 574.83,605.91 575.00,605.91 575.16,605.91 575.32,605.91 575.48,605.91 575.65,605.91 575.81,605.91 575.97,605.91 576.13,605.91 576.30,605.91 576.46,605.91 576.62,605.91 576.79,605.91 576.95,605.91 577.11,605.91 577.27,605.91 577.44,605.91 577.60,605.91 577.76,605.91 577.92,605.91 578.09,605.91 578.25,605.91 578.41,605.91 578.58,605.91 578.74,605.91 578.90,605.91 579.06,605.91 579.23,605.91 579.39,605.91 579.55,605.91 579.71,605.91 579.88,605.91 580.04,605.91 580.20,605.91 580.36,605.91 580.53,605.91 580.69,605.91 580.85,605.91 581.02,605.91 581.18,605.91 581.34,605.91 581.50,605.91 581.67,605.91 581.83,605.91 581.99,605.91 582.15,605.91 582.32,605.91 582.48,605.91 582.64,605.91 582.80,605.91 582.97,605.91 583.13,605.91 583.29,605.91 583.46,605.91 583.62,605.91 583.78,605.91 583.94,605.91 584.11,605.91 584.27,605.92 584.43,605.92 584.59,605.93 584.76,605.95 584.92,605.97 585.08,605.99 585.24,606.03 585.41,606.07 585.57,606.12 585.73,606.18 585.90,606.24 586.06,606.32 586.22,606.41 586.38,606.51 586.55,606.62 586.71,606.75 586.87,606.88 587.03,607.03 587.20,607.19 587.36,607.37 587.52,607.55 587.69,607.75 587.85,607.95 588.01,608.17 588.17,608.40 588.34,608.63 588.50,608.88 588.66,609.14 588.82,609.41 588.99,609.68 589.15,609.97 589.31,610.26 589.47,610.56 589.64,610.86 589.80,611.17 589.96,611.49 590.13,611.81 590.29,612.14 590.45,612.47 590.61,612.81 590.78,613.16 590.94,613.50 591.10,613.86 591.26,614.22 591.43,614.59 591.59,614.97 591.75,615.35 591.91,615.74 592.08,616.14 592.24,616.54 592.40,616.94 592.57,617.37 592.73,617.82 592.89,618.25 593.05,618.66 593.22,619.06 593.38,619.43 593.54,619.79 593.70,620.14 593.87,620.48 594.03,620.79 594.19,621.07 594.36,621.31 594.52,621.53 594.68,621.72 594.84,621.87 595.01,621.99 595.17,622.09 595.33,622.18 595.49,622.26 595.66,622.31 595.82,622.34 595.98,622.37 596.14,622.38 596.31,622.39 596.47,622.40 596.63,622.40 596.80,622.40 596.96,622.40 597.12,622.40 597.28,622.40 597.45,622.40 597.61,622.40 597.77,622.40 597.93,622.40 598.10,622.40 598.26,622.40 598.42,622.40 598.58,622.40 598.75,622.40 598.91,622.40 599.07,622.40 599.24,622.40 599.40,622.40 599.56,622.40 599.72,622.40 599.89,622.40 600.05,622.40 600.21,622.40 600.37,622.40 600.54,622.40 600.70,622.40 600.86,622.40 601.02,622.40 601.19,622.40 601.35,622.40 601.51,622.40 601.68,622.40 601.84,622.40 602.00,622.40 602.16,622.40 602.33,622.40 602.49,622.40 602.65,622.40 602.81,622.40 602.98,622.40 603.14,622.40 603.30,622.40 603.47,622.40 603.63,622.40 603.79,622.40 603.95,622.40 604.12,622.40 604.28,622.40 604.44,622.40 604.60,622.40 604.77,622.40 604.93,622.40 605.09,622.40 605.25,622.40 605.42,622.40 605.58,622.40 605.74,622.40 605.91,622.40 606.07,622.40 606.23,622.40 606.39,622.40 606.56,622.40 606.72,622.40 606.88,622.40 607.04,622.40 607.21,622.40 607.37,622.40 607.53,622.40 607.69,622.40 607.86,622.40 608.02,622.40 608.18,622.40 608.35,622.40 608.51,622.40 608.67,622.40 608.83,622.40 609.00,622.40 609.16,622.40 609.32,622.40 609.48,622.40 609.65,622.40 609.81,622.40 609.97,622.40 610.13,622.40 610.30,622.40 610.46,622.40 610.62,622.40 610.79,622.40 610.95,622.40 611.11,622.40 611.27,622.40 611.44,622.40 611.60,622.40 611.76,622.40 611.92,622.40 612.09,622.40 612.25,622.40 612.41,622.40 612.58,622.40 612.74,622.40 612.90,622.40 613.06,622.40 613.23,622.40 613.39,622.40 613.55,622.40 613.71,622.40 613.88,622.40 614.04,622.40 614.20,622.40 614.36,622.40 614.53,622.40 614.69,622.40 614.85,622.40 615.02,622.40 615.18,622.40 615.34,622.40 615.50,622.40 615.67,622.40 615.83,622.40 615.99,622.40 616.15,622.40 616.32,622.40 616.48,622.40 616.64,622.40 616.80,622.40 616.97,622.40 617.13,622.40 617.29,622.40 617.46,622.40 617.62,622.40 617.78,622.40 617.94,622.40 618.11,622.40 618.27,622.40 618.43,622.40 618.59,622.40 618.76,622.40 618.92,622.40 619.08,622.40 619.25,622.40 619.41,622.40 619.57,622.40 619.73,622.40 619.90,622.40 620.06,622.40 620.22,622.40 620.38,622.40 620.55,622.40 620.71,622.40 620.87,622.40 621.03,622.40 621.20,622.40 621.36,622.40 621.52,622.40 621.69,622.40 621.85,622.40 622.01,622.40 622.17,622.40 622.34,622.40 622.50,622.40 622.66,622.40 622.82,622.40 622.99,622.40 623.15,622.40 623.31,622.40 623.47,622.40 623.64,622.40 623.80,622.40 623.96,622.40 624.13,622.40 624.29,622.40 624.45,622.40 624.61,622.40 624.78,622.40 624.94,622.40 625.10,622.40 625.26,622.40 625.43,622.40 625.59,622.40 625.75,622.40 625.91,622.40 626.08,622.40 626.24,622.40 626.40,622.40 626.57,622.40 626.73,622.40 626.89,622.40 627.05,622.40 627.22,622.40 627.38,622.40 627.54,622.40 627.70,622.40 627.87,622.40 628.03,622.40 628.19,622.40 628.36,622.40 628.52,622.40 628.68,622.40 628.84,622.40 629.01,622.40 629.17,622.40 629.33,622.40 629.49,622.40 629.66,622.40 629.82,622.40 629.98,622.40 630.14,622.40 630.31,622.40 630.47,622.40 630.63,622.40 630.80,622.40 630.96,622.40 631.12,622.40 631.28,622.40 631.45,622.40 631.61,622.40 631.77,622.40 631.93,622.40 632.10,622.40 632.26,622.40 632.42,622.40 632.58,622.40 632.75,622.40 632.91,622.40 633.07,622.40 633.24,622.40 633.40,622.40 633.56,622.40 633.72,622.40 633.89,622.40 634.05,622.40 634.21,622.40 634.37,622.40 634.54,622.40 634.70,622.40 634.86,622.40 635.02,622.40 635.19,622.40 635.35,622.40 635.51,622.40 635.68,622.40 635.84,622.40 636.00,622.40 636.16,622.40 636.33,622.40 636.49,622.40 636.65,622.40 636.81,622.40 636.98,622.40 637.14,622.40 637.30,622.40 637.47,622.40 637.63,622.40 637.79,622.40 637.95,622.40 638.12,622.40 638.28,622.40 638.44,622.40 638.60,622.40 638.77,622.40 638.93,622.40 639.09,622.40 639.25,622.40 639.42,622.40 639.58,622.40 639.74,622.40 639.91,622.40 640.07,622.40 640.23,622.40 640.39,622.40 640.56,622.40 640.72,622.40 640.88,622.40 641.04,622.40 641.21,622.40 641.37,622.40 641.53,622.40 641.69,622.40 641.86,622.40 642.02,622.40 642.18,622.40 642.35,622.40 642.51,622.40 642.67,622.40 642.83,622.40 643.00,622.40 643.16,622.40 643.32,622.40 643.48,622.40 643.65,622.40 643.81,622.40 643.97,622.40 644.13,622.40 644.30,622.40 644.46,622.40 644.62,622.40 644.79,622.40 644.95,622.40 645.11,622.40 645.27,622.40 645.44,622.40 645.60,622.40 645.76,622.40 645.92,622.40 646.09,622.40 646.25,622.40 646.41,622.40 646.58,622.40 646.74,622.40 646.90,622.40 647.06,622.40 647.23,622.40 647.39,622.40 647.55,622.40 647.71,622.40 647.88,622.40 648.04,622.40 648.20,622.40 648.36,622.40 648.53,622.40 648.69,622.40 648.85,622.40 649.02,622.40 649.18,622.40 649.34,622.40 649.50,622.40 649.67,622.40 649.83,622.40 649.99,622.40 650.15,622.40 650.32,622.40 650.48,622.40 650.64,622.40 650.80,622.40 650.97,622.40 651.13,622.40 651.29,622.40 651.46,622.40 651.62,622.40 651.78,622.40 651.94,622.40 652.11,622.40 652.27,622.40 652.43,622.40 652.59,622.40 652.76,622.40 652.92,622.40 653.08,622.40 653.25,622.40 653.41,622.40 653.57,622.40 653.73,622.40 653.90,622.40 654.06,622.40 654.22,622.40 654.38,622.40 654.55,622.40 654.71,622.40 654.87,622.40 655.03,622.40 655.20,622.40 655.36,622.40 655.52,622.40 655.69,622.40 655.85,622.40 656.01,622.40 656.17,622.40 656.34,622.40 656.50,622.40 656.66,622.40 656.82,622.40 656.99,622.40 657.15,622.40 657.31,622.40 657.47,622.40 657.64,622.40 657.80,622.40 657.96,622.40 658.13,622.40 658.29,622.40 658.45,622.40 658.61,622.40 658.78,622.40 658.94,622.40 659.10,622.40 659.26,622.40 659.43,622.40 659.59,622.40 659.75,622.40 659.91,622.40 660.08,622.40 660.24,622.40 660.40,622.40 660.57,622.40 660.73,622.40 660.89,622.40 661.05,622.40 661.22,622.40 661.38,622.40 661.54,622.40 661.70,622.40 661.87,622.40 662.03,622.40 662.19,622.40 662.36,622.40 662.52,622.40 662.68,622.40 662.84,622.40 663.01,622.40 663.17,622.40 663.33,622.40 663.49,622.40 663.66,622.40 663.82,622.40 663.98,622.40 664.14,622.40 664.31,622.40 664.47,622.40 664.63,622.40 664.80,622.40 664.96,622.40 665.12,622.40 665.28,622.40 665.45,622.40 665.61,622.40 665.77,622.40 665.93,622.40 666.10,622.40 666.26,622.40 666.42,622.40 666.58,622.40 666.75,622.40 666.91,622.40 667.07,622.40 667.24,622.40 667.40,622.40 667.56,622.40 667.72,622.40 667.89,622.40 668.05,622.40 668.21,622.40 668.37,622.40 668.54,622.40 668.70,622.40 668.86,622.40 669.02,622.40 669.19,622.40 669.35,622.40 669.51,622.40 669.68,622.40 669.84,622.40 670.00,622.40 670.16,622.40 670.33,622.40 670.49,622.40 670.65,622.40 670.81,622.40 670.98,622.40 671.14,622.40 671.30,622.40 671.47,622.40 671.63,622.40 671.79,622.40 671.95,622.40 672.12,622.40 672.28,622.40 672.44,622.40 672.60,622.40 672.77,622.40 672.93,622.40 673.09,622.40 673.25,622.40 673.42,622.40 673.58,622.40 673.74,622.40 673.91,622.40 674.07,622.40 674.23,622.40 674.39,622.40 674.56,622.40 674.72,622.40 674.88,622.40 675.04,622.40 675.21,622.40 675.37,622.40 675.53,622.40 675.69,622.40 675.86,622.40 676.02,622.40 676.18,622.40 676.35,622.40 676.51,622.40 676.67,622.40 676.83,622.40 677.00,622.40 677.16,622.40 677.32,622.40 677.48,622.40 677.65,622.40 677.81,622.40 677.97,622.40 678.13,622.40 678.30,622.40 678.46,622.40 678.62,622.40" fill="none" stroke="#dc4a5e" stroke-width="1.3"/>
<polyline points="385.80,622.40 385.96,622.40 386.13,622.40 386.29,622.40 386.45,622.40 386.61,622.40 386.78,622.40 386.94,622.40 387.10,622.40 387.26,622.40 387.43,622.40 387.59,622.40 387.75,622.40 387.91,622.40 388.08,622.40 388.24,622.40 388.40,622.40 388.57,622.40 388.73,622.40 388.89,622.40 389.05,622.40 389.22,622.40 389.38,622.40 389.54,622.40 389.70,622.40 389.87,622.40 390.03,622.40 390.19,622.40 390.36,622.40 390.52,622.40 390.68,622.40 390.84,622.40 391.01,622.40 391.17,622.40 391.33,622.40 391.49,622.40 391.66,622.40 391.82,622.40 391.98,622.40 392.14,622.40 392.31,622.40 392.47,622.40 392.63,622.40 392.80,622.40 392.96,622.40 393.12,622.40 393.28,622.40 393.45,622.40 393.61,622.40 393.77,622.40 393.93,622.40 394.10,622.40 394.26,622.40 394.42,622.40 394.58,622.40 394.75,622.40 394.91,622.40 395.07,622.40 395.24,622.40 395.40,622.40 395.56,622.40 395.72,622.40 395.89,622.40 396.05,622.40 396.21,622.40 396.37,622.40 396.54,622.40 396.70,622.40 396.86,622.40 397.02,622.40 397.19,622.40 397.35,622.40 397.51,622.40 397.68,622.40 397.84,622.40 398.00,622.40 398.16,622.40 398.33,622.40 398.49,622.40 398.65,622.40 398.81,622.40 398.98,622.40 399.14,622.40 399.30,622.40 399.47,622.40 399.63,622.40 399.79,622.40 399.95,622.40 400.12,622.40 400.28,622.40 400.44,622.40 400.60,622.40 400.77,622.40 400.93,622.40 401.09,622.40 401.25,622.40 401.42,622.40 401.58,622.40 401.74,622.40 401.91,622.40 402.07,622.40 402.23,622.40 402.39,622.40 402.56,622.40 402.72,622.40 402.88,622.40 403.04,622.40 403.21,622.40 403.37,622.40 403.53,622.40 403.69,622.40 403.86,622.40 404.02,622.40 404.18,622.40 404.35,622.40 404.51,622.40 404.67,622.40 404.83,622.40 405.00,622.40 405.16,622.40 405.32,622.40 405.48,622.40 405.65,622.40 405.81,622.40 405.97,622.40 406.13,622.40 406.30,622.40 406.46,622.40 406.62,622.40 406.79,622.40 406.95,622.40 407.11,622.40 407.27,622.40 407.44,622.40 407.60,622.40 407.76,622.40 407.92,622.40 408.09,622.40 408.25,622.40 408.41,622.40 408.58,622.40 408.74,622.40 408.90,622.40 409.06,622.40 409.23,622.40 409.39,622.40 409.55,622.40 409.71,622.40 409.88,622.40 410.04,622.40 410.20,622.40 410.36,622.40 410.53,622.40 410.69,622.40 410.85,622.40 411.02,622.40 411.18,622.40 411.34,622.40 411.50,622.40 411.67,622.40 411.83,622.40 411.99,622.40 412.15,622.40 412.32,622.40 412.48,622.40 412.64,622.40 412.80,622.40 412.97,622.40 413.13,622.40 413.29,622.40 413.46,622.40 413.62,622.40 413.78,622.40 413.94,622.40 414.11,622.40 414.27,622.40 414.43,622.40 414.59,622.40 414.76,622.40 414.92,622.40 415.08,622.40 415.24,622.40 415.41,622.40 415.57,622.40 415.73,622.40 415.90,622.40 416.06,622.40 416.22,622.40 416.38,622.40 416.55,622.40 416.71,622.40 416.87,622.40 417.03,622.40 417.20,622.40 417.36,622.40 417.52,622.40 417.69,622.40 417.85,622.40 418.01,622.40 418.17,622.40 418.34,622.40 418.50,622.40 418.66,622.40 418.82,622.40 418.99,622.40 419.15,622.40 419.31,622.40 419.47,622.40 419.64,622.40 419.80,622.40 419.96,622.40 420.13,622.40 420.29,622.40 420.45,622.40 420.61,622.40 420.78,622.40 420.94,622.40 421.10,622.40 421.26,622.40 421.43,622.40 421.59,622.40 421.75,622.40 421.91,622.40 422.08,622.40 422.24,622.40 422.40,622.40 422.57,622.40 422.73,622.40 422.89,622.40 423.05,622.40 423.22,622.40 423.38,622.40 423.54,622.40 423.70,622.40 423.87,622.40 424.03,622.40 424.19,622.40 424.36,622.40 424.52,622.40 424.68,622.40 424.84,622.40 425.01,622.40 425.17,622.40 425.33,622.40 425.49,622.40 425.66,622.40 425.82,622.40 425.98,622.40 426.14,622.40 426.31,622.40 426.47,622.40 426.63,622.40 426.80,622.40 426.96,622.40 427.12,622.40 427.28,622.40 427.45,622.40 427.61,622.40 427.77,622.40 427.93,622.40 428.10,622.40 428.26,622.40 428.42,622.40 428.58,622.40 428.75,622.40 428.91,622.40 429.07,622.40 429.24,622.40 429.40,622.40 429.56,622.40 429.72,622.40 429.89,622.40 430.05,622.40 430.21,622.40 430.37,622.40 430.54,622.40 430.70,622.40 430.86,622.40 431.02,622.40 431.19,622.40 431.35,622.40 431.51,622.40 431.68,622.40 431.84,622.40 432.00,622.40 432.16,622.40 432.33,622.40 432.49,622.40 432.65,622.40 432.81,622.40 432.98,622.40 433.14,622.40 433.30,622.40 433.47,622.40 433.63,622.40 433.79,622.40 433.95,622.40 434.12,622.40 434.28,622.40 434.44,622.40 434.60,622.40 434.77,622.40 434.93,622.40 435.09,622.40 435.25,622.40 435.42,622.40 435.58,622.40 435.74,622.40 435.91,622.40 436.07,622.40 436.23,622.40 436.39,622.40 436.56,622.40 436.72,622.40 436.88,622.40 437.04,622.40 437.21,622.40 437.37,622.40 437.53,622.40 437.69,622.40 437.86,622.40 438.02,622.40 438.18,622.40 438.35,622.40 438.51,622.40 438.67,622.40 438.83,622.40 439.00,622.40 439.16,622.40 439.32,622.40 439.48,622.40 439.65,622.40 439.81,622.40 439.97,622.40 440.13,622.40 440.30,622.40 440.46,622.40 440.62,622.40 440.79,622.40 440.95,622.40 441.11,622.40 441.27,622.40 441.44,622.40 441.60,622.40 441.76,622.40 441.92,622.40 442.09,622.40 442.25,622.40 442.41,622.40 442.58,622.40 442.74,622.40 442.90,622.40 443.06,622.40 443.23,622.40 443.39,622.40 443.55,622.40 443.71,622.40 443.88,622.40 444.04,622.40 444.20,622.40 444.36,622.40 444.53,622.40 444.69,622.40 444.85,622.40 445.02,622.40 445.18,622.40 445.34,622.40 445.50,622.40 445.67,622.40 445.83,622.40 445.99,622.40 446.15,622.40 446.32,622.40 446.48,622.40 446.64,622.40 446.80,622.40 446.97,622.40 447.13,622.40 447.29,622.40 447.46,622.40 447.62,622.40 447.78,622.40 447.94,622.40 448.11,622.40 448.27,622.40 448.43,622.40 448.59,622.40 448.76,622.40 448.92,622.40 449.08,622.40 449.24,622.40 449.41,622.40 449.57,622.40 449.73,622.40 449.90,622.40 450.06,622.40 450.22,622.40 450.38,622.40 450.55,622.40 450.71,622.40 450.87,622.40 451.03,622.40 451.20,622.40 451.36,622.40 451.52,622.40 451.69,622.40 451.85,622.40 452.01,622.40 452.17,622.40 452.34,622.40 452.50,622.40 452.66,622.40 452.82,622.40 452.99,622.40 453.15,622.40 453.31,622.40 453.47,622.40 453.64,622.40 453.80,622.40 453.96,622.40 454.13,622.40 454.29,622.40 454.45,622.40 454.61,622.40 454.78,622.40 454.94,622.40 455.10,622.40 455.26,622.40 455.43,622.40 455.59,622.40 455.75,622.40 455.91,622.40 456.08,622.40 456.24,622.40 456.40,622.40 456.57,622.40 456.73,622.40 456.89,622.40 457.05,622.40 457.22,622.40 457.38,622.40 457.54,622.40 457.70,622.40 457.87,622.40 458.03,622.40 458.19,622.40 458.36,622.40 458.52,622.40 458.68,622.40 458.84,622.40 459.01,622.40 459.17,622.40 459.33,622.40 459.49,622.40 459.66,622.40 459.82,622.40 459.98,622.40 460.14,622.40 460.31,622.40 460.47,622.40 460.63,622.40 460.80,622.40 460.96,622.40 461.12,622.40 461.28,622.40 461.45,622.40 461.61,622.40 461.77,622.40 461.93,622.40 462.10,622.40 462.26,622.40 462.42,622.40 462.58,622.40 462.75,622.40 462.91,622.40 463.07,622.40 463.24,622.40 463.40,622.40 463.56,622.40 463.72,622.40 463.89,622.40 464.05,622.40 464.21,622.40 464.37,622.40 464.54,622.40 464.70,622.40 464.86,622.40 465.02,622.40 465.19,622.40 465.35,622.40 465.51,622.40 465.68,622.40 465.84,622.40 466.00,622.40 466.16,622.40 466.33,622.40 466.49,622.40 466.65,622.40 466.81,622.40 466.98,622.40 467.14,622.40 467.30,622.40 467.47,622.40 467.63,622.40 467.79,622.40 467.95,622.40 468.12,622.39 468.28,622.38 468.44,622.37 468.60,622.34 468.77,622.31 468.93,622.26 469.09,622.18 469.25,622.09 469.42,621.99 469.58,621.87 469.74,621.72 469.91,621.53 470.07,621.31 470.23,621.07 470.39,620.79 470.56,620.48 470.72,620.14 470.88,619.79 471.04,619.43 471.21,619.06 471.37,618.66 471.53,618.25 471.69,617.82 471.86,617.37 472.02,616.94 472.18,616.54 472.35,616.14 472.51,615.74 472.67,615.35 472.83,614.97 473.00,614.59 473.16,614.22 473.32,613.86 473.48,613.50 473.65,613.16 473.81,612.81 473.97,612.47 474.13,612.14 474.30,611.81 474.46,611.49 474.62,611.17 474.79,610.86 474.95,610.56 475.11,610.26 475.27,609.97 475.44,609.68 475.60,609.41 475.76,609.14 475.92,608.88 476.09,608.63 476.25,608.40 476.41,608.17 476.58,607.95 476.74,607.75 476.90,607.55 477.06,607.37 477.23,607.19 477.39,607.03 477.55,606.88 477.71,606.75 477.88,606.62 478.04,606.51 478.20,606.41 478.36,606.32 478.53,606.24 478.69,606.18 478.85,606.12 479.02,606.07 479.18,606.03 479.34,605.99 479.50,605.97 479.67,605.95 479.83,605.93 479.99,605.92 480.15,605.92 480.32,605.91 480.48,605.91 480.64,605.91 480.80,605.91 480.97,605.91 481.13,605.91 481.29,605.91 481.46,605.91 481.62,605.91 481.78,605.91 481.94,605.91 482.11,605.91 482.27,605.91 482.43,605.91 482.59,605.91 482.76,605.91 482.92,605.91 483.08,605.91 483.24,605.91 483.41,605.91 483.57,605.91 483.73,605.91 483.90,605.91 484.06,605.91 484.22,605.91 484.38,605.91 484.55,605.91 484.71,605.91 484.87,605.91 485.03,605.91 485.20,605.91 485.36,605.91 485.52,605.91 485.69,605.91 485.85,605.91 486.01,605.91 486.17,605.91 486.34,605.91 486.50,605.91 486.66,605.91 486.82,605.91 486.99,605.91 487.15,605.91 487.31,605.91 487.47,605.91 487.64,605.91 487.80,605.91 487.96,605.91 488.13,605.91 488.29,605.91 488.45,605.91 488.61,605.91 488.78,605.91 488.94,605.91 489.10,605.91 489.26,605.91 489.43,605.91 489.59,605.91 489.75,605.91 489.91,605.91 490.08,605.91 490.24,605.91 490.40,605.91 490.57,605.91 490.73,605.91 490.89,605.91 491.05,605.91 491.22,605.91 491.38,605.91 491.54,605.91 491.70,605.91 491.87,605.91 492.03,605.91 492.19,605.91 492.36,605.91 492.52,605.91 492.68,605.91 492.84,605.91 493.01,605.93 493.17,605.97 493.33,606.06 493.49,606.19 493.66,606.38 493.82,606.64 493.98,606.96 494.14,607.35 494.31,607.80 494.47,608.32 494.63,608.90 494.80,609.54 494.96,610.22 495.12,610.95 495.28,611.72 495.45,612.51 495.61,613.32 495.77,614.14 495.93,614.96 496.10,615.78 496.26,616.57 496.42,617.34 496.58,618.07 496.75,618.76 496.91,619.39 497.07,619.98 497.24,620.50 497.40,620.95 497.56,621.34 497.72,621.67 497.89,621.92 498.05,622.12 498.21,622.25 498.37,622.34 498.54,622.38 498.70,622.40 498.86,622.40 499.02,622.40 499.19,622.40 499.35,622.40 499.51,622.40 499.68,622.40 499.84,622.40 500.00,622.40 500.16,622.40 500.33,622.40 500.49,622.40 500.65,622.40 500.81,622.40 500.98,622.40 501.14,622.40 501.30,622.40 501.47,622.40 501.63,622.40 501.79,622.40 501.95,622.40 502.12,622.40 502.28,622.40 502.44,622.40 502.60,622.40 502.77,622.40 502.93,622.40 503.09,622.40 503.25,622.40 503.42,622.40 503.58,622.40 503.74,622.40 503.91,622.40 504.07,622.40 504.23,622.40 504.39,622.40 504.56,622.40 504.72,622.40 504.88,622.40 505.04,622.40 505.21,622.40 505.37,622.40 505.53,622.40 505.69,622.40 505.86,622.40 506.02,622.40 506.18,622.40 506.35,622.40 506.51,622.40 506.67,622.40 506.83,622.40 507.00,622.40 507.16,622.40 507.32,622.40 507.48,622.40 507.65,622.40 507.81,622.40 507.97,622.40 508.13,622.40 508.30,622.40 508.46,622.40 508.62,622.40 508.79,622.40 508.95,622.40 509.11,622.40 509.27,622.40 509.44,622.40 509.60,622.40 509.76,622.40 509.92,622.40 510.09,622.40 510.25,622.40 510.41,622.40 510.58,622.40 510.74,622.40 510.90,622.40 511.06,622.40 511.23,622.40 511.39,622.40 511.55,622.40 511.71,622.40 511.88,622.40 512.04,622.40 512.20,622.40 512.36,622.40 512.53,622.40 512.69,622.40 512.85,622.40 513.02,622.40 513.18,622.40 513.34,622.40 513.50,622.40 513.67,622.40 513.83,622.40 513.99,622.40 514.15,622.40 514.32,622.40 514.48,622.40 514.64,622.40 514.80,622.40 514.97,622.40 515.13,622.40 515.29,622.40 515.46,622.40 515.62,622.40 515.78,622.40 515.94,622.40 516.11,622.40 516.27,622.40 516.43,622.40 516.59,622.40 516.76,622.40 516.92,622.40 517.08,622.40 517.24,622.40 517.41,622.40 517.57,622.40 517.73,622.40 517.90,622.40 518.06,622.40 518.22,622.40 518.38,622.40 518.55,622.40 518.71,622.40 518.87,622.40 519.03,622.40 519.20,622.40 519.36,622.40 519.52,622.40 519.69,622.40 519.85,622.40 520.01,622.40 520.17,622.40 520.34,622.40 520.50,622.40 520.66,622.40 520.82,622.40 520.99,622.40 521.15,622.40 521.31,622.40 521.47,622.40 521.64,622.40 521.80,622.40 521.96,622.40 522.13,622.40 522.29,622.40 522.45,622.40 522.61,622.40 522.78,622.40 522.94,622.40 523.10,622.40 523.26,622.40 523.43,622.40 523.59,622.40 523.75,622.40 523.91,622.40 524.08,622.40 524.24,622.40 524.40,622.40 524.57,622.40 524.73,622.40 524.89,622.40 525.05,622.40 525.22,622.40 525.38,622.40 525.54,622.40 525.70,622.40 525.87,622.40 526.03,622.40 526.19,622.40 526.36,622.40 526.52,622.40 526.68,622.40 526.84,622.40 527.01,622.40 527.17,622.40 527.33,622.40 527.49,622.40 527.66,622.40 527.82,622.40 527.98,622.40 528.14,622.40 528.31,622.40 528.47,622.40 528.63,622.40 528.80,622.40 528.96,622.40 529.12,622.40 529.28,622.40 529.45,622.40 529.61,622.40 529.77,622.40 529.93,622.40 530.10,622.40 530.26,622.40 530.42,622.40 530.58,622.40 530.75,622.40 530.91,622.40 531.07,622.40 531.24,622.40 531.40,622.40 531.56,622.40 531.72,622.40 531.89,622.40 532.05,622.40 532.21,622.40 532.37,622.40 532.54,622.40 532.70,622.40 532.86,622.40 533.02,622.40 533.19,622.40 533.35,622.40 533.51,622.40 533.68,622.40 533.84,622.40 534.00,622.40 534.16,622.40 534.33,622.40 534.49,622.40 534.65,622.40 534.81,622.40 534.98,622.40 535.14,622.40 535.30,622.40 535.47,622.40 535.63,622.40 535.79,622.40 535.95,622.40 536.12,622.40 536.28,622.40 536.44,622.40 536.60,622.40 536.77,622.40 536.93,622.40 537.09,622.40 537.25,622.40 537.42,622.40 537.58,622.40 537.74,622.40 537.91,622.40 538.07,622.40 538.23,622.40 538.39,622.40 538.56,622.40 538.72,622.40 538.88,622.40 539.04,622.40 539.21,622.40 539.37,622.40 539.53,622.40 539.69,622.40 539.86,622.40 540.02,622.40 540.18,622.40 540.35,622.40 540.51,622.40 540.67,622.40 540.83,622.40 541.00,622.40 541.16,622.40 541.32,622.40 541.48,622.40 541.65,622.40 541.81,622.40 541.97,622.40 542.13,622.40 542.30,622.40 542.46,622.40 542.62,622.40 542.79,622.40 542.95,622.40 543.11,622.40 543.27,622.40 543.44,622.40 543.60,622.40 543.76,622.40 543.92,622.40 544.09,622.40 544.25,622.40 544.41,622.40 544.58,622.40 544.74,622.40 544.90,622.40 545.06,622.40 545.23,622.40 545.39,622.40 545.55,622.40 545.71,622.40 545.88,622.40 546.04,622.40 546.20,622.40 546.36,622.40 546.53,622.40 546.69,622.40 546.85,622.40 547.02,622.40 547.18,622.40 547.34,622.40 547.50,622.40 547.67,622.40 547.83,622.40 547.99,622.40 548.15,622.40 548.32,622.40 548.48,622.40 548.64,622.40 548.80,622.40 548.97,622.40 549.13,622.40 549.29,622.40 549.46,622.40 549.62,622.40 549.78,622.40 549.94,622.40 550.11,622.40 550.27,622.40 550.43,622.40 550.59,622.40 550.76,622.40 550.92,622.40 551.08,622.40 551.24,622.40 551.41,622.40 551.57,622.40 551.73,622.40 551.90,622.40 552.06,622.40 552.22,622.40 552.38,622.40 552.55,622.40 552.71,622.40 552.87,622.40 553.03,622.40 553.20,622.40 553.36,622.40 553.52,622.40 553.69,622.40 553.85,622.40 554.01,622.40 554.17,622.40 554.34,622.40 554.50,622.40 554.66,622.40 554.82,622.40 554.99,622.40 555.15,622.40 555.31,622.40 555.47,622.40 555.64,622.40 555.80,622.40 555.96,622.40 556.13,622.40 556.29,622.40 556.45,622.40 556.61,622.40 556.78,622.40 556.94,622.40 557.10,622.40 557.26,622.40 557.43,622.40 557.59,622.40 557.75,622.40 557.91,622.40 558.08,622.40 558.24,622.40 558.40,622.40 558.57,622.40 558.73,622.40 558.89,622.40 559.05,622.40 559.22,622.40 559.38,622.40 559.54,622.40 559.70,622.40 559.87,622.40 560.03,622.40 560.19,622.40 560.36,622.40 560.52,622.40 560.68,622.40 560.84,622.40 561.01,622.40 561.17,622.40 561.33,622.40 561.49,622.40 561.66,622.40 561.82,622.40 561.98,622.40 562.14,622.40 562.31,622.40 562.47,622.40 562.63,622.40 562.80,622.40 562.96,622.40 563.12,622.40 563.28,622.40 563.45,622.40 563.61,622.40 563.77,622.40 563.93,622.40 564.10,622.40 564.26,622.40 564.42,622.40 564.58,622.40 564.75,622.40 564.91,622.40 565.07,622.40 565.24,622.40 565.40,622.40 565.56,622.40 565.72,622.40 565.89,622.38 566.05,622.34 566.21,622.25 566.37,622.12 566.54,621.92 566.70,621.67 566.86,621.34 567.02,620.95 567.19,620.50 567.35,619.98 567.51,619.39 567.68,618.76 567.84,618.07 568.00,617.34 568.16,616.57 568.33,615.78 568.49,614.96 568.65,614.14 568.81,613.32 568.98,612.51 569.14,611.72 569.30,610.95 569.47,610.22 569.63,609.54 569.79,608.90 569.95,608.32 570.12,607.80 570.28,607.35 570.44,606.96 570.60,606.64 570.77,606.38 570.93,606.19 571.09,606.06 571.25,605.97 571.42,605.93 571.58,605.91 571.74,605.91 571.91,605.91 572.07,605.91 572.23,605.91 572.39,605.91 572.56,605.91 572.72,605.91 572.88,605.91 573.04,605.91 573.21,605.91 573.37,605.91 573.53,605.91 573.69,605.91 573.86,605.91 574.02,605.91 574.18,605.91 574.35,605.91 574.51,605.91 574.67,605.91 574.83,605.91 575.00,605.91 575.16,605.91 575.32,605.91 575.48,605.91 575.65,605.91 575.81,605.91 575.97,605.91 576.13,605.91 576.30,605.91 576.46,605.91 576.62,605.91 576.79,605.91 576.95,605.91 577.11,605.91 577.27,605.91 577.44,605.91 577.60,605.91 577.76,605.91 577.92,605.91 578.09,605.91 578.25,605.91 578.41,605.91 578.58,605.91 578.74,605.91 578.90,605.91 579.06,605.91 579.23,605.91 579.39,605.91 579.55,605.91 579.71,605.91 579.88,605.91 580.04,605.91 580.20,605.91 580.36,605.91 580.53,605.91 580.69,605.91 580.85,605.91 581.02,605.91 581.18,605.91 581.34,605.91 581.50,605.91 581.67,605.91 581.83,605.91 581.99,605.91 582.15,605.91 582.32,605.91 582.48,605.91 582.64,605.91 582.80,605.91 582.97,605.91 583.13,605.91 583.29,605.91 583.46,605.91 583.62,605.91 583.78,605.91 583.94,605.91 584.11,605.91 584.27,605.92 584.43,605.92 584.59,605.93 584.76,605.95 584.92,605.97 585.08,605.99 585.24,606.03 585.41,606.07 585.57,606.12 585.73,606.18 585.90,606.24 586.06,606.32 586.22,606.41 586.38,606.51 586.55,606.62 586.71,606.75 586.87,606.88 587.03,607.03 587.20,607.19 587.36,607.37 587.52,607.55 587.69,607.75 587.85,607.95 588.01,608.17 588.17,608.40 588.34,608.63 588.50,608.88 588.66,609.14 588.82,609.41 588.99,609.68 589.15,609.97 589.31,610.26 589.47,610.56 589.64,610.86 589.80,611.17 589.96,611.49 590.13,611.81 590.29,612.14 590.45,612.47 590.61,612.81 590.78,613.16 590.94,613.50 591.10,613.86 591.26,614.22 591.43,614.59 591.59,614.97 591.75,615.35 591.91,615.74 592.08,616.14 592.24,616.54 592.40,616.94 592.57,617.37 592.73,617.82 592.89,618.25 593.05,618.66 593.22,619.06 593.38,619.43 593.54,619.79 593.70,620.14 593.87,620.48 594.03,620.79 594.19,621.07 594.36,621.31 594.52,621.53 594.68,621.72 594.84,621.87 595.01,621.99 595.17,622.09 595.33,622.18 595.49,622.26 595.66,622.31 595.82,622.34 595.98,622.37 596.14,622.38 596.31,622.39 596.47,622.40 596.63,622.40 596.80,622.40 596.96,622.40 597.12,622.40 597.28,622.40 597.45,622.40 597.61,622.40 597.77,622.40 597.93,622.40 598.10,622.40 598.26,622.40 598.42,622.40 598.58,622.40 598.75,622.40 598.91,622.40 599.07,622.40 599.24,622.40 599.40,622.40 599.56,622.40 599.72,622.40 599.89,622.40 600.05,622.40 600.21,622.40 600.37,622.40 600.54,622.40 600.70,622.40 600.86,622.40 601.02,622.40 601.19,622.40 601.35,622.40 601.51,622.40 601.68,622.40 601.84,622.40 602.00,622.40 602.16,622.40 602.33,622.40 602.49,622.40 602.65,622.40 602.81,622.40 602.98,622.40 603.14,622.40 603.30,622.40 603.47,622.40 603.63,622.40 603.79,622.40 603.95,622.40 604.12,622.40 604.28,622.40 604.44,622.40 604.60,622.40 604.77,622.40 604.93,622.40 605.09,622.40 605.25,622.40 605.42,622.40 605.58,622.40 605.74,622.40 605.91,622.40 606.07,622.40 606.23,622.40 606.39,622.40 606.56,622.40 606.72,622.40 606.88,622.40 607.04,622.40 607.21,622.40 607.37,622.40 607.53,622.40 607.69,622.40 607.86,622.40 608.02,622.40 608.18,622.40 608.35,622.40 608.51,622.40 608.67,622.40 608.83,622.40 609.00,622.40 609.16,622.40 609.32,622.40 609.48,622.40 609.65,622.40 609.81,622.40 609.97,622.40 610.13,622.40 610.30,622.40 610.46,622.40 610.62,622.40 610.79,622.40 610.95,622.40 611.11,622.40 611.27,622.40 611.44,622.40 611.60,622.40 611.76,622.40 611.92,622.40 612.09,622.40 612.25,622.40 612.41,622.40 612.58,622.40 612.74,622.40 612.90,622.40 613.06,622.40 613.23,622.40 613.39,622.40 613.55,622.40 613.71,622.40 613.88,622.40 614.04,622.40 614.20,622.40 614.36,622.40 614.53,622.40 614.69,622.40 614.85,622.40 615.02,622.40 615.18,622.40 615.34,622.40 615.50,622.40 615.67,622.40 615.83,622.40 615.99,622.40 616.15,622.40 616.32,622.40 616.48,622.40 616.64,622.40 616.80,622.40 616.97,622.40 617.13,622.40 617.29,622.40 617.46,622.40 617.62,622.40 617.78,622.40 617.94,622.40 618.11,622.40 618.27,622.40 618.43,622.40 618.59,622.40 618.76,622.40 618.92,622.40 619.08,622.40 619.25,622.40 619.41,622.40 619.57,622.40 619.73,622.40 619.90,622.40 620.06,622.40 620.22,622.40 620.38,622.40 620.55,622.40 620.71,622.40 620.87,622.40 621.03,622.40 621.20,622.40 621.36,622.40 621.52,622.40 621.69,622.40 621.85,622.40 622.01,622.40 622.17,622.40 622.34,622.40 622.50,622.40 622.66,622.40 622.82,622.40 622.99,622.40 623.15,622.40 623.31,622.40 623.47,622.40 623.64,622.40 623.80,622.40 623.96,622.40 624.13,622.40 624.29,622.40 624.45,622.40 624.61,622.40 624.78,622.40 624.94,622.40 625.10,622.40 625.26,622.40 625.43,622.40 625.59,622.40 625.75,622.40 625.91,622.40 626.08,622.40 626.24,622.40 626.40,622.40 626.57,622.40 626.73,622.40 626.89,622.40 627.05,622.40 627.22,622.40 627.38,622.40 627.54,622.40 627.70,622.40 627.87,622.40 628.03,622.40 628.19,622.40 628.36,622.40 628.52,622.40 628.68,622.40 628.84,622.40 629.01,622.40 629.17,622.40 629.33,622.40 629.49,622.40 629.66,622.40 629.82,622.40 629.98,622.40 630.14,622.40 630.31,622.40 630.47,622.40 630.63,622.40 630.80,622.40 630.96,622.40 631.12,622.40 631.28,622.40 631.45,622.40 631.61,622.40 631.77,622.40 631.93,622.40 632.10,622.40 632.26,622.40 632.42,622.40 632.58,622.40 632.75,622.40 632.91,622.40 633.07,622.40 633.24,622.40 633.40,622.40 633.56,622.40 633.72,622.40 633.89,622.40 634.05,622.40 634.21,622.40 634.37,622.40 634.54,622.40 634.70,622.40 634.86,622.40 635.02,622.40 635.19,622.40 635.35,622.40 635.51,622.40 635.68,622.40 635.84,622.40 636.00,622.40 636.16,622.40 636.33,622.40 636.49,622.40 636.65,622.40 636.81,622.40 636.98,622.40 637.14,622.40 637.30,622.40 637.47,622.40 637.63,622.40 637.79,622.40 637.95,622.40 638.12,622.40 638.28,622.40 638.44,622.40 638.60,622.40 638.77,622.40 638.93,622.40 639.09,622.40 639.25,622.40 639.42,622.40 639.58,622.40 639.74,622.40 639.91,622.40 640.07,622.40 640.23,622.40 640.39,622.40 640.56,622.40 640.72,622.40 640.88,622.40 641.04,622.40 641.21,622.40 641.37,622.40 641.53,622.40 641.69,622.40 641.86,622.40 642.02,622.40 642.18,622.40 642.35,622.40 642.51,622.40 642.67,622.40 642.83,622.40 643.00,622.40 643.16,622.40 643.32,622.40 643.48,622.40 643.65,622.40 643.81,622.40 643.97,622.40 644.13,622.40 644.30,622.40 644.46,622.40 644.62,622.40 644.79,622.40 644.95,622.40 645.11,622.40 645.27,622.40 645.44,622.40 645.60,622.40 645.76,622.40 645.92,622.40 646.09,622.40 646.25,622.40 646.41,622.40 646.58,622.40 646.74,622.40 646.90,622.40 647.06,622.40 647.23,622.40 647.39,622.40 647.55,622.40 647.71,622.40 647.88,622.40 648.04,622.40 648.20,622.40 648.36,622.40 648.53,622.40 648.69,622.40 648.85,622.40 649.02,622.40 649.18,622.40 649.34,622.40 649.50,622.40 649.67,622.40 649.83,622.40 649.99,622.40 650.15,622.40 650.32,622.40 650.48,622.40 650.64,622.40 650.80,622.40 650.97,622.40 651.13,622.40 651.29,622.40 651.46,622.40 651.62,622.40 651.78,622.40 651.94,622.40 652.11,622.40 652.27,622.40 652.43,622.40 652.59,622.40 652.76,622.40 652.92,622.40 653.08,622.40 653.25,622.40 653.41,622.40 653.57,622.40 653.73,622.40 653.90,622.40 654.06,622.40 654.22,622.40 654.38,622.40 654.55,622.40 654.71,622.40 654.87,622.40 655.03,622.39 655.20,622.36 655.36,622.31 655.52,622.24 655.69,622.14 655.85,622.03 656.01,621.91 656.17,621.77 656.34,621.57 656.50,621.22 656.66,620.73 656.82,620.12 656.99,619.40 657.15,618.59 657.31,617.69 657.47,616.74 657.64,615.72 657.80,614.44 657.96,612.81 658.13,610.92 658.29,608.84 658.45,606.61 658.61,604.28 658.78,601.58 658.94,598.57 659.10,595.37 659.26,592.09 659.43,588.85 659.59,585.60 659.75,582.28 659.91,578.89 660.08,575.44 660.24,571.94 660.40,568.34 660.57,564.48 660.73,560.51 660.89,556.61 661.05,552.96 661.22,549.73 661.38,546.82 661.54,544.01 661.70,541.29 661.87,538.68 662.03,536.18 662.19,533.79 662.36,531.54 662.52,529.42 662.68,527.43 662.84,525.59 663.01,523.90 663.17,522.32 663.33,520.81 663.49,519.38 663.66,518.02 663.82,516.72 663.98,515.50 664.14,514.33 664.31,513.23 664.47,512.18 664.63,511.19 664.80,510.25 664.96,509.34 665.12,508.46 665.28,507.60 665.45,506.77 665.61,505.96 665.77,505.18 665.93,504.42 666.10,503.69 666.26,502.99 666.42,502.31 666.58,501.67 666.75,501.05 666.91,500.46 667.07,499.90 667.24,499.38 667.40,498.88 667.56,498.41 667.72,497.95 667.89,497.50 668.05,497.06 668.21,496.63 668.37,496.21 668.54,495.81 668.70,495.42 668.86,495.06 669.02,494.70 669.19,494.37 669.35,494.06 669.51,493.78 669.68,493.51 669.84,493.27 670.00,493.06 670.16,492.88 670.33,492.71 670.49,492.54 670.65,492.38 670.81,492.22 670.98,492.06 671.14,491.90 671.30,491.76 671.47,491.61 671.63,491.48 671.79,491.34 671.95,491.22 672.12,491.11 672.28,491.00 672.44,490.90 672.60,490.81 672.77,490.73 672.93,490.66 673.09,490.61 673.25,490.56 673.42,490.53 673.58,490.51 673.74,490.50 673.91,490.50 674.07,490.50 674.23,490.50 674.39,490.50 674.56,490.50 674.72,490.50 674.88,490.50 675.04,490.50 675.21,490.50 675.37,490.50 675.53,490.50 675.69,490.50 675.86,490.50 676.02,490.50 676.18,490.50 676.35,490.50 676.51,490.50 676.67,490.50 676.83,490.50 677.00,490.50 677.16,490.50 677.32,490.50 677.48,490.50 677.65,490.50 677.81,490.50 677.97,490.50 678.13,490.50 678.30,490.50 678.46,490.50 678.62,490.50" fill="none" stroke="#8a1fd6" stroke-width="1.65" stroke-dasharray="1.6 2.35"/>
</g>
<line x1="385.80" y1="490.50" x2="678.60" y2="490.50" stroke="#111" stroke-width="1.45" stroke-dasharray="4.6 2"/>
<line x1="385.80" y1="605.91" x2="678.60" y2="605.91" stroke="#111" stroke-width="1.45" stroke-dasharray="4.6 2"/>
<line x1="382.50" y1="622.40" x2="385.80" y2="622.40" stroke="#222" stroke-width="0.9" />
<text transform="translate(379.20,627.00) scale(1.04,1)" class="s" font-size="13" fill="#1a1a1a" text-anchor="end">0.00</text>
<line x1="382.50" y1="589.42" x2="385.80" y2="589.42" stroke="#222" stroke-width="0.9" />
<text transform="translate(379.20,594.02) scale(1.04,1)" class="s" font-size="13" fill="#1a1a1a" text-anchor="end">0.25</text>
<line x1="382.50" y1="556.45" x2="385.80" y2="556.45" stroke="#222" stroke-width="0.9" />
<text transform="translate(379.20,561.05) scale(1.04,1)" class="s" font-size="13" fill="#1a1a1a" text-anchor="end">0.50</text>
<line x1="382.50" y1="523.48" x2="385.80" y2="523.48" stroke="#222" stroke-width="0.9" />
<text transform="translate(379.20,528.08) scale(1.04,1)" class="s" font-size="13" fill="#1a1a1a" text-anchor="end">0.75</text>
<line x1="382.50" y1="490.50" x2="385.80" y2="490.50" stroke="#222" stroke-width="0.9" />
<text transform="translate(379.20,495.10) scale(1.04,1)" class="s" font-size="13" fill="#1a1a1a" text-anchor="end">1.00</text>
<line x1="385.80" y1="629.40" x2="385.80" y2="632.70" stroke="#222" stroke-width="0.9" />
<text transform="translate(385.80,644.60) scale(1.06,1)" class="s" font-size="13" fill="#1a1a1a" text-anchor="middle">0</text>
<line x1="451.90" y1="629.40" x2="451.90" y2="632.70" stroke="#222" stroke-width="0.9" />
<text transform="translate(451.90,644.60) scale(1.06,1)" class="s" font-size="13" fill="#1a1a1a" text-anchor="middle">2000</text>
<line x1="518.00" y1="629.40" x2="518.00" y2="632.70" stroke="#222" stroke-width="0.9" />
<text transform="translate(518.00,644.60) scale(1.06,1)" class="s" font-size="13" fill="#1a1a1a" text-anchor="middle">4000</text>
<line x1="584.10" y1="629.40" x2="584.10" y2="632.70" stroke="#222" stroke-width="0.9" />
<text transform="translate(584.10,644.60) scale(1.06,1)" class="s" font-size="13" fill="#1a1a1a" text-anchor="middle">6000</text>
<line x1="650.20" y1="629.40" x2="650.20" y2="632.70" stroke="#222" stroke-width="0.9" />
<text transform="translate(650.20,644.60) scale(1.06,1)" class="s" font-size="13" fill="#1a1a1a" text-anchor="middle">8000</text>
<text x="417.00" y="604.01" class="s" font-size="14.2" fill="#1a1a1a" text-anchor="start" >0.125</text>
<text x="584.6" y="510.8" font-size="19" fill="#1a1a1a"><tspan class="s" stroke="#1a1a1a" stroke-width="0.35">s = </tspan><tspan class="f">001</tspan></text>
<line x1="452.20" y1="513.80" x2="477.80" y2="513.80" stroke="#dc4a5e" stroke-width="1.3" />
<line x1="452.20" y1="532.10" x2="477.80" y2="532.10" stroke="#7a1cc4" stroke-width="1.9" stroke-dasharray="1.5 1.0"/>
<text x="486.40" y="517.20" class="s" font-size="18" fill="#1a1a1a" text-anchor="start"  stroke="#1a1a1a" stroke-width="0.3">p</text>
<text x="496.20" y="524.20" class="s" font-size="10" fill="#1a1a1a" text-anchor="start" >n</text>
<text x="502.00" y="517.20" class="s" font-size="18" fill="#1a1a1a" text-anchor="start"  stroke="#1a1a1a" stroke-width="0.3">(t)</text>
<text x="486.40" y="535.60" class="s" font-size="18" fill="#1a1a1a" text-anchor="start"  stroke="#1a1a1a" stroke-width="0.3">p</text>
<text x="495.80" y="542.00" class="s" font-size="10" fill="#1a1a1a" text-anchor="start" >n</text>
<circle cx="505.40" cy="538.40" r="3.3" fill="none" stroke="#1a1a1a" stroke-width="0.7"/>
<line x1="502.10" y1="538.40" x2="508.70" y2="538.40" stroke="#1a1a1a" stroke-width="0.7" />
<line x1="505.40" y1="535.10" x2="505.40" y2="541.70" stroke="#1a1a1a" stroke-width="0.7" />
<text x="510.00" y="542.00" class="s" font-size="10" fill="#1a1a1a" text-anchor="start" >s</text>
<text x="516.00" y="535.60" class="s" font-size="18" fill="#1a1a1a" text-anchor="start"  stroke="#1a1a1a" stroke-width="0.3">(t)</text>
<path d="M489.90,568.60 H493.50 V589.60 L497.70,586.90 L491.70,600.40 L485.70,586.90 L489.90,589.60 Z" fill="#111"/>
<path d="M572.30,568.60 H575.90 V589.60 L580.10,586.90 L574.10,600.40 L568.10,586.90 L572.30,589.60 Z" fill="#111"/>
<text x="59.00" y="479.90" class="b" font-size="19" fill="#1a1a1a" text-anchor="start" >f</text>
<text x="389.20" y="475.80" class="b" font-size="19" fill="#1a1a1a" text-anchor="start" >g</text>
<text transform="translate(15.2,604.4) rotate(-90)" class="s" font-size="19.2" fill="#1a1a1a" stroke="#1a1a1a" stroke-width="0.3">Probability</text>
<text x="52.20" y="659.60" class="s" font-size="18.5" fill="#1a1a1a" text-anchor="start"  stroke="#1a1a1a" stroke-width="0.3">t</text>
<text x="57.60" y="665.20" class="s" font-size="10.5" fill="#1a1a1a" text-anchor="start" >i</text>
<text x="344.40" y="659.60" class="s" font-size="18.5" fill="#1a1a1a" text-anchor="start"  stroke="#1a1a1a" stroke-width="0.3">t</text>
<text x="349.80" y="665.20" class="s" font-size="10.5" fill="#1a1a1a" text-anchor="start" >c</text>
<text x="381.80" y="659.60" class="s" font-size="18.5" fill="#1a1a1a" text-anchor="start"  stroke="#1a1a1a" stroke-width="0.3">t</text>
<text x="387.20" y="665.20" class="s" font-size="10.5" fill="#1a1a1a" text-anchor="start" >i</text>
<text x="673.80" y="659.60" class="s" font-size="18.5" fill="#1a1a1a" text-anchor="start"  stroke="#1a1a1a" stroke-width="0.3">t</text>
<text x="679.20" y="665.20" class="s" font-size="10.5" fill="#1a1a1a" text-anchor="start" >c</text>
<text x="182.20" y="659.60" class="s" font-size="18.5" fill="#1a1a1a" text-anchor="start"  stroke="#1a1a1a" stroke-width="0.3">t - t</text>
<text x="209.50" y="665.20" class="s" font-size="10.5" fill="#1a1a1a" text-anchor="start" >i</text>
<text x="217.60" y="659.80" class="f" font-size="20" fill="#1a1a1a" text-anchor="start" >[</text>
<text x="223.40" y="659.60" class="f" font-size="21" fill="#1a1a1a" text-anchor="start" >τ</text>
<text x="232.10" y="664.80" class="s" font-size="10.5" fill="#1a1a1a" text-anchor="start" >e</text>
<text x="239.80" y="659.80" class="f" font-size="20" fill="#1a1a1a" text-anchor="start" >]</text>
<text x="504.80" y="659.60" class="s" font-size="18.5" fill="#1a1a1a" text-anchor="start"  stroke="#1a1a1a" stroke-width="0.3">t - t</text>
<text x="532.10" y="665.20" class="s" font-size="10.5" fill="#1a1a1a" text-anchor="start" >i</text>
<text x="540.20" y="659.80" class="f" font-size="20" fill="#1a1a1a" text-anchor="start" >[</text>
<text x="546.00" y="659.60" class="f" font-size="21" fill="#1a1a1a" text-anchor="start" >τ</text>
<text x="554.70" y="664.80" class="s" font-size="10.5" fill="#1a1a1a" text-anchor="start" >e</text>
<text x="562.40" y="659.80" class="f" font-size="20" fill="#1a1a1a" text-anchor="start" >]</text>
</svg>
</body></html>
